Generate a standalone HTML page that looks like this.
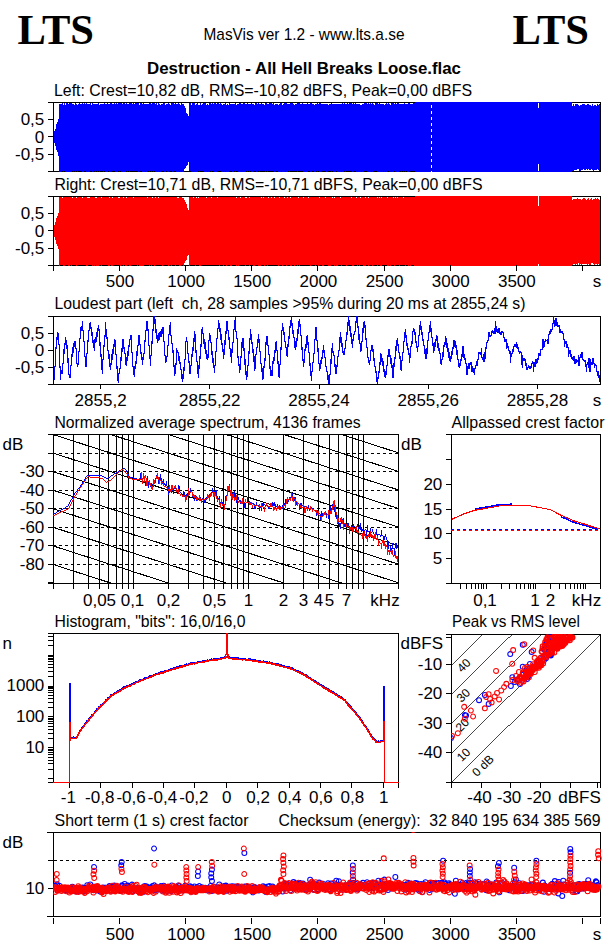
<!DOCTYPE html>
<html><head><meta charset="utf-8"><style>
html,body{margin:0;padding:0;background:#fff;width:606px;height:946px;overflow:hidden}
svg{display:block}
</style></head><body>
<svg width="606" height="946" viewBox="0 0 606 946" shape-rendering="crispEdges">
<text x="17.5" y="44" font-size="42" text-anchor="start" font-weight="bold" fill="#000" font-family='"Liberation Serif", serif' textLength="76.5" lengthAdjust="spacingAndGlyphs" >LTS</text>
<text x="512.5" y="44" font-size="42" text-anchor="start" font-weight="bold" fill="#000" font-family='"Liberation Serif", serif' textLength="76.5" lengthAdjust="spacingAndGlyphs" >LTS</text>
<text x="203.5" y="40" font-size="17" text-anchor="start" font-weight="normal" fill="#000" font-family='"Liberation Sans", sans-serif' textLength="201" lengthAdjust="spacingAndGlyphs" >MasVis ver 1.2 - www.lts.a.se</text>
<text x="147" y="74" font-size="17" text-anchor="start" font-weight="bold" fill="#000" font-family='"Liberation Sans", sans-serif' textLength="314" lengthAdjust="spacingAndGlyphs" >Destruction - All Hell Breaks Loose.flac</text>
<text x="54" y="96" font-size="17" text-anchor="start" font-weight="normal" fill="#000" font-family='"Liberation Sans", sans-serif' textLength="418" lengthAdjust="spacingAndGlyphs" >Left: Crest=10,82 dB, RMS=-10,82 dBFS, Peak=0,00 dBFS</text>
<text x="54.5" y="190" font-size="17" text-anchor="start" font-weight="normal" fill="#000" font-family='"Liberation Sans", sans-serif' textLength="428" lengthAdjust="spacingAndGlyphs" >Right: Crest=10,71 dB, RMS=-10,71 dBFS, Peak=0,00 dBFS</text>
<text x="54.5" y="309" font-size="17" text-anchor="start" font-weight="normal" fill="#000" font-family='"Liberation Sans", sans-serif' textLength="471" lengthAdjust="spacingAndGlyphs" xml:space="preserve">Loudest part (left  ch, 28 samples &gt;95% during 20 ms at 2855,24 s)</text>
<text x="54.5" y="428" font-size="17" text-anchor="start" font-weight="normal" fill="#000" font-family='"Liberation Sans", sans-serif' textLength="306" lengthAdjust="spacingAndGlyphs" >Normalized average spectrum, 4136 frames</text>
<text x="451.5" y="428" font-size="17" text-anchor="start" font-weight="normal" fill="#000" font-family='"Liberation Sans", sans-serif' textLength="153" lengthAdjust="spacingAndGlyphs" >Allpassed crest factor</text>
<text x="54.5" y="627" font-size="17" text-anchor="start" font-weight="normal" fill="#000" font-family='"Liberation Sans", sans-serif' textLength="191" lengthAdjust="spacingAndGlyphs" >Histogram, &quot;bits&quot;: 16,0/16,0</text>
<text x="452" y="627" font-size="17" text-anchor="start" font-weight="normal" fill="#000" font-family='"Liberation Sans", sans-serif' textLength="128" lengthAdjust="spacingAndGlyphs" >Peak vs RMS level</text>
<text x="54.5" y="826" font-size="17" text-anchor="start" font-weight="normal" fill="#000" font-family='"Liberation Sans", sans-serif' textLength="194" lengthAdjust="spacingAndGlyphs" >Short term (1 s) crest factor</text>
<text x="278.5" y="826" font-size="17" text-anchor="start" font-weight="normal" fill="#000" font-family='"Liberation Sans", sans-serif' textLength="322" lengthAdjust="spacingAndGlyphs" xml:space="preserve">Checksum (energy):  32 840 195 634 385 569</text>
<path d="M48 102.5H601" stroke="#000" />
<path d="M48 171.5H601" stroke="#000" />
<path d="M53.5 102V172" stroke="#000" />
<path d="M600.5 102V172" stroke="#000" />
<path d="M48 119.5H53" stroke="#000" />
<path d="M48 136.5H53" stroke="#000" />
<path d="M48 154.5H53" stroke="#000" />
<path d="M54.5 131V143M55.5 129V146M56.5 124V150M57.5 122V152M58.5 119V156M59.5 104V172M60.5 104V172M61.5 104V171M62.5 103V171M63.5 105V172M64.5 103V171M65.5 105V172M66.5 103V172M67.5 103V172M68.5 104V172M69.5 103V172M70.5 103V172M71.5 103V172M72.5 104V171M73.5 104V172M74.5 105V171M75.5 103V172M76.5 104V171M77.5 105V172M78.5 104V171M79.5 103V171M80.5 104V171M81.5 104V171M82.5 103V172M83.5 104V172M84.5 103V171M85.5 104V171M86.5 103V172M87.5 104V171M88.5 104V172M89.5 104V172M90.5 103V171M91.5 105V171M92.5 103V172M93.5 104V171M94.5 104V171M95.5 104V172M96.5 104V171M97.5 104V172M98.5 103V171M99.5 105V172M100.5 104V171M101.5 104V171M102.5 104V171M103.5 104V172M104.5 103V171M105.5 104V172M106.5 104V172M107.5 103V172M108.5 104V171M109.5 104V172M110.5 103V172M111.5 103V171M112.5 104V171M113.5 104V171M114.5 103V171M115.5 104V172M116.5 103V172M117.5 104V172M118.5 103V171M119.5 103V172M120.5 103V171M121.5 103V172M122.5 104V172M123.5 103V172M124.5 103V172M125.5 104V172M126.5 103V171M127.5 104V172M128.5 104V171M129.5 103V172M130.5 103V171M131.5 103V171M132.5 104V171M133.5 103V171M134.5 104V171M135.5 103V171M136.5 103V171M137.5 103V171M138.5 103V172M139.5 105V171M140.5 103V171M141.5 103V171M142.5 104V172M143.5 103V172M144.5 104V172M145.5 104V171M146.5 104V172M147.5 104V171M148.5 104V171M149.5 103V172M150.5 103V171M151.5 104V172M152.5 103V171M153.5 103V172M154.5 103V171M155.5 104V172M156.5 103V172M157.5 105V171M158.5 103V172M159.5 104V171M160.5 105V172M161.5 104V171M162.5 104V171M163.5 103V171M164.5 103V172M165.5 105V172M166.5 104V171M167.5 104V172M168.5 103V172M169.5 104V171M170.5 105V171M171.5 103V171M172.5 103V172M173.5 103V171M174.5 104V171M175.5 103V171M176.5 104V172M177.5 104V172M178.5 103V172M179.5 104V171M180.5 105V172M181.5 103V171M182.5 104V172M183.5 104V172M184.5 106V169M185.5 108V168M186.5 113V166M187.5 114V165M188.5 116V162M189.5 103V171M190.5 103V171M191.5 105V172M192.5 103V172M193.5 103V171M194.5 103V172M195.5 105V172M196.5 104V172M197.5 103V172M198.5 105V171M199.5 105V172M200.5 103V171M201.5 105V171M202.5 104V171M203.5 103V171M204.5 103V172M205.5 103V172M206.5 105V172M207.5 104V171M208.5 105V172M209.5 103V172M210.5 103V171M211.5 104V172M212.5 103V171M213.5 104V171M214.5 103V172M215.5 103V172M216.5 104V172M217.5 103V171M218.5 103V171M219.5 104V171M220.5 103V171M221.5 104V172M222.5 105V172M223.5 104V171M224.5 104V172M225.5 103V171M226.5 105V172M227.5 104V172M228.5 105V172M229.5 103V171M230.5 104V171M231.5 104V171M232.5 104V172M233.5 104V172M234.5 104V171M235.5 103V172M236.5 105V171M237.5 104V171M238.5 104V172M239.5 103V172M240.5 103V172M241.5 104V172M242.5 104V172M243.5 103V172M244.5 103V172M245.5 104V172M246.5 104V171M247.5 103V172M248.5 104V171M249.5 104V172M250.5 104V171M251.5 103V172M252.5 104V172M253.5 104V171M254.5 105V171M255.5 103V171M256.5 103V172M257.5 104V171M258.5 103V171M259.5 104V172M260.5 104V171M261.5 103V171M262.5 104V171M263.5 104V171M264.5 105V171M265.5 103V172M266.5 103V171M267.5 104V172M268.5 104V171M269.5 103V171M270.5 103V171M271.5 103V171M272.5 104V171M273.5 103V171M274.5 105V172M275.5 104V171M276.5 104V171M277.5 104V171M278.5 105V172M279.5 104V172M280.5 103V172M281.5 103V171M282.5 105V172M283.5 104V172M284.5 103V172M285.5 103V171M286.5 103V172M287.5 104V172M288.5 104V171M289.5 104V172M290.5 103V171M291.5 103V171M292.5 103V171M293.5 104V171M294.5 105V171M295.5 104V171M296.5 104V171M297.5 103V172M298.5 103V171M299.5 103V171M300.5 104V171M301.5 104V171M302.5 103V171M303.5 104V172M304.5 104V172M305.5 104V172M306.5 104V172M307.5 103V172M308.5 104V171M309.5 104V171M310.5 103V172M311.5 103V172M312.5 104V171M313.5 104V171M314.5 105V172M315.5 104V172M316.5 104V171M317.5 103V172M318.5 104V171M319.5 103V172M320.5 103V172M321.5 104V171M322.5 104V171M323.5 104V171M324.5 104V171M325.5 104V171M326.5 104V172M327.5 104V171M328.5 105V171M329.5 104V171M330.5 104V171M331.5 103V172M332.5 104V171M333.5 104V172M334.5 104V172M335.5 104V172M336.5 104V171M337.5 104V172M338.5 104V172M339.5 104V171M340.5 104V172M341.5 104V171M342.5 103V172M343.5 104V172M344.5 103V171M345.5 104V172M346.5 104V171M347.5 103V171M348.5 104V171M349.5 103V171M350.5 103V171M351.5 103V171M352.5 104V172M353.5 103V171M354.5 104V171M355.5 103V171M356.5 104V172M357.5 104V171M358.5 104V172M359.5 104V172M360.5 105V172M361.5 105V171M362.5 104V172M363.5 104V172M364.5 103V171M365.5 103V171M366.5 103V171M367.5 104V172M368.5 103V172M369.5 104V172M370.5 103V172M371.5 104V171M372.5 103V172M373.5 104V171M374.5 105V171M375.5 103V171M376.5 103V171M377.5 103V172M378.5 104V172M379.5 103V172M380.5 104V172M381.5 104V172M382.5 104V172M383.5 104V171M384.5 105V172M385.5 104V171M386.5 103V172M387.5 104V171M388.5 103V171M389.5 104V172M390.5 105V172M391.5 103V171M392.5 103V172M393.5 103V172M394.5 104V171M395.5 103V172M396.5 104V172M397.5 103V172M398.5 103V172M399.5 104V171M400.5 104V171M401.5 104V172M402.5 104V171M403.5 104V172M404.5 103V171M405.5 104V172M406.5 104V171M407.5 104V172M408.5 103V172M409.5 103V171M410.5 104V171M411.5 104V171M412.5 104V171M413.5 103V171M414.5 103V171M415.5 102V172M416.5 102V172M417.5 102V172M418.5 102V172M419.5 102V172M420.5 102V172M421.5 102V172M422.5 102V172M423.5 102V172M424.5 102V172M425.5 102V172M426.5 102V172M427.5 102V172M428.5 102V172M429.5 102V172M430.5 102V172M431.5 102V172M432.5 102V172M433.5 102V172M434.5 102V172M435.5 102V172M436.5 102V172M437.5 102V172M438.5 102V172M439.5 102V172M440.5 102V172M441.5 102V172M442.5 102V172M443.5 102V172M444.5 102V172M445.5 102V172M446.5 102V172M447.5 102V172M448.5 102V172M449.5 102V172M450.5 102V172M451.5 102V172M452.5 102V172M453.5 102V172M454.5 102V172M455.5 102V172M456.5 102V172M457.5 102V172M458.5 102V172M459.5 102V172M460.5 102V172M461.5 102V172M462.5 102V172M463.5 102V172M464.5 102V172M465.5 102V172M466.5 102V172M467.5 102V172M468.5 102V172M469.5 102V172M470.5 102V172M471.5 102V172M472.5 102V172M473.5 102V172M474.5 102V172M475.5 102V172M476.5 102V172M477.5 102V172M478.5 102V172M479.5 102V172M480.5 102V172M481.5 102V172M482.5 102V172M483.5 102V172M484.5 102V172M485.5 102V172M486.5 102V172M487.5 102V172M488.5 102V172M489.5 102V172M490.5 102V172M491.5 102V172M492.5 102V172M493.5 102V172M494.5 102V172M495.5 102V172M496.5 102V172M497.5 102V172M498.5 102V172M499.5 102V172M500.5 102V172M501.5 102V172M502.5 102V172M503.5 102V172M504.5 102V172M505.5 102V172M506.5 102V172M507.5 102V172M508.5 102V172M509.5 102V172M510.5 102V172M511.5 102V172M512.5 102V172M513.5 102V172M514.5 102V172M515.5 102V172M516.5 102V172M517.5 102V172M518.5 102V172M519.5 102V172M520.5 102V172M521.5 102V172M522.5 102V172M523.5 102V172M524.5 102V172M525.5 102V172M526.5 102V172M527.5 102V172M528.5 102V172M529.5 102V172M530.5 102V172M531.5 102V172M532.5 102V172M533.5 102V172M534.5 102V172M535.5 102V172M536.5 102V172M537.5 102V172M538.5 102V172M539.5 102V172M540.5 102V172M541.5 102V172M542.5 102V172M543.5 102V172M544.5 102V172M545.5 102V172M546.5 102V172M547.5 102V172M548.5 102V172M549.5 102V172M550.5 102V172M551.5 102V172M552.5 102V172M553.5 102V172M554.5 102V172M555.5 102V172M556.5 102V172M557.5 102V172M558.5 102V172M559.5 102V172M560.5 102V172M561.5 102V172M562.5 102V172M563.5 102V172M564.5 102V172M565.5 102V172M566.5 102V172M567.5 102V172M568.5 102V172M569.5 102V172M570.5 102V172M571.5 102V172M572.5 106V171M573.5 104V171M574.5 106V170M575.5 104V170M576.5 104V170M577.5 104V169M578.5 105V169M579.5 106V171M580.5 105V171M581.5 105V170M582.5 104V170M583.5 104V169M584.5 104V170M585.5 105V170M586.5 105V169M587.5 104V170M588.5 104V169M589.5 105V170M590.5 105V170M591.5 106V169M592.5 104V170M593.5 106V171M594.5 105V170M595.5 105V170M596.5 106V170M597.5 104V169M598.5 105V170M599.5 104V171" stroke="#0000ff"/>
<path d="M431.5 102V172" stroke="#000"/><path d="M431.5 105V172" stroke="#fff" stroke-dasharray="3 3"/>
<path d="M538.5 103V108M538.5 164V171" stroke="#fff"/>
<text transform="translate(44.3 125.25) scale(1.0 1)" font-size="17" text-anchor="end" font-family='"Liberation Sans", sans-serif'>0,5</text>
<text transform="translate(44.3 142.5) scale(1.0 1)" font-size="17" text-anchor="end" font-family='"Liberation Sans", sans-serif'>0</text>
<text transform="translate(44.3 159.75) scale(1.0 1)" font-size="17" text-anchor="end" font-family='"Liberation Sans", sans-serif'>-0,5</text>
<path d="M48 196.5H601" stroke="#000" />
<path d="M48 265.5H601" stroke="#000" />
<path d="M53.5 196V266" stroke="#000" />
<path d="M600.5 196V266" stroke="#000" />
<path d="M48 213.5H53" stroke="#000" />
<path d="M48 230.5H53" stroke="#000" />
<path d="M48 248.5H53" stroke="#000" />
<path d="M54.5 225V237M55.5 222V240M56.5 218V244M57.5 216V246M58.5 213V249M59.5 197V266M60.5 197V265M61.5 197V265M62.5 198V265M63.5 197V266M64.5 197V266M65.5 197V265M66.5 197V265M67.5 197V265M68.5 197V266M69.5 197V266M70.5 197V265M71.5 197V266M72.5 198V265M73.5 197V265M74.5 197V265M75.5 197V265M76.5 198V266M77.5 197V265M78.5 197V265M79.5 197V265M80.5 197V265M81.5 197V265M82.5 198V265M83.5 197V265M84.5 197V265M85.5 197V265M86.5 197V266M87.5 198V266M88.5 198V265M89.5 198V265M90.5 197V265M91.5 197V265M92.5 197V266M93.5 197V265M94.5 197V266M95.5 198V265M96.5 198V266M97.5 197V266M98.5 197V266M99.5 197V265M100.5 197V265M101.5 198V266M102.5 197V265M103.5 197V265M104.5 197V265M105.5 197V265M106.5 197V265M107.5 197V265M108.5 197V266M109.5 198V266M110.5 197V265M111.5 197V266M112.5 198V266M113.5 197V265M114.5 197V265M115.5 197V265M116.5 197V265M117.5 197V265M118.5 198V265M119.5 198V265M120.5 197V266M121.5 197V265M122.5 197V265M123.5 198V266M124.5 197V265M125.5 197V266M126.5 198V266M127.5 197V265M128.5 197V265M129.5 197V266M130.5 197V266M131.5 197V265M132.5 197V265M133.5 198V265M134.5 197V265M135.5 197V265M136.5 197V265M137.5 197V266M138.5 197V265M139.5 197V266M140.5 197V266M141.5 197V266M142.5 197V266M143.5 197V266M144.5 197V265M145.5 197V265M146.5 197V265M147.5 198V265M148.5 197V265M149.5 197V266M150.5 197V265M151.5 197V266M152.5 198V265M153.5 197V265M154.5 197V266M155.5 198V265M156.5 197V265M157.5 197V265M158.5 198V265M159.5 197V265M160.5 197V265M161.5 197V265M162.5 197V266M163.5 197V265M164.5 197V265M165.5 197V265M166.5 197V265M167.5 197V265M168.5 197V266M169.5 197V265M170.5 197V265M171.5 197V266M172.5 197V265M173.5 197V265M174.5 197V265M175.5 197V266M176.5 197V265M177.5 198V265M178.5 198V265M179.5 197V266M180.5 197V266M181.5 197V265M182.5 198V265M183.5 198V266M184.5 200V263M185.5 202V261M186.5 204V260M187.5 208V256M188.5 210V255M189.5 197V266M190.5 197V265M191.5 197V265M192.5 197V265M193.5 198V265M194.5 197V265M195.5 197V266M196.5 198V265M197.5 197V265M198.5 198V265M199.5 197V266M200.5 197V266M201.5 197V265M202.5 197V265M203.5 197V265M204.5 197V265M205.5 197V265M206.5 198V265M207.5 197V265M208.5 197V265M209.5 197V265M210.5 197V265M211.5 198V265M212.5 197V265M213.5 197V265M214.5 197V265M215.5 197V265M216.5 197V265M217.5 198V265M218.5 197V265M219.5 197V266M220.5 197V265M221.5 197V265M222.5 197V265M223.5 197V266M224.5 197V265M225.5 197V265M226.5 197V266M227.5 197V265M228.5 197V265M229.5 197V265M230.5 197V266M231.5 197V266M232.5 197V265M233.5 197V265M234.5 197V265M235.5 197V265M236.5 198V266M237.5 197V265M238.5 197V266M239.5 197V265M240.5 198V265M241.5 197V265M242.5 197V265M243.5 197V265M244.5 197V265M245.5 198V266M246.5 198V265M247.5 197V265M248.5 197V265M249.5 198V266M250.5 197V265M251.5 197V265M252.5 197V265M253.5 197V266M254.5 197V266M255.5 197V265M256.5 197V265M257.5 197V265M258.5 197V266M259.5 197V266M260.5 197V266M261.5 198V265M262.5 197V265M263.5 198V265M264.5 197V266M265.5 197V265M266.5 197V265M267.5 197V266M268.5 198V265M269.5 197V265M270.5 197V265M271.5 198V265M272.5 197V265M273.5 197V265M274.5 198V265M275.5 197V265M276.5 197V265M277.5 197V265M278.5 197V266M279.5 198V265M280.5 197V265M281.5 197V265M282.5 197V266M283.5 197V265M284.5 198V265M285.5 197V265M286.5 197V266M287.5 198V265M288.5 197V265M289.5 197V265M290.5 198V266M291.5 197V266M292.5 197V265M293.5 197V265M294.5 197V266M295.5 197V265M296.5 197V265M297.5 197V266M298.5 198V265M299.5 197V266M300.5 197V265M301.5 197V265M302.5 197V265M303.5 198V265M304.5 197V265M305.5 197V265M306.5 197V265M307.5 197V265M308.5 198V265M309.5 197V265M310.5 197V266M311.5 197V265M312.5 197V265M313.5 197V265M314.5 197V265M315.5 197V266M316.5 197V265M317.5 197V266M318.5 197V266M319.5 198V265M320.5 197V265M321.5 197V265M322.5 197V266M323.5 197V266M324.5 197V265M325.5 198V265M326.5 197V265M327.5 197V265M328.5 197V266M329.5 197V266M330.5 197V266M331.5 197V265M332.5 198V265M333.5 197V265M334.5 198V266M335.5 197V265M336.5 197V266M337.5 197V266M338.5 197V265M339.5 197V265M340.5 198V265M341.5 197V266M342.5 197V265M343.5 197V265M344.5 197V265M345.5 197V265M346.5 197V266M347.5 197V265M348.5 197V265M349.5 197V265M350.5 197V265M351.5 198V265M352.5 197V266M353.5 197V266M354.5 197V265M355.5 197V265M356.5 198V265M357.5 197V266M358.5 197V265M359.5 197V266M360.5 198V265M361.5 197V265M362.5 197V265M363.5 197V266M364.5 197V266M365.5 198V266M366.5 197V265M367.5 197V265M368.5 198V266M369.5 197V265M370.5 197V265M371.5 197V265M372.5 197V266M373.5 197V265M374.5 197V265M375.5 197V265M376.5 197V265M377.5 198V266M378.5 197V265M379.5 198V265M380.5 197V266M381.5 198V266M382.5 197V265M383.5 197V265M384.5 197V266M385.5 197V265M386.5 197V265M387.5 198V266M388.5 197V266M389.5 197V265M390.5 197V266M391.5 197V265M392.5 197V265M393.5 198V265M394.5 197V266M395.5 198V265M396.5 197V265M397.5 198V265M398.5 197V265M399.5 197V266M400.5 197V265M401.5 197V265M402.5 197V265M403.5 198V265M404.5 197V265M405.5 197V266M406.5 197V265M407.5 197V265M408.5 197V266M409.5 197V265M410.5 197V266M411.5 197V265M412.5 197V265M413.5 197V265M414.5 197V266M415.5 196V266M416.5 196V266M417.5 196V266M418.5 196V266M419.5 196V266M420.5 196V266M421.5 196V266M422.5 196V266M423.5 196V266M424.5 196V266M425.5 196V266M426.5 196V266M427.5 196V266M428.5 196V266M429.5 196V266M430.5 196V266M431.5 196V266M432.5 196V266M433.5 196V266M434.5 196V266M435.5 196V266M436.5 196V266M437.5 196V266M438.5 196V266M439.5 196V266M440.5 196V266M441.5 196V266M442.5 196V266M443.5 196V266M444.5 196V266M445.5 196V266M446.5 196V266M447.5 196V266M448.5 196V266M449.5 196V266M450.5 196V266M451.5 196V266M452.5 196V266M453.5 196V266M454.5 196V266M455.5 196V266M456.5 196V266M457.5 196V266M458.5 196V266M459.5 196V266M460.5 196V266M461.5 196V266M462.5 196V266M463.5 196V266M464.5 196V266M465.5 196V266M466.5 196V266M467.5 196V266M468.5 196V266M469.5 196V266M470.5 196V266M471.5 196V266M472.5 196V266M473.5 196V266M474.5 196V266M475.5 196V266M476.5 196V266M477.5 196V266M478.5 196V266M479.5 196V266M480.5 196V266M481.5 196V266M482.5 196V266M483.5 196V266M484.5 196V266M485.5 196V266M486.5 196V266M487.5 196V266M488.5 196V266M489.5 196V266M490.5 196V266M491.5 196V266M492.5 196V266M493.5 196V266M494.5 196V266M495.5 196V266M496.5 196V266M497.5 196V266M498.5 196V266M499.5 196V266M500.5 196V266M501.5 196V266M502.5 196V266M503.5 196V266M504.5 196V266M505.5 196V266M506.5 196V266M507.5 196V266M508.5 196V266M509.5 196V266M510.5 196V266M511.5 196V266M512.5 196V266M513.5 196V266M514.5 196V266M515.5 196V266M516.5 196V266M517.5 196V266M518.5 196V266M519.5 196V266M520.5 196V266M521.5 196V266M522.5 196V266M523.5 196V266M524.5 196V266M525.5 196V266M526.5 196V266M527.5 196V266M528.5 196V266M529.5 196V266M530.5 196V266M531.5 196V266M532.5 196V266M533.5 196V266M534.5 196V266M535.5 196V266M536.5 196V266M537.5 196V266M538.5 196V266M539.5 196V266M540.5 196V266M541.5 196V266M542.5 196V266M543.5 196V266M544.5 196V266M545.5 196V266M546.5 196V266M547.5 196V266M548.5 196V266M549.5 196V266M550.5 196V266M551.5 196V266M552.5 196V266M553.5 196V266M554.5 196V266M555.5 196V266M556.5 196V266M557.5 196V266M558.5 196V266M559.5 196V266M560.5 196V266M561.5 196V266M562.5 196V266M563.5 196V266M564.5 196V266M565.5 196V266M566.5 196V266M567.5 196V266M568.5 196V266M569.5 196V266M570.5 196V266M571.5 196V266M572.5 200V265M573.5 199V264M574.5 199V264M575.5 199V265M576.5 199V264M577.5 198V265M578.5 199V263M579.5 199V265M580.5 199V264M581.5 200V265M582.5 199V264M583.5 198V264M584.5 198V264M585.5 199V264M586.5 200V264M587.5 199V265M588.5 198V264M589.5 200V265M590.5 199V265M591.5 198V263M592.5 200V263M593.5 199V264M594.5 199V265M595.5 198V264M596.5 199V264M597.5 198V265M598.5 199V264M599.5 200V265" stroke="#ff0000"/>
<path d="M538.5 196V206M538.5 264V266" stroke="#fff"/>
<text transform="translate(44.3 219.25) scale(1.0 1)" font-size="17" text-anchor="end" font-family='"Liberation Sans", sans-serif'>0,5</text>
<text transform="translate(44.3 236.5) scale(1.0 1)" font-size="17" text-anchor="end" font-family='"Liberation Sans", sans-serif'>0</text>
<text transform="translate(44.3 253.75) scale(1.0 1)" font-size="17" text-anchor="end" font-family='"Liberation Sans", sans-serif'>-0,5</text>
<path d="M53.5 265V271" stroke="#000" />
<path d="M119.5 265V271" stroke="#000" />
<text transform="translate(119.95 287) scale(1.0 1)" font-size="17" text-anchor="middle" font-family='"Liberation Sans", sans-serif'>500</text>
<path d="M185.5 265V271" stroke="#000" />
<text transform="translate(186.10000000000002 287) scale(1.0 1)" font-size="17" text-anchor="middle" font-family='"Liberation Sans", sans-serif'>1000</text>
<path d="M251.5 265V271" stroke="#000" />
<text transform="translate(252.25 287) scale(1.0 1)" font-size="17" text-anchor="middle" font-family='"Liberation Sans", sans-serif'>1500</text>
<path d="M317.5 265V271" stroke="#000" />
<text transform="translate(318.40000000000003 287) scale(1.0 1)" font-size="17" text-anchor="middle" font-family='"Liberation Sans", sans-serif'>2000</text>
<path d="M384.5 265V271" stroke="#000" />
<text transform="translate(384.55 287) scale(1.0 1)" font-size="17" text-anchor="middle" font-family='"Liberation Sans", sans-serif'>2500</text>
<path d="M450.5 265V271" stroke="#000" />
<text transform="translate(450.70000000000005 287) scale(1.0 1)" font-size="17" text-anchor="middle" font-family='"Liberation Sans", sans-serif'>3000</text>
<path d="M516.5 265V271" stroke="#000" />
<text transform="translate(516.85 287) scale(1.0 1)" font-size="17" text-anchor="middle" font-family='"Liberation Sans", sans-serif'>3500</text>
<path d="M582.5 265V271" stroke="#000" />
<text transform="translate(597 287) scale(1.0 1)" font-size="17" text-anchor="middle" font-family='"Liberation Sans", sans-serif'>s</text>
<path d="M48 316.5H601" stroke="#000" />
<path d="M48 384.5H601" stroke="#000" />
<path d="M53.5 316V385" stroke="#000" />
<path d="M600.5 316V385" stroke="#000" />
<path d="M48 333.5H53" stroke="#000" />
<path d="M48 350.5H53" stroke="#000" />
<path d="M48 367.5H53" stroke="#000" />
<text transform="translate(44.3 339.0) scale(1.0 1)" font-size="17" text-anchor="end" font-family='"Liberation Sans", sans-serif'>0,5</text>
<text transform="translate(44.3 356.0) scale(1.0 1)" font-size="17" text-anchor="end" font-family='"Liberation Sans", sans-serif'>0</text>
<text transform="translate(44.3 373.0) scale(1.0 1)" font-size="17" text-anchor="end" font-family='"Liberation Sans", sans-serif'>-0,5</text>
<path d="M54.5 366V380M55.5 347V367M56.5 337V349M57.5 332V340M58.5 333V345M59.5 344V368M60.5 366V380M61.5 370V374M62.5 363V374M63.5 349V364M64.5 343V354M65.5 337V345M66.5 340V349M67.5 345V363M68.5 358V375M69.5 374V378M70.5 365V378M71.5 354V366M72.5 347V357M73.5 343V353M74.5 341V347M75.5 341V349M76.5 348V364M77.5 363V367M78.5 351V365M79.5 338V352M80.5 327V339M81.5 326V331M82.5 321V331M83.5 330V342M84.5 341V357M85.5 356V367M86.5 353V367M87.5 340V354M88.5 330V342M89.5 323V331M90.5 322V329M91.5 327V336M92.5 332V343M93.5 340V348M94.5 339V351M95.5 337V343M96.5 332V342M97.5 328V337M98.5 325V331M99.5 329V346M100.5 342V357M101.5 354V370M102.5 359V374M103.5 345V360M104.5 335V347M105.5 322V337M106.5 329V339M107.5 337V351M108.5 350V359M109.5 354V367M110.5 363V370M111.5 354V365M112.5 349V360M113.5 344V354M114.5 339V347M115.5 340V355M116.5 354V369M117.5 366V381M118.5 373V383M119.5 368V374M120.5 357V369M121.5 348V361M122.5 339V352M123.5 339V349M124.5 347V354M125.5 353V365M126.5 357V366M127.5 351V361M128.5 345V356M129.5 339V347M130.5 335V340M131.5 335V353M132.5 352V367M133.5 366V375M134.5 366V377M135.5 361V369M136.5 351V364M137.5 345V356M138.5 335V346M139.5 335V345M140.5 344V354M141.5 352V360M142.5 357V365M143.5 353V360M144.5 340V354M145.5 330V342M146.5 321V331M147.5 321V331M148.5 329V346M149.5 345V359M150.5 355V366M151.5 341V356M152.5 329V344M153.5 316V331M154.5 316V324M155.5 319V333M156.5 329V339M157.5 335V343M158.5 333V341M159.5 332V340M160.5 331V337M161.5 329V337M162.5 327V334M163.5 327V342M164.5 341V356M165.5 355V363M166.5 356V362M167.5 345V357M168.5 334V346M169.5 325V335M170.5 322V336M171.5 335V344M172.5 343V353M173.5 350V367M174.5 365V376M175.5 363V374M176.5 348V365M177.5 350V353M178.5 352V361M179.5 356V364M180.5 362V370M181.5 369V379M182.5 374V382M183.5 367V379M184.5 359V371M185.5 341V360M186.5 337V342M187.5 341V354M188.5 353V363M189.5 361V374M190.5 365V374M191.5 354V366M192.5 347V357M193.5 338V351M194.5 331V342M195.5 334V353M196.5 350V362M197.5 361V374M198.5 365V378M199.5 356V369M200.5 344V359M201.5 329V347M202.5 327V334M203.5 333V344M204.5 339V349M205.5 342V354M206.5 350V359M207.5 354V360M208.5 340V358M209.5 333V341M210.5 335V343M211.5 342V355M212.5 351V363M213.5 358V368M214.5 365V373M215.5 351V366M216.5 338V352M217.5 328V339M218.5 320V329M219.5 323V332M220.5 328V340M221.5 334V345M222.5 343V352M223.5 349V359M224.5 340V355M225.5 331V345M226.5 321V334M227.5 321V331M228.5 330V340M229.5 337V349M230.5 348V357M231.5 349V363M232.5 342V353M233.5 329V343M234.5 320V330M235.5 317V332M236.5 331V339M237.5 338V358M238.5 356V366M239.5 364V373M240.5 356V370M241.5 342V358M242.5 338V348M243.5 338V351M244.5 348V365M245.5 359V375M246.5 371V380M247.5 365V377M248.5 351V366M249.5 338V354M250.5 329V340M251.5 334V344M252.5 342V353M253.5 349V362M254.5 356V371M255.5 354V369M256.5 347V355M257.5 339V348M258.5 334V343M259.5 339V352M260.5 351V364M261.5 363V372M262.5 368V380M263.5 366V379M264.5 358V368M265.5 342V361M266.5 336V345M267.5 336V346M268.5 345V355M269.5 354V369M270.5 366V376M271.5 370V376M272.5 361V376M273.5 357V364M274.5 350V361M275.5 342V353M276.5 341V351M277.5 350V364M278.5 361V377M279.5 364V378M280.5 347V365M281.5 330V350M282.5 323V331M283.5 327V335M284.5 332V342M285.5 341V348M286.5 347V356M287.5 344V357M288.5 336V347M289.5 326V339M290.5 320V328M291.5 316V326M292.5 323V334M293.5 330V338M294.5 337V348M295.5 341V350M296.5 338V347M297.5 329V341M298.5 321V334M299.5 319V327M300.5 324V336M301.5 335V350M302.5 347V361M303.5 359V367M304.5 349V363M305.5 344V351M306.5 336V348M307.5 335V345M308.5 342V353M309.5 352V366M310.5 363V376M311.5 371V381M312.5 362V372M313.5 353V363M314.5 339V354M315.5 327V340M316.5 327V341M317.5 340V352M318.5 348V364M319.5 363V371M320.5 360V369M321.5 357V364M322.5 350V359M323.5 345V353M324.5 350V358M325.5 357V367M326.5 366V372M327.5 371V380M328.5 375V384M329.5 374V384M330.5 359V375M331.5 348V364M332.5 343V353M333.5 351V356M334.5 355V367M335.5 364V374M336.5 365V374M337.5 356V367M338.5 350V357M339.5 337V351M340.5 332V343M341.5 337V347M342.5 343V353M343.5 351V355M344.5 348V355M345.5 340V349M346.5 332V341M347.5 322V335M348.5 316V326M349.5 320V331M350.5 326V337M351.5 333V344M352.5 339V348M353.5 334V341M354.5 331V335M355.5 321V332M356.5 316V323M357.5 316V328M358.5 326V340M359.5 334V344M360.5 343V352M361.5 341V351M362.5 328V342M363.5 322V333M364.5 321V328M365.5 325V340M366.5 338V348M367.5 347V358M368.5 357V363M369.5 360V365M370.5 350V361M371.5 345V351M372.5 345V352M373.5 349V361M374.5 358V367M375.5 366V373M376.5 371V382M377.5 377V384M378.5 371V379M379.5 362V373M380.5 353V365M381.5 354V362M382.5 358V366M383.5 361V372M384.5 369V377M385.5 371V378M386.5 365V375M387.5 355V366M388.5 349V357M389.5 349V357M390.5 355V364M391.5 358V368M392.5 365V378M393.5 363V378M394.5 357V367M395.5 346V359M396.5 340V351M397.5 338V346M398.5 344V353M399.5 352V359M400.5 356V370M401.5 360V371M402.5 352V361M403.5 341V353M404.5 332V342M405.5 329V338M406.5 335V346M407.5 343V350M408.5 348V355M409.5 353V363M410.5 346V358M411.5 341V347M412.5 331V344M413.5 328V332M414.5 329V335M415.5 332V343M416.5 341V348M417.5 346V352M418.5 335V347M419.5 325V336M420.5 321V330M421.5 326V335M422.5 332V341M423.5 339V346M424.5 345V354M425.5 349V359M426.5 348V359M427.5 340V354M428.5 332V341M429.5 325V333M430.5 321V332M431.5 328V338M432.5 337V346M433.5 343V353M434.5 342V351M435.5 339V347M436.5 335V341M437.5 336V348M438.5 343V351M439.5 348V354M440.5 353V364M441.5 359V365M442.5 352V360M443.5 345V357M444.5 342V347M445.5 336V345M446.5 338V348M447.5 343V352M448.5 348V358M449.5 352V361M450.5 356V362M451.5 351V359M452.5 347V355M453.5 340V349M454.5 340V347M455.5 341V348M456.5 345V355M457.5 350V360M458.5 359V367M459.5 363V368M460.5 359V366M461.5 354V361M462.5 346V357M463.5 346V358M464.5 354V360M465.5 358V364M466.5 363V375M467.5 366V375M468.5 363V369M469.5 363V369M470.5 362V365M471.5 362V372M472.5 366V372M473.5 368V373M474.5 368V375M475.5 365V369M476.5 361V366M477.5 359V366M478.5 352V360M479.5 352V354M480.5 352V355M481.5 348V358M482.5 357V360M483.5 354V362M484.5 352V362M485.5 347V359M486.5 342V349M487.5 340V343M488.5 332V341M489.5 332V337M490.5 335V337M491.5 331V336M492.5 330V333M493.5 331V334M494.5 328V334M495.5 321V334M496.5 326V332M497.5 329V333M498.5 328V333M499.5 328V334M500.5 332V335M501.5 331V335M502.5 331V333M503.5 332V338M504.5 337V342M505.5 339V342M506.5 339V349M507.5 343V348M508.5 346V351M509.5 350V354M510.5 351V363M511.5 353V357M512.5 349V354M513.5 346V352M514.5 344V347M515.5 344V347M516.5 342V348M517.5 344V349M518.5 347V352M519.5 351V354M520.5 351V353M521.5 352V365M522.5 355V368M523.5 358V361M524.5 358V361M525.5 359V366M526.5 363V370M527.5 367V370M528.5 365V368M529.5 366V369M530.5 366V369M531.5 363V368M532.5 361V364M533.5 362V372M534.5 362V367M535.5 359V367M536.5 359V364M537.5 358V363M538.5 353V360M539.5 353V356M540.5 349V356M541.5 349V350M542.5 339V350M543.5 339V348M544.5 341V347M545.5 339V342M546.5 340V341M547.5 339V344M548.5 334V344M549.5 331V335M550.5 329V334M551.5 329V332M552.5 323V330M553.5 316V324M554.5 320V327M555.5 318V326M556.5 318V326M557.5 322V327M558.5 325V327M559.5 325V333M560.5 329V333M561.5 331V333M562.5 331V334M563.5 333V340M564.5 339V347M565.5 341V344M566.5 341V348M567.5 344V348M568.5 347V357M569.5 350V354M570.5 350V357M571.5 354V359M572.5 357V360M573.5 356V361M574.5 356V364M575.5 359V364M576.5 359V363M577.5 360V362M578.5 355V366M579.5 357V366M580.5 354V358M581.5 352V358M582.5 352V360M583.5 359V361M584.5 360V362M585.5 360V367M586.5 364V372M587.5 362V365M588.5 358V368M589.5 358V372M590.5 359V372M591.5 362V365M592.5 358V365M593.5 358V364M594.5 363V368M595.5 364V366M596.5 365V372M597.5 371V376M598.5 371V378M599.5 375V382" stroke="#0000ff"/>
<path d="M53.5 316V384" stroke="#000" />
<path d="M100.5 384V389" stroke="#000" />
<text transform="translate(100.6 406) scale(1.0 1)" font-size="17" text-anchor="middle" font-family='"Liberation Sans", sans-serif'>2855,2</text>
<path d="M209.5 384V389" stroke="#000" />
<text transform="translate(209.8 406) scale(1.0 1)" font-size="17" text-anchor="middle" font-family='"Liberation Sans", sans-serif'>2855,22</text>
<path d="M319.5 384V389" stroke="#000" />
<text transform="translate(319.0 406) scale(1.0 1)" font-size="17" text-anchor="middle" font-family='"Liberation Sans", sans-serif'>2855,24</text>
<path d="M428.5 384V389" stroke="#000" />
<text transform="translate(428.20000000000005 406) scale(1.0 1)" font-size="17" text-anchor="middle" font-family='"Liberation Sans", sans-serif'>2855,26</text>
<path d="M537.5 384V389" stroke="#000" />
<text transform="translate(537.4 406) scale(1.0 1)" font-size="17" text-anchor="middle" font-family='"Liberation Sans", sans-serif'>2855,28</text>
<text transform="translate(597 406) scale(1.0 1)" font-size="17" text-anchor="middle" font-family='"Liberation Sans", sans-serif'>s</text>
<path d="M48 434.5H53" stroke="#000" />
<path d="M48 453.5H53" stroke="#000" />
<path d="M53 453.5H398" stroke="#000" stroke-dasharray="3 3"/>
<path d="M48 471.5H53" stroke="#000" />
<path d="M53 471.5H398" stroke="#000" stroke-dasharray="3 3"/>
<path d="M48 490.5H53" stroke="#000" />
<path d="M53 490.5H398" stroke="#000" stroke-dasharray="3 3"/>
<path d="M48 508.5H53" stroke="#000" />
<path d="M53 508.5H398" stroke="#000" stroke-dasharray="3 3"/>
<path d="M48 527.5H53" stroke="#000" />
<path d="M53 527.5H398" stroke="#000" stroke-dasharray="3 3"/>
<path d="M48 545.5H53" stroke="#000" />
<path d="M53 545.5H398" stroke="#000" stroke-dasharray="3 3"/>
<path d="M48 564.5H53" stroke="#000" />
<path d="M53 564.5H398" stroke="#000" stroke-dasharray="3 3"/>
<path d="M48 582.5H53" stroke="#000" />
<text transform="translate(44.3 477) scale(1.0 1)" font-size="17" text-anchor="end" font-family='"Liberation Sans", sans-serif'>-30</text>
<text transform="translate(44.3 496) scale(1.0 1)" font-size="17" text-anchor="end" font-family='"Liberation Sans", sans-serif'>-40</text>
<text transform="translate(44.3 514) scale(1.0 1)" font-size="17" text-anchor="end" font-family='"Liberation Sans", sans-serif'>-50</text>
<text transform="translate(44.3 533) scale(1.0 1)" font-size="17" text-anchor="end" font-family='"Liberation Sans", sans-serif'>-60</text>
<text transform="translate(44.3 551) scale(1.0 1)" font-size="17" text-anchor="end" font-family='"Liberation Sans", sans-serif'>-70</text>
<text transform="translate(44.3 570) scale(1.0 1)" font-size="17" text-anchor="end" font-family='"Liberation Sans", sans-serif'>-80</text>
<text transform="translate(2.5 450) scale(1.0 1)" font-size="17" text-anchor="start" font-family='"Liberation Sans", sans-serif'>dB</text>
<text transform="translate(401 450) scale(1.0 1)" font-size="17" text-anchor="start" font-family='"Liberation Sans", sans-serif'>dB</text>
<clipPath id="spc"><rect x="53" y="434" width="346" height="150"/></clipPath>
<path d="M53 304.56L399 415.88M53 323.12L399 434.45M53 341.69L399 453.01M53 360.25L399 471.57M53 378.81L399 490.13M53 397.38L399 508.70M53 415.94L399 527.26M53 434.50L399 545.82M53 453.06L399 564.38M53 471.62L399 582.95M53 490.19L399 601.51M53 508.75L399 620.07M53 527.31L399 638.63M53 545.88L399 657.20M53 564.44L399 675.76" stroke="#000" stroke-width="1.05" fill="none" clip-path="url(#spc)"/>
<path d="M73.5 434V589" stroke="#000" />
<path d="M88.5 434V589" stroke="#000" />
<path d="M99.5 434V589" stroke="#000" />
<path d="M108.5 434V589" stroke="#000" />
<path d="M116.5 434V589" stroke="#000" />
<path d="M122.5 434V589" stroke="#000" />
<path d="M128.5 434V589" stroke="#000" />
<path d="M133.5 434V589" stroke="#000" />
<path d="M168.5 434V589" stroke="#000" />
<path d="M188.5 434V589" stroke="#000" />
<path d="M203.5 434V589" stroke="#000" />
<path d="M214.5 434V589" stroke="#000" />
<path d="M223.5 434V589" stroke="#000" />
<path d="M231.5 434V589" stroke="#000" />
<path d="M237.5 434V589" stroke="#000" />
<path d="M243.5 434V589" stroke="#000" />
<path d="M248.5 434V589" stroke="#000" />
<path d="M283.5 434V589" stroke="#000" />
<path d="M303.5 434V589" stroke="#000" />
<path d="M318.5 434V589" stroke="#000" />
<path d="M329.5 434V589" stroke="#000" />
<path d="M338.5 434V589" stroke="#000" />
<path d="M346.5 434V589" stroke="#000" />
<path d="M352.5 434V589" stroke="#000" />
<path d="M358.5 434V589" stroke="#000" />
<path d="M363.5 434V589" stroke="#000" />
<path d="M53.5 434V589" stroke="#000" />
<path d="M398.5 434V589" stroke="#000" />
<path d="M48 434.5H399" stroke="#000" />
<path d="M48 583.5H399" stroke="#000" />
<text transform="translate(99.5 606) scale(1.0 1)" font-size="17" text-anchor="middle" font-family='"Liberation Sans", sans-serif'>0,05</text>
<text transform="translate(132.5 606) scale(1.0 1)" font-size="17" text-anchor="middle" font-family='"Liberation Sans", sans-serif'>0,1</text>
<text transform="translate(168.5 606) scale(1.0 1)" font-size="17" text-anchor="middle" font-family='"Liberation Sans", sans-serif'>0,2</text>
<text transform="translate(214.5 606) scale(1.0 1)" font-size="17" text-anchor="middle" font-family='"Liberation Sans", sans-serif'>0,5</text>
<text transform="translate(248.5 606) scale(1.0 1)" font-size="17" text-anchor="middle" font-family='"Liberation Sans", sans-serif'>1</text>
<text transform="translate(283.5 606) scale(1.0 1)" font-size="17" text-anchor="middle" font-family='"Liberation Sans", sans-serif'>2</text>
<text transform="translate(303.5 606) scale(1.0 1)" font-size="17" text-anchor="middle" font-family='"Liberation Sans", sans-serif'>3</text>
<text transform="translate(318.5 606) scale(1.0 1)" font-size="17" text-anchor="middle" font-family='"Liberation Sans", sans-serif'>4</text>
<text transform="translate(329.5 606) scale(1.0 1)" font-size="17" text-anchor="middle" font-family='"Liberation Sans", sans-serif'>5</text>
<text transform="translate(346.5 606) scale(1.0 1)" font-size="17" text-anchor="middle" font-family='"Liberation Sans", sans-serif'>7</text>
<text transform="translate(385 606) scale(1.0 1)" font-size="17" text-anchor="middle" font-family='"Liberation Sans", sans-serif'>kHz</text>
<path d="M53.5 513V514M54.5 513V514M55.5 513V514M56.5 512V513M57.5 511V512M58.5 511V512M59.5 510V511M60.5 510V511M61.5 509V510M62.5 509V510M63.5 508V509M64.5 508V509M65.5 507V508M66.5 506V507M67.5 506V507M68.5 504V506M69.5 502V504M70.5 500V502M71.5 499V500M72.5 497V499M73.5 495V497M74.5 493V495M75.5 492V493M76.5 491V492M77.5 489V491M78.5 488V489M79.5 487V488M80.5 485V487M81.5 484V485M82.5 482V484M83.5 481V482M84.5 479V481M85.5 477V479M86.5 476V477M87.5 475V476M88.5 475V476M89.5 475V476M90.5 475V476M91.5 475V476M92.5 475V476M93.5 475V476M94.5 475V476M95.5 475V476M96.5 475V476M97.5 475V476M98.5 475V476M99.5 475V476M100.5 475V476M101.5 475V476M102.5 476V477M103.5 476V477M104.5 477V478M105.5 477V478M106.5 478V479M107.5 478V479M108.5 477V478M109.5 477V478M110.5 476V477M111.5 475V476M112.5 475V476M113.5 474V475M114.5 473V474M115.5 473V474M116.5 472V473M117.5 472V473M118.5 471V472M119.5 470V471M120.5 470V471M121.5 469V470M122.5 469V470M123.5 468V469M124.5 468V469M125.5 469V470M126.5 470V472M127.5 472V474M128.5 474V476M129.5 476V478M130.5 477V478M131.5 477V478M132.5 477V478M133.5 478V479M134.5 478V479M135.5 478V479M136.5 478V479M137.5 479V480M138.5 479V480M139.5 479V480M140.5 473V479M141.5 476V480M142.5 480V484M143.5 481V482M144.5 480V481M145.5 481V486M146.5 478V482M147.5 476V481M148.5 481V488M149.5 483V485M150.5 484V487M151.5 483V488M152.5 484V485M153.5 483V487M154.5 480V483M155.5 478V483M156.5 475V478M157.5 476V479M158.5 479V484M159.5 477V481M160.5 474V480M161.5 478V481M162.5 481V484M163.5 479V483M164.5 483V485M165.5 484V487M166.5 481V486M167.5 486V490M168.5 487V495M169.5 489V493M170.5 489V490M171.5 488V493M172.5 487V491M173.5 488V494M174.5 486V489M175.5 487V489M176.5 489V490M177.5 490V493M178.5 485V491M179.5 486V492M180.5 492V493M181.5 493V495M182.5 495V496M183.5 491V497M184.5 492V497M185.5 496V497M186.5 494V499M187.5 493V496M188.5 491V495M189.5 491V494M190.5 488V493M191.5 491V492M192.5 492V497M193.5 494V498M194.5 496V501M195.5 495V498M196.5 496V501M197.5 497V498M198.5 498V499M199.5 497V500M200.5 497V500M201.5 499V500M202.5 498V499M203.5 498V502M204.5 499V503M205.5 498V503M206.5 497V500M207.5 497V498M208.5 495V498M209.5 494V497M210.5 495V496M211.5 492V495M212.5 488V493M213.5 490V492M214.5 491V497M215.5 490V494M216.5 490V496M217.5 496V502M218.5 498V499M219.5 496V502M220.5 502V503M221.5 501V502M222.5 502V504M223.5 503V504M224.5 504V506M225.5 496V505M226.5 495V499M227.5 490V495M228.5 486V490M229.5 484V490M230.5 490V491M231.5 488V493M232.5 493V496M233.5 492V497M234.5 491V497M235.5 493V499M236.5 498V503M237.5 499V500M238.5 497V500M239.5 500V502M240.5 500V504M241.5 501V503M242.5 498V502M243.5 499V502M244.5 502V508M245.5 503V508M246.5 502V503M247.5 497V503M248.5 502V503M249.5 501V502M250.5 502V504M251.5 503V504M252.5 503V504M253.5 503V504M254.5 504V509M255.5 505V509M256.5 502V505M257.5 505V506M258.5 505V506M259.5 506V511M260.5 507V508M261.5 506V511M262.5 503V507M263.5 503V506M264.5 504V505M265.5 505V506M266.5 505V506M267.5 505V506M268.5 506V509M269.5 506V509M270.5 503V506M271.5 503V507M272.5 502V506M273.5 503V506M274.5 502V506M275.5 504V508M276.5 506V507M277.5 504V508M278.5 506V509M279.5 505V509M280.5 506V509M281.5 507V508M282.5 505V509M283.5 503V506M284.5 503V506M285.5 499V504M286.5 502V503M287.5 501V504M288.5 499V502M289.5 497V500M290.5 497V501M291.5 496V497M292.5 493V497M293.5 497V498M294.5 497V501M295.5 497V501M296.5 501V505M297.5 502V505M298.5 503V504M299.5 504V510M300.5 503V506M301.5 503V507M302.5 505V506M303.5 505V508M304.5 506V509M305.5 506V507M306.5 506V507M307.5 507V508M308.5 505V508M309.5 508V511M310.5 507V508M311.5 507V508M312.5 508V509M313.5 509V510M314.5 510V511M315.5 510V511M316.5 511V516M317.5 510V514M318.5 512V515M319.5 513V514M320.5 514V520M321.5 511V516M322.5 513V516M323.5 515V516M324.5 514V515M325.5 513V514M326.5 513V518M327.5 514V515M328.5 514V519M329.5 513V514M330.5 506V513M331.5 509V511M332.5 504V509M333.5 505V510M334.5 507V512M335.5 512V517M336.5 515V519M337.5 519V524M338.5 520V524M339.5 523V527M340.5 523V529M341.5 518V524M342.5 519V524M343.5 518V524M344.5 524V527M345.5 524V527M346.5 524V527M347.5 523V527M348.5 523V526M349.5 526V527M350.5 527V528M351.5 525V531M352.5 526V527M353.5 524V527M354.5 526V527M355.5 527V533M356.5 527V528M357.5 524V527M358.5 527V529M359.5 525V529M360.5 523V530M361.5 528V532M362.5 529V531M363.5 530V535M364.5 530V536M365.5 529V530M366.5 530V537M367.5 525V532M368.5 531V532M369.5 531V538M370.5 528V532M371.5 532V533M372.5 529V532M373.5 532V534M374.5 534V535M375.5 535V539M376.5 529V535M377.5 534V538M378.5 534V535M379.5 534V535M380.5 535V537M381.5 530V536M382.5 535V536M383.5 536V545M384.5 536V540M385.5 534V537M386.5 537V540M387.5 540V547M388.5 541V549M389.5 545V546M390.5 546V551M391.5 548V554M392.5 543V549M393.5 548V549M394.5 548V555M395.5 543V548M396.5 543V549M397.5 546V548" stroke="#0000ff" clip-path="url(#spc)"/>
<path d="M53.5 515V516M54.5 515V516M55.5 514V515M56.5 514V515M57.5 513V514M58.5 513V514M59.5 512V513M60.5 512V513M61.5 511V512M62.5 511V512M63.5 511V512M64.5 510V511M65.5 510V511M66.5 509V510M67.5 509V510M68.5 508V509M69.5 506V508M70.5 504V506M71.5 502V504M72.5 500V502M73.5 498V500M74.5 496V498M75.5 495V496M76.5 493V495M77.5 491V493M78.5 490V491M79.5 488V490M80.5 487V488M81.5 485V487M82.5 484V485M83.5 482V484M84.5 481V482M85.5 479V481M86.5 478V479M87.5 477V478M88.5 476V477M89.5 476V477M90.5 477V478M91.5 477V478M92.5 477V478M93.5 477V478M94.5 477V478M95.5 477V478M96.5 477V478M97.5 477V478M98.5 477V478M99.5 477V478M100.5 478V479M101.5 478V479M102.5 478V479M103.5 479V480M104.5 480V481M105.5 481V482M106.5 482V483M107.5 481V482M108.5 481V482M109.5 480V481M110.5 480V481M111.5 479V480M112.5 478V479M113.5 477V478M114.5 476V477M115.5 475V476M116.5 474V475M117.5 473V474M118.5 472V473M119.5 471V472M120.5 470V471M121.5 469V470M122.5 469V470M123.5 470V471M124.5 471V472M125.5 472V473M126.5 473V474M127.5 474V476M128.5 476V478M129.5 478V479M130.5 478V479M131.5 478V479M132.5 479V480M133.5 479V480M134.5 479V480M135.5 479V480M136.5 479V480M137.5 479V480M138.5 479V480M139.5 478V479M140.5 479V480M141.5 472V479M142.5 478V484M143.5 473V479M144.5 476V482M145.5 475V478M146.5 478V486M147.5 480V486M148.5 481V482M149.5 480V485M150.5 483V486M151.5 486V489M152.5 486V490M153.5 479V486M154.5 480V484M155.5 479V480M156.5 476V479M157.5 473V477M158.5 477V480M159.5 480V484M160.5 480V481M161.5 481V485M162.5 482V483M163.5 483V486M164.5 486V487M165.5 486V487M166.5 487V488M167.5 488V489M168.5 489V491M169.5 485V491M170.5 489V492M171.5 485V491M172.5 485V490M173.5 488V489M174.5 486V488M175.5 485V488M176.5 488V492M177.5 491V492M178.5 489V494M179.5 493V494M180.5 494V496M181.5 494V495M182.5 495V497M183.5 496V497M184.5 495V496M185.5 496V502M186.5 496V500M187.5 496V497M188.5 488V496M189.5 492V495M190.5 492V493M191.5 491V492M192.5 492V496M193.5 494V497M194.5 495V498M195.5 496V497M196.5 497V500M197.5 497V501M198.5 498V499M199.5 495V501M200.5 498V501M201.5 500V503M202.5 499V500M203.5 500V501M204.5 499V500M205.5 499V500M206.5 498V499M207.5 494V499M208.5 495V498M209.5 497V501M210.5 493V497M211.5 493V496M212.5 492V493M213.5 491V497M214.5 492V497M215.5 494V496M216.5 496V499M217.5 499V501M218.5 499V500M219.5 500V505M220.5 503V508M221.5 499V504M222.5 504V506M223.5 504V505M224.5 504V510M225.5 501V504M226.5 496V501M227.5 486V496M228.5 486V491M229.5 485V490M230.5 490V496M231.5 491V499M232.5 494V500M233.5 493V498M234.5 497V501M235.5 498V500M236.5 495V500M237.5 500V501M238.5 501V503M239.5 501V502M240.5 502V503M241.5 501V504M242.5 498V504M243.5 502V503M244.5 502V503M245.5 499V502M246.5 502V503M247.5 502V503M248.5 502V503M249.5 502V505M250.5 503V505M251.5 502V505M252.5 505V508M253.5 504V505M254.5 505V506M255.5 506V507M256.5 505V506M257.5 505V506M258.5 506V507M259.5 504V507M260.5 506V507M261.5 503V508M262.5 506V507M263.5 507V508M264.5 507V512M265.5 506V507M266.5 503V506M267.5 506V507M268.5 506V507M269.5 507V508M270.5 503V507M271.5 503V507M272.5 506V507M273.5 507V511M274.5 507V510M275.5 508V509M276.5 508V511M277.5 506V509M278.5 506V509M279.5 509V510M280.5 507V510M281.5 508V509M282.5 507V508M283.5 505V507M284.5 505V506M285.5 504V508M286.5 499V504M287.5 497V501M288.5 499V500M289.5 498V499M290.5 498V501M291.5 492V498M292.5 496V501M293.5 497V502M294.5 498V499M295.5 499V506M296.5 501V502M297.5 502V506M298.5 503V504M299.5 504V505M300.5 505V508M301.5 506V509M302.5 507V508M303.5 504V507M304.5 507V513M305.5 508V513M306.5 506V509M307.5 508V511M308.5 508V509M309.5 508V509M310.5 506V510M311.5 508V509M312.5 509V512M313.5 509V510M314.5 510V511M315.5 511V512M316.5 510V513M317.5 513V515M318.5 511V515M319.5 515V516M320.5 516V517M321.5 516V521M322.5 516V517M323.5 513V516M324.5 512V515M325.5 511V515M326.5 515V516M327.5 514V515M328.5 510V515M329.5 514V515M330.5 511V514M331.5 510V514M332.5 506V510M333.5 501V507M334.5 500V507M335.5 505V512M336.5 512V515M337.5 515V523M338.5 518V522M339.5 521V522M340.5 518V522M341.5 517V521M342.5 520V524M343.5 524V530M344.5 523V524M345.5 523V524M346.5 524V527M347.5 527V528M348.5 526V527M349.5 527V534M350.5 527V530M351.5 528V529M352.5 527V532M353.5 528V532M354.5 528V529M355.5 528V529M356.5 526V532M357.5 530V534M358.5 531V533M359.5 533V535M360.5 534V535M361.5 535V536M362.5 533V539M363.5 534V537M364.5 531V536M365.5 535V538M366.5 536V539M367.5 536V542M368.5 534V537M369.5 536V537M370.5 531V537M371.5 534V537M372.5 535V538M373.5 536V541M374.5 534V539M375.5 532V538M376.5 538V540M377.5 536V540M378.5 540V546M379.5 541V543M380.5 543V544M381.5 543V549M382.5 540V543M383.5 540V546M384.5 541V546M385.5 544V549M386.5 545V547M387.5 547V555M388.5 550V552M389.5 550V555M390.5 551V552M391.5 550V554M392.5 550V555M393.5 555V557M394.5 555V556M395.5 551V558M396.5 556V559M397.5 556V562" stroke="#ff0000" clip-path="url(#spc)"/>
<path d="M451.5 434V584" stroke="#000" />
<path d="M600.5 434V589" stroke="#000" />
<path d="M446 434.5H601" stroke="#000" />
<path d="M446 583.5H601" stroke="#000" />
<path d="M446 558.5H451" stroke="#000" />
<path d="M446 533.5H451" stroke="#000" />
<path d="M446 509.5H451" stroke="#000" />
<path d="M446 484.5H451" stroke="#000" />
<path d="M446 459.5H451" stroke="#000" />
<text transform="translate(442.3 564) scale(1.0 1)" font-size="17" text-anchor="end" font-family='"Liberation Sans", sans-serif'>5</text>
<text transform="translate(442.3 539) scale(1.0 1)" font-size="17" text-anchor="end" font-family='"Liberation Sans", sans-serif'>10</text>
<text transform="translate(442.3 515) scale(1.0 1)" font-size="17" text-anchor="end" font-family='"Liberation Sans", sans-serif'>15</text>
<text transform="translate(442.3 490) scale(1.0 1)" font-size="17" text-anchor="end" font-family='"Liberation Sans", sans-serif'>20</text>
<path d="M460.5 583V589" stroke="#000" />
<path d="M466.5 583V589" stroke="#000" />
<path d="M471.5 583V589" stroke="#000" />
<path d="M475.5 583V589" stroke="#000" />
<path d="M478.5 583V589" stroke="#000" />
<path d="M481.5 583V589" stroke="#000" />
<path d="M483.5 583V589" stroke="#000" />
<path d="M486.5 583V589" stroke="#000" />
<path d="M501.5 583V589" stroke="#000" />
<path d="M509.5 583V589" stroke="#000" />
<path d="M516.5 583V589" stroke="#000" />
<path d="M520.5 583V589" stroke="#000" />
<path d="M524.5 583V589" stroke="#000" />
<path d="M528.5 583V589" stroke="#000" />
<path d="M530.5 583V589" stroke="#000" />
<path d="M533.5 583V589" stroke="#000" />
<path d="M535.5 583V589" stroke="#000" />
<path d="M550.5 583V589" stroke="#000" />
<path d="M559.5 583V589" stroke="#000" />
<path d="M565.5 583V589" stroke="#000" />
<path d="M570.5 583V589" stroke="#000" />
<path d="M574.5 583V589" stroke="#000" />
<path d="M577.5 583V589" stroke="#000" />
<path d="M580.5 583V589" stroke="#000" />
<path d="M583.5 583V589" stroke="#000" />
<path d="M585.5 583V589" stroke="#000" />
<text transform="translate(485 606) scale(1.0 1)" font-size="17" text-anchor="middle" font-family='"Liberation Sans", sans-serif'>0,1</text>
<text transform="translate(535 606) scale(1.0 1)" font-size="17" text-anchor="middle" font-family='"Liberation Sans", sans-serif'>1</text>
<text transform="translate(550.5 606) scale(1.0 1)" font-size="17" text-anchor="middle" font-family='"Liberation Sans", sans-serif'>2</text>
<text transform="translate(586.5 606) scale(1.0 1)" font-size="17" text-anchor="middle" font-family='"Liberation Sans", sans-serif'>kHz</text>
<path d="M475.0 509.0 L476.0 508.8 L477.0 508.7 L478.0 508.5 L479.0 508.3 L480.0 508.1 L481.0 508.0 L482.0 507.8 L483.0 507.6 L484.0 507.4 L485.0 507.3 L486.0 507.1 L487.0 506.9 L488.0 506.7 L489.0 506.6 L490.0 506.4 L491.0 506.2 L492.0 506.0 L493.0 505.8 L494.0 505.6 L495.0 505.5 L496.0 505.3 L497.0 505.1 L498.0 504.9 L499.0 504.7 L500.0 504.5 L501.0 504.5 L502.0 504.4 L503.0 504.4 L504.0 504.4 L505.0 504.3 L506.0 504.3 L507.0 504.3 L508.0 504.2 L509.0 504.2 L510.0 504.2 L511.0 504.1 L512.0 504.1" fill="none" stroke="#0000ff" stroke-width="1.4" />
<path d="M561.0 516.6 L562.0 517.1 L563.0 517.5 L564.0 518.0 L565.0 518.4 L566.0 518.9 L567.0 519.3 L568.0 519.8 L569.0 520.2 L570.0 520.7 L571.0 521.1 L572.0 521.6 L573.0 522.0 L574.0 522.4 L575.0 522.7 L576.0 523.0 L577.0 523.3 L578.0 523.6 L579.0 523.9 L580.0 524.1 L581.0 524.4 L582.0 524.7 L583.0 525.0 L584.0 525.3 L585.0 525.6 L586.0 525.9 L587.0 526.2 L588.0 526.5 L589.0 526.8 L590.0 527.1 L591.0 527.4 L592.0 527.7 L593.0 528.0 L594.0 528.3 L595.0 528.6 L596.0 528.9 L597.0 529.2 L598.0 529.5" fill="none" stroke="#0000ff" stroke-width="1.4" />
<path d="M452.0 519.2 L453.0 518.7 L454.0 518.3 L455.0 517.8 L456.0 517.4 L457.0 516.9 L458.0 516.5 L459.0 516.0 L460.0 515.6 L461.0 515.2 L462.0 514.7 L463.0 514.3 L464.0 513.9 L465.0 513.6 L466.0 513.3 L467.0 512.9 L468.0 512.6 L469.0 512.2 L470.0 511.9 L471.0 511.6 L472.0 511.2 L473.0 510.9 L474.0 510.6 L475.0 510.3 L476.0 510.1 L477.0 510.0 L478.0 509.8 L479.0 509.6 L480.0 509.4 L481.0 509.3 L482.0 509.1 L483.0 508.9 L484.0 508.7 L485.0 508.6 L486.0 508.4 L487.0 508.2 L488.0 508.0 L489.0 507.9 L490.0 507.7 L491.0 507.5 L492.0 507.3 L493.0 507.1 L494.0 506.9 L495.0 506.8 L496.0 506.6 L497.0 506.4 L498.0 506.2 L499.0 506.0 L500.0 505.8 L501.0 505.8 L502.0 505.7 L503.0 505.7 L504.0 505.6 L505.0 505.6 L506.0 505.6 L507.0 505.5 L508.0 505.5 L509.0 505.4 L510.0 505.4 L511.0 505.3 L512.0 505.3 L513.0 505.3 L514.0 505.3 L515.0 505.3 L516.0 505.3 L517.0 505.3 L518.0 505.3 L519.0 505.3 L520.0 505.3 L521.0 505.3 L522.0 505.3 L523.0 505.3 L524.0 505.3 L525.0 505.3 L526.0 505.3 L527.0 505.3 L528.0 505.4 L529.0 505.6 L530.0 505.8 L531.0 506.0 L532.0 506.2 L533.0 506.4 L534.0 506.5 L535.0 506.7 L536.0 506.9 L537.0 507.1 L538.0 507.3 L539.0 507.4 L540.0 507.6 L541.0 507.8 L542.0 508.0 L543.0 508.2 L544.0 508.4 L545.0 508.6 L546.0 508.8 L547.0 509.0 L548.0 509.2 L549.0 509.4 L550.0 509.6 L551.0 510.0 L552.0 510.5 L553.0 511.1 L554.0 511.6 L555.0 512.1 L556.0 512.6 L557.0 513.2 L558.0 513.7 L559.0 514.2 L560.0 514.7 L561.0 515.2 L562.0 515.7 L563.0 516.1 L564.0 516.5 L565.0 517.0 L566.0 517.4 L567.0 517.8 L568.0 518.3 L569.0 518.7 L570.0 519.1 L571.0 519.6 L572.0 520.0 L573.0 520.4 L574.0 520.8 L575.0 521.1 L576.0 521.4 L577.0 521.7 L578.0 522.0 L579.0 522.3 L580.0 522.7 L581.0 523.0 L582.0 523.3 L583.0 523.6 L584.0 523.9 L585.0 524.2 L586.0 524.5 L587.0 524.8 L588.0 525.1 L589.0 525.4 L590.0 525.8 L591.0 526.1 L592.0 526.4 L593.0 526.7 L594.0 527.1 L595.0 527.4 L596.0 527.7 L597.0 528.0 L598.0 528.4 L599.0 528.7 L600.0 529.0" fill="none" stroke="#ff0000" stroke-width="1.1" />
<path d="M451 529.5H600" stroke="#0000ff" stroke-dasharray="3 3"/>
<path d="M451 530.5H600" stroke="#ff0000" stroke-dasharray="3 3"/>
<path d="M53.5 633V783" stroke="#000" />
<path d="M398.5 633V788" stroke="#000" />
<path d="M48 633.5H399" stroke="#000" />
<path d="M48 782.5H399" stroke="#000" />
<path d="M48 778.5H53" stroke="#000" />
<path d="M48 769.5H53" stroke="#000" />
<path d="M48 763.5H53" stroke="#000" />
<path d="M48 760.5H53" stroke="#000" />
<path d="M48 757.5H53" stroke="#000" />
<path d="M48 754.5H53" stroke="#000" />
<path d="M48 752.5H53" stroke="#000" />
<path d="M48 750.5H53" stroke="#000" />
<path d="M48 749.5H53" stroke="#000" />
<path d="M48 747.5H53" stroke="#000" />
<path d="M48 738.5H53" stroke="#000" />
<path d="M48 733.5H53" stroke="#000" />
<path d="M48 729.5H53" stroke="#000" />
<path d="M48 726.5H53" stroke="#000" />
<path d="M48 723.5H53" stroke="#000" />
<path d="M48 721.5H53" stroke="#000" />
<path d="M48 719.5H53" stroke="#000" />
<path d="M48 718.5H53" stroke="#000" />
<path d="M48 716.5H53" stroke="#000" />
<path d="M48 707.5H53" stroke="#000" />
<path d="M48 702.5H53" stroke="#000" />
<path d="M48 698.5H53" stroke="#000" />
<path d="M48 695.5H53" stroke="#000" />
<path d="M48 692.5H53" stroke="#000" />
<path d="M48 690.5H53" stroke="#000" />
<path d="M48 688.5H53" stroke="#000" />
<path d="M48 687.5H53" stroke="#000" />
<path d="M48 686.5H53" stroke="#000" />
<path d="M48 676.5H53" stroke="#000" />
<path d="M48 671.5H53" stroke="#000" />
<path d="M48 667.5H53" stroke="#000" />
<path d="M48 664.5H53" stroke="#000" />
<path d="M48 661.5H53" stroke="#000" />
<path d="M48 659.5H53" stroke="#000" />
<path d="M48 658.5H53" stroke="#000" />
<path d="M48 656.5H53" stroke="#000" />
<path d="M48 655.5H53" stroke="#000" />
<path d="M48 645.5H53" stroke="#000" />
<path d="M48 640.5H53" stroke="#000" />
<path d="M48 636.5H53" stroke="#000" />
<path d="M48 633.5H53" stroke="#000" />
<text transform="translate(44.3 691) scale(1.0 1)" font-size="17" text-anchor="end" font-family='"Liberation Sans", sans-serif'>1000</text>
<text transform="translate(44.3 722) scale(1.0 1)" font-size="17" text-anchor="end" font-family='"Liberation Sans", sans-serif'>100</text>
<text transform="translate(44.3 753) scale(1.0 1)" font-size="17" text-anchor="end" font-family='"Liberation Sans", sans-serif'>10</text>
<text transform="translate(2.5 649) scale(1.0 1)" font-size="17" text-anchor="start" font-family='"Liberation Sans", sans-serif'>n</text>
<path d="M69.5 782V788" stroke="#000" />
<text transform="translate(68.3 803) scale(1.0 1)" font-size="17" text-anchor="middle" font-family='"Liberation Sans", sans-serif'>-1</text>
<path d="M100.5 782V788" stroke="#000" />
<text transform="translate(99.68999999999998 803) scale(1.0 1)" font-size="17" text-anchor="middle" font-family='"Liberation Sans", sans-serif'>-0,8</text>
<path d="M132.5 782V788" stroke="#000" />
<text transform="translate(131.07999999999998 803) scale(1.0 1)" font-size="17" text-anchor="middle" font-family='"Liberation Sans", sans-serif'>-0,6</text>
<path d="M163.5 782V788" stroke="#000" />
<text transform="translate(162.47 803) scale(1.0 1)" font-size="17" text-anchor="middle" font-family='"Liberation Sans", sans-serif'>-0,4</text>
<path d="M194.5 782V788" stroke="#000" />
<text transform="translate(193.86 803) scale(1.0 1)" font-size="17" text-anchor="middle" font-family='"Liberation Sans", sans-serif'>-0,2</text>
<path d="M226.5 782V788" stroke="#000" />
<text transform="translate(226.75 803) scale(1.0 1)" font-size="17" text-anchor="middle" font-family='"Liberation Sans", sans-serif'>0</text>
<path d="M257.5 782V788" stroke="#000" />
<text transform="translate(258.14 803) scale(1.0 1)" font-size="17" text-anchor="middle" font-family='"Liberation Sans", sans-serif'>0,2</text>
<path d="M289.5 782V788" stroke="#000" />
<text transform="translate(289.53000000000003 803) scale(1.0 1)" font-size="17" text-anchor="middle" font-family='"Liberation Sans", sans-serif'>0,4</text>
<path d="M320.5 782V788" stroke="#000" />
<text transform="translate(320.92 803) scale(1.0 1)" font-size="17" text-anchor="middle" font-family='"Liberation Sans", sans-serif'>0,6</text>
<path d="M351.5 782V788" stroke="#000" />
<text transform="translate(352.31 803) scale(1.0 1)" font-size="17" text-anchor="middle" font-family='"Liberation Sans", sans-serif'>0,8</text>
<path d="M383.5 782V788" stroke="#000" />
<text transform="translate(383.7 803) scale(1.0 1)" font-size="17" text-anchor="middle" font-family='"Liberation Sans", sans-serif'>1</text>
<path d="M70.5 737V739M71.5 737V739M72.5 737V738M73.5 736V738M74.5 737V739M75.5 737V739M76.5 736V739M77.5 734V737M78.5 732V735M79.5 730V733M80.5 729V731M81.5 727V731M82.5 726V729M83.5 725V728M84.5 723V726M85.5 722V725M86.5 720V724M87.5 720V722M88.5 718V721M89.5 717V720M90.5 716V719M91.5 714V717M92.5 714V717M93.5 713V715M94.5 711V714M95.5 710V713M96.5 708V712M97.5 708V710M98.5 706V709M99.5 706V709M100.5 704V707M101.5 704V706M102.5 703V705M103.5 702V704M104.5 701V704M105.5 699V702M106.5 699V701M107.5 697V701M108.5 697V700M109.5 696V698M110.5 694V697M111.5 694V696M112.5 694V696M113.5 693V695M114.5 692V694M115.5 692V694M116.5 691V693M117.5 690V693M118.5 690V692M119.5 689V691M120.5 689V691M121.5 688V690M122.5 687V690M123.5 686V689M124.5 686V688M125.5 686V688M126.5 685V688M127.5 685V687M128.5 685V687M129.5 684V686M130.5 684V686M131.5 683V685M132.5 683V685M133.5 682V684M134.5 682V684M135.5 681V684M136.5 681V683M137.5 681V682M138.5 680V682M139.5 679V682M140.5 679V681M141.5 679V681M142.5 679V681M143.5 678V680M144.5 677V680M145.5 677V679M146.5 677V679M147.5 677V679M148.5 676V678M149.5 675V678M150.5 675V677M151.5 675V677M152.5 675V677M153.5 674V676M154.5 674V676M155.5 673V675M156.5 673V675M157.5 673V675M158.5 672V674M159.5 672V674M160.5 671V674M161.5 671V674M162.5 671V673M163.5 671V673M164.5 670V673M165.5 670V672M166.5 670V672M167.5 670V671M168.5 669V671M169.5 669V671M170.5 668V670M171.5 668V670M172.5 668V670M173.5 667V670M174.5 667V669M175.5 667V669M176.5 666V669M177.5 666V669M178.5 666V668M179.5 665V668M180.5 665V668M181.5 665V667M182.5 665V667M183.5 665V667M184.5 664V667M185.5 664V666M186.5 663V666M187.5 664V665M188.5 663V666M189.5 663V665M190.5 662V665M191.5 662V665M192.5 662V664M193.5 662V664M194.5 662V664M195.5 662V664M196.5 662V663M197.5 661V663M198.5 661V663M199.5 661V663M200.5 661V663M201.5 661V662M202.5 660V663M203.5 660V662M204.5 660V662M205.5 660V662M206.5 660V662M207.5 659V662M208.5 660V661M209.5 659V661M210.5 659V661M211.5 658V661M212.5 659V660M213.5 658V660M214.5 658V661M215.5 658V660M216.5 658V660M217.5 658V660M218.5 658V660M219.5 658V659M220.5 657V659M221.5 657V659M222.5 657V659M223.5 657V659M224.5 656V659M225.5 656V658M226.5 656V657M227.5 656V658M228.5 656V658M229.5 656V658M230.5 657V658M231.5 657V659M232.5 657V659M233.5 657V659M234.5 657V659M235.5 657V659M236.5 657V659M237.5 657V659M238.5 657V660M239.5 658V659M240.5 658V660M241.5 658V660M242.5 658V660M243.5 658V660M244.5 658V660M245.5 658V660M246.5 659V660M247.5 659V660M248.5 658V660M249.5 658V661M250.5 658V661M251.5 659V661M252.5 659V661M253.5 659V661M254.5 659V661M255.5 659V661M256.5 660V662M257.5 660V662M258.5 660V662M259.5 660V662M260.5 660V662M261.5 661V663M262.5 661V663M263.5 660V662M264.5 661V663M265.5 661V663M266.5 661V663M267.5 661V663M268.5 662V664M269.5 661V664M270.5 662V664M271.5 662V664M272.5 662V665M273.5 663V665M274.5 663V665M275.5 663V665M276.5 663V666M277.5 663V666M278.5 663V666M279.5 664V666M280.5 664V667M281.5 664V666M282.5 665V667M283.5 665V667M284.5 665V667M285.5 666V667M286.5 666V668M287.5 666V668M288.5 666V668M289.5 666V668M290.5 667V669M291.5 667V669M292.5 667V670M293.5 668V671M294.5 669V671M295.5 669V671M296.5 670V672M297.5 670V673M298.5 670V673M299.5 671V673M300.5 671V674M301.5 672V674M302.5 672V675M303.5 673V675M304.5 674V676M305.5 674V676M306.5 674V677M307.5 675V678M308.5 676V678M309.5 677V679M310.5 677V680M311.5 678V681M312.5 679V681M313.5 679V682M314.5 680V682M315.5 680V683M316.5 681V684M317.5 682V684M318.5 682V685M319.5 683V685M320.5 684V686M321.5 684V686M322.5 685V687M323.5 685V688M324.5 686V688M325.5 687V689M326.5 687V690M327.5 688V690M328.5 688V691M329.5 689V692M330.5 690V692M331.5 690V693M332.5 691V693M333.5 691V694M334.5 692V694M335.5 693V695M336.5 693V696M337.5 694V697M338.5 695V697M339.5 695V698M340.5 696V699M341.5 696V699M342.5 697V699M343.5 698V701M344.5 699V701M345.5 699V702M346.5 701V704M347.5 702V705M348.5 703V706M349.5 704V707M350.5 705V708M351.5 706V709M352.5 708V710M353.5 709V711M354.5 710V713M355.5 711V714M356.5 712V715M357.5 714V716M358.5 715V718M359.5 716V719M360.5 717V720M361.5 719V722M362.5 720V724M363.5 722V725M364.5 724V726M365.5 725V728M366.5 726V730M367.5 728V731M368.5 729V733M369.5 731V734M370.5 733V736M371.5 734V737M372.5 736V739M373.5 737V740M374.5 738V741M375.5 739V742M376.5 740V743M377.5 741V743M378.5 740V743M379.5 741V742M380.5 740V742M381.5 740V742M382.5 740V742M383.5 740V742" stroke="#0000ff"/>
<path d="M70.5 737V739M71.5 738V739M72.5 738V739M73.5 737V739M74.5 738V739M75.5 738V739M76.5 736V739M77.5 734V738M78.5 732V736M79.5 731V734M80.5 729V732M81.5 728V731M82.5 727V729M83.5 725V728M84.5 724V727M85.5 723V725M86.5 722V724M87.5 720V723M88.5 719V722M89.5 718V721M90.5 717V719M91.5 715V718M92.5 714V717M93.5 713V716M94.5 712V714M95.5 711V713M96.5 710V712M97.5 708V711M98.5 707V710M99.5 706V709M100.5 705V708M101.5 704V707M102.5 704V706M103.5 702V705M104.5 701V704M105.5 700V703M106.5 699V702M107.5 698V701M108.5 698V700M109.5 696V699M110.5 695V698M111.5 695V697M112.5 694V696M113.5 694V696M114.5 693V695M115.5 692V694M116.5 692V694M117.5 691V693M118.5 691V693M119.5 690V692M120.5 690V692M121.5 689V691M122.5 688V690M123.5 688V690M124.5 687V689M125.5 687V689M126.5 686V688M127.5 686V688M128.5 685V687M129.5 685V687M130.5 685V687M131.5 684V686M132.5 684V685M133.5 683V685M134.5 683V685M135.5 682V684M136.5 682V683M137.5 681V683M138.5 681V683M139.5 680V682M140.5 680V682M141.5 679V681M142.5 679V681M143.5 679V681M144.5 679V680M145.5 678V680M146.5 678V679M147.5 677V679M148.5 677V679M149.5 677V678M150.5 676V678M151.5 676V678M152.5 675V677M153.5 675V677M154.5 674V676M155.5 674V676M156.5 674V675M157.5 673V675M158.5 673V675M159.5 673V675M160.5 672V674M161.5 672V674M162.5 672V674M163.5 672V674M164.5 671V673M165.5 671V673M166.5 670V672M167.5 670V672M168.5 670V672M169.5 670V671M170.5 669V671M171.5 669V671M172.5 669V670M173.5 668V670M174.5 668V670M175.5 668V670M176.5 667V669M177.5 667V669M178.5 667V669M179.5 667V668M180.5 666V668M181.5 666V668M182.5 665V668M183.5 665V667M184.5 665V667M185.5 665V667M186.5 665V666M187.5 664V666M188.5 664V666M189.5 664V665M190.5 663V665M191.5 663V665M192.5 663V665M193.5 663V664M194.5 663V665M195.5 662V664M196.5 662V664M197.5 662V664M198.5 662V663M199.5 662V663M200.5 662V663M201.5 661V663M202.5 661V663M203.5 661V663M204.5 661V663M205.5 661V662M206.5 660V662M207.5 660V662M208.5 660V662M209.5 660V661M210.5 660V661M211.5 660V661M212.5 659V661M213.5 659V661M214.5 659V661M215.5 659V661M216.5 659V661M217.5 659V661M218.5 659V660M219.5 658V660M220.5 658V660M221.5 658V660M222.5 658V659M223.5 658V659M224.5 657V659M225.5 657V659M226.5 656V658M227.5 657V658M228.5 657V659M229.5 657V659M230.5 658V659M231.5 658V659M232.5 658V660M233.5 658V660M234.5 658V660M235.5 658V660M236.5 658V660M237.5 658V660M238.5 659V660M239.5 658V660M240.5 659V660M241.5 659V660M242.5 659V661M243.5 659V660M244.5 659V660M245.5 659V661M246.5 659V661M247.5 659V661M248.5 659V661M249.5 659V661M250.5 660V661M251.5 660V661M252.5 660V662M253.5 660V662M254.5 660V662M255.5 661V662M256.5 660V662M257.5 660V662M258.5 661V663M259.5 661V663M260.5 661V663M261.5 661V663M262.5 661V663M263.5 661V663M264.5 662V663M265.5 662V663M266.5 662V664M267.5 662V664M268.5 662V664M269.5 662V664M270.5 662V664M271.5 663V665M272.5 663V665M273.5 663V665M274.5 663V665M275.5 664V666M276.5 664V666M277.5 664V666M278.5 664V666M279.5 665V667M280.5 665V667M281.5 666V667M282.5 666V667M283.5 666V668M284.5 666V668M285.5 666V668M286.5 667V668M287.5 667V669M288.5 667V669M289.5 667V669M290.5 667V670M291.5 668V670M292.5 669V670M293.5 669V671M294.5 669V671M295.5 670V672M296.5 671V672M297.5 671V673M298.5 671V673M299.5 672V674M300.5 672V674M301.5 672V675M302.5 673V675M303.5 674V676M304.5 674V676M305.5 675V677M306.5 675V678M307.5 676V678M308.5 677V679M309.5 678V679M310.5 678V680M311.5 678V681M312.5 679V681M313.5 680V682M314.5 681V683M315.5 682V683M316.5 682V684M317.5 682V685M318.5 683V685M319.5 684V686M320.5 685V686M321.5 685V687M322.5 686V688M323.5 686V689M324.5 687V689M325.5 688V690M326.5 688V690M327.5 689V691M328.5 689V692M329.5 690V692M330.5 690V693M331.5 691V693M332.5 692V694M333.5 692V694M334.5 693V695M335.5 693V696M336.5 694V696M337.5 695V697M338.5 696V698M339.5 696V698M340.5 696V699M341.5 698V699M342.5 698V700M343.5 698V701M344.5 699V701M345.5 700V703M346.5 701V704M347.5 703V706M348.5 704V707M349.5 705V708M350.5 706V709M351.5 707V710M352.5 709V711M353.5 709V712M354.5 711V713M355.5 712V715M356.5 713V716M357.5 714V717M358.5 716V718M359.5 717V720M360.5 718V721M361.5 720V723M362.5 721V724M363.5 723V726M364.5 724V727M365.5 726V728M366.5 727V730M367.5 728V732M368.5 730V733M369.5 732V735M370.5 733V737M371.5 735V738M372.5 737V740M373.5 738V740M374.5 739V741M375.5 740V743M376.5 741V743M377.5 742V743M378.5 742V743M379.5 741V743M380.5 741V743M381.5 741V742M382.5 741V742M383.5 741V742" stroke="#ff0000"/>
<path d="M69.5 683V741M70.5 683V741M383.5 686V741M384.5 686V741" stroke="#0000ff"/>
<path d="M69.5 722V782.5M70.5 722V741M383.5 721V741M384.5 721V782.5M227.5 633V656M226.5 633V655M225.5 654V657M228.5 654V657" stroke="#ff0000"/>
<path d="M53 782.5H70M384 782.5H399" stroke="#ff0000"/>
<path d="M451.5 634V788" stroke="#000" />
<path d="M600.5 634V788" stroke="#000" />
<path d="M446 634.5H601" stroke="#000" />
<path d="M446 782.5H601" stroke="#000" />
<path d="M446 634.5H451" stroke="#000" />
<path d="M451.5 782V788" stroke="#000" />
<path d="M446 664.5H451" stroke="#000" />
<path d="M481.5 782V788" stroke="#000" />
<path d="M446 693.5H451" stroke="#000" />
<path d="M510.5 782V788" stroke="#000" />
<path d="M446 723.5H451" stroke="#000" />
<path d="M540.5 782V788" stroke="#000" />
<path d="M446 752.5H451" stroke="#000" />
<path d="M570.5 782V788" stroke="#000" />
<path d="M446 782.5H451" stroke="#000" />
<path d="M600.5 782V788" stroke="#000" />
<path d="M597.5 782V788" stroke="#000" />
<text transform="translate(442.3 669.6) scale(1.0 1)" font-size="17" text-anchor="end" font-family='"Liberation Sans", sans-serif'>-10</text>
<text transform="translate(442.3 699.2) scale(1.0 1)" font-size="17" text-anchor="end" font-family='"Liberation Sans", sans-serif'>-20</text>
<text transform="translate(442.3 728.8) scale(1.0 1)" font-size="17" text-anchor="end" font-family='"Liberation Sans", sans-serif'>-30</text>
<text transform="translate(442.3 758.4) scale(1.0 1)" font-size="17" text-anchor="end" font-family='"Liberation Sans", sans-serif'>-40</text>
<text transform="translate(400.5 649) scale(1.0 1)" font-size="17" text-anchor="start" font-family='"Liberation Sans", sans-serif'>dBFS</text>
<path d="M446 637.5H451" stroke="#000" />
<text transform="translate(479.5 803) scale(1.0 1)" font-size="17" text-anchor="middle" font-family='"Liberation Sans", sans-serif'>-40</text>
<text transform="translate(509 803) scale(1.0 1)" font-size="17" text-anchor="middle" font-family='"Liberation Sans", sans-serif'>-30</text>
<text transform="translate(539 803) scale(1.0 1)" font-size="17" text-anchor="middle" font-family='"Liberation Sans", sans-serif'>-20</text>
<text transform="translate(579.5 803) scale(1.0 1)" font-size="17" text-anchor="middle" font-family='"Liberation Sans", sans-serif'>dBFS</text>
<path d="M451.5 782.5L599.5 634.5M451.5 753.5L570.5 634.5M451.5 723.5L540.5 634.5M451.5 694.5L511.5 634.5M451.5 664.5L481.5 634.5" stroke="#000" stroke-width="0.72" fill="none"/>
<text x="464" y="669.5" font-size="12" text-anchor="middle" font-family='"Liberation Sans", sans-serif' transform="rotate(-45 464 665.5)">40</text>
<text x="463.5" y="699.5" font-size="12" text-anchor="middle" font-family='"Liberation Sans", sans-serif' transform="rotate(-45 463.5 695.5)">30</text>
<text x="462.5" y="729" font-size="12" text-anchor="middle" font-family='"Liberation Sans", sans-serif' transform="rotate(-45 462.5 725)">20</text>
<text x="463.7" y="758.8" font-size="12" text-anchor="middle" font-family='"Liberation Sans", sans-serif' transform="rotate(-45 463.7 754.8)">10</text>
<text x="483" y="769.8" font-size="12" text-anchor="middle" font-family='"Liberation Sans", sans-serif' transform="rotate(-45 483 765.8)">0 dB</text>
<clipPath id="pvr"><rect x="451" y="634" width="155" height="154"/></clipPath>
<g clip-path="url(#pvr)">
<path d="M507.8 654.1a2.45 2.45 0 1 0 4.9 0a2.45 2.45 0 1 0 -4.9 0M520.3 644.8a2.45 2.45 0 1 0 4.9 0a2.45 2.45 0 1 0 -4.9 0M529.2 651.9a2.45 2.45 0 1 0 4.9 0a2.45 2.45 0 1 0 -4.9 0M520.3 666.7a2.45 2.45 0 1 0 4.9 0a2.45 2.45 0 1 0 -4.9 0M509.9 677.1a2.45 2.45 0 1 0 4.9 0a2.45 2.45 0 1 0 -4.9 0M508.4 686.0a2.45 2.45 0 1 0 4.9 0a2.45 2.45 0 1 0 -4.9 0M476.6 700.2a2.45 2.45 0 1 0 4.9 0a2.45 2.45 0 1 0 -4.9 0M482.4 695.0a2.45 2.45 0 1 0 4.9 0a2.45 2.45 0 1 0 -4.9 0M486.2 703.9a2.45 2.45 0 1 0 4.9 0a2.45 2.45 0 1 0 -4.9 0M462.4 715.0a2.45 2.45 0 1 0 4.9 0a2.45 2.45 0 1 0 -4.9 0M448.6 738.0a2.45 2.45 0 1 0 4.9 0a2.45 2.45 0 1 0 -4.9 0M463.6 715.4a2.45 2.45 0 1 0 4.9 0a2.45 2.45 0 1 0 -4.9 0M512.5 682.0a2.45 2.45 0 1 0 4.9 0a2.45 2.45 0 1 0 -4.9 0M524.5 671.0a2.45 2.45 0 1 0 4.9 0a2.45 2.45 0 1 0 -4.9 0M517.5 684.0a2.45 2.45 0 1 0 4.9 0a2.45 2.45 0 1 0 -4.9 0M527.5 664.0a2.45 2.45 0 1 0 4.9 0a2.45 2.45 0 1 0 -4.9 0M542.5 650.0a2.45 2.45 0 1 0 4.9 0a2.45 2.45 0 1 0 -4.9 0M553.5 645.0a2.45 2.45 0 1 0 4.9 0a2.45 2.45 0 1 0 -4.9 0M551.9 648.3a2.45 2.45 0 1 0 4.9 0a2.45 2.45 0 1 0 -4.9 0M562.9 641.3a2.45 2.45 0 1 0 4.9 0a2.45 2.45 0 1 0 -4.9 0M563.3 639.7a2.45 2.45 0 1 0 4.9 0a2.45 2.45 0 1 0 -4.9 0M567.7 637.8a2.45 2.45 0 1 0 4.9 0a2.45 2.45 0 1 0 -4.9 0M556.7 637.3a2.45 2.45 0 1 0 4.9 0a2.45 2.45 0 1 0 -4.9 0M545.4 638.0a2.45 2.45 0 1 0 4.9 0a2.45 2.45 0 1 0 -4.9 0M552.1 643.7a2.45 2.45 0 1 0 4.9 0a2.45 2.45 0 1 0 -4.9 0M554.9 647.7a2.45 2.45 0 1 0 4.9 0a2.45 2.45 0 1 0 -4.9 0M553.2 647.7a2.45 2.45 0 1 0 4.9 0a2.45 2.45 0 1 0 -4.9 0M560.5 636.9a2.45 2.45 0 1 0 4.9 0a2.45 2.45 0 1 0 -4.9 0M550.8 645.9a2.45 2.45 0 1 0 4.9 0a2.45 2.45 0 1 0 -4.9 0M535.8 662.2a2.45 2.45 0 1 0 4.9 0a2.45 2.45 0 1 0 -4.9 0M547.5 655.0a2.45 2.45 0 1 0 4.9 0a2.45 2.45 0 1 0 -4.9 0M527.6 668.0a2.45 2.45 0 1 0 4.9 0a2.45 2.45 0 1 0 -4.9 0M539.8 657.7a2.45 2.45 0 1 0 4.9 0a2.45 2.45 0 1 0 -4.9 0M547.5 637.8a2.45 2.45 0 1 0 4.9 0a2.45 2.45 0 1 0 -4.9 0M548.6 650.7a2.45 2.45 0 1 0 4.9 0a2.45 2.45 0 1 0 -4.9 0M527.2 670.4a2.45 2.45 0 1 0 4.9 0a2.45 2.45 0 1 0 -4.9 0M520.9 673.8a2.45 2.45 0 1 0 4.9 0a2.45 2.45 0 1 0 -4.9 0M559.0 638.4a2.45 2.45 0 1 0 4.9 0a2.45 2.45 0 1 0 -4.9 0M550.4 647.1a2.45 2.45 0 1 0 4.9 0a2.45 2.45 0 1 0 -4.9 0M554.2 646.8a2.45 2.45 0 1 0 4.9 0a2.45 2.45 0 1 0 -4.9 0M548.2 636.7a2.45 2.45 0 1 0 4.9 0a2.45 2.45 0 1 0 -4.9 0M541.8 660.1a2.45 2.45 0 1 0 4.9 0a2.45 2.45 0 1 0 -4.9 0M520.3 674.8a2.45 2.45 0 1 0 4.9 0a2.45 2.45 0 1 0 -4.9 0M519.2 677.7a2.45 2.45 0 1 0 4.9 0a2.45 2.45 0 1 0 -4.9 0M560.2 643.0a2.45 2.45 0 1 0 4.9 0a2.45 2.45 0 1 0 -4.9 0M560.6 641.7a2.45 2.45 0 1 0 4.9 0a2.45 2.45 0 1 0 -4.9 0M544.4 641.9a2.45 2.45 0 1 0 4.9 0a2.45 2.45 0 1 0 -4.9 0M515.1 679.8a2.45 2.45 0 1 0 4.9 0a2.45 2.45 0 1 0 -4.9 0M525.6 676.7a2.45 2.45 0 1 0 4.9 0a2.45 2.45 0 1 0 -4.9 0M548.4 655.6a2.45 2.45 0 1 0 4.9 0a2.45 2.45 0 1 0 -4.9 0M536.9 661.6a2.45 2.45 0 1 0 4.9 0a2.45 2.45 0 1 0 -4.9 0M535.0 662.4a2.45 2.45 0 1 0 4.9 0a2.45 2.45 0 1 0 -4.9 0M524.8 671.6a2.45 2.45 0 1 0 4.9 0a2.45 2.45 0 1 0 -4.9 0M543.6 643.5a2.45 2.45 0 1 0 4.9 0a2.45 2.45 0 1 0 -4.9 0M549.2 653.4a2.45 2.45 0 1 0 4.9 0a2.45 2.45 0 1 0 -4.9 0M543.5 658.3a2.45 2.45 0 1 0 4.9 0a2.45 2.45 0 1 0 -4.9 0M549.6 641.4a2.45 2.45 0 1 0 4.9 0a2.45 2.45 0 1 0 -4.9 0M555.5 639.9a2.45 2.45 0 1 0 4.9 0a2.45 2.45 0 1 0 -4.9 0M522.4 678.4a2.45 2.45 0 1 0 4.9 0a2.45 2.45 0 1 0 -4.9 0M555.8 636.7a2.45 2.45 0 1 0 4.9 0a2.45 2.45 0 1 0 -4.9 0M524.6 679.0a2.45 2.45 0 1 0 4.9 0a2.45 2.45 0 1 0 -4.9 0M535.2 665.3a2.45 2.45 0 1 0 4.9 0a2.45 2.45 0 1 0 -4.9 0M541.5 649.2a2.45 2.45 0 1 0 4.9 0a2.45 2.45 0 1 0 -4.9 0M546.4 647.2a2.45 2.45 0 1 0 4.9 0a2.45 2.45 0 1 0 -4.9 0M523.6 672.0a2.45 2.45 0 1 0 4.9 0a2.45 2.45 0 1 0 -4.9 0M531.7 667.6a2.45 2.45 0 1 0 4.9 0a2.45 2.45 0 1 0 -4.9 0" fill="none" stroke="#0000ff" stroke-width="1.05" shape-rendering="auto"/>
<path d="M510.7 650.1a2.45 2.45 0 1 0 4.9 0a2.45 2.45 0 1 0 -4.9 0M521.8 644.2a2.45 2.45 0 1 0 4.9 0a2.45 2.45 0 1 0 -4.9 0M509.7 663.8a2.45 2.45 0 1 0 4.9 0a2.45 2.45 0 1 0 -4.9 0M493.6 670.9a2.45 2.45 0 1 0 4.9 0a2.45 2.45 0 1 0 -4.9 0M530.8 650.4a2.45 2.45 0 1 0 4.9 0a2.45 2.45 0 1 0 -4.9 0M532.2 657.8a2.45 2.45 0 1 0 4.9 0a2.45 2.45 0 1 0 -4.9 0M524.8 666.7a2.45 2.45 0 1 0 4.9 0a2.45 2.45 0 1 0 -4.9 0M520.3 672.7a2.45 2.45 0 1 0 4.9 0a2.45 2.45 0 1 0 -4.9 0M517.3 677.1a2.45 2.45 0 1 0 4.9 0a2.45 2.45 0 1 0 -4.9 0M509.9 680.1a2.45 2.45 0 1 0 4.9 0a2.45 2.45 0 1 0 -4.9 0M503.9 683.8a2.45 2.45 0 1 0 4.9 0a2.45 2.45 0 1 0 -4.9 0M498.8 690.5a2.45 2.45 0 1 0 4.9 0a2.45 2.45 0 1 0 -4.9 0M492.2 696.4a2.45 2.45 0 1 0 4.9 0a2.45 2.45 0 1 0 -4.9 0M486.2 694.2a2.45 2.45 0 1 0 4.9 0a2.45 2.45 0 1 0 -4.9 0M489.2 702.4a2.45 2.45 0 1 0 4.9 0a2.45 2.45 0 1 0 -4.9 0M482.4 708.3a2.45 2.45 0 1 0 4.9 0a2.45 2.45 0 1 0 -4.9 0M496.6 699.4a2.45 2.45 0 1 0 4.9 0a2.45 2.45 0 1 0 -4.9 0M461.7 706.8a2.45 2.45 0 1 0 4.9 0a2.45 2.45 0 1 0 -4.9 0M468.4 710.5a2.45 2.45 0 1 0 4.9 0a2.45 2.45 0 1 0 -4.9 0M470.6 716.5a2.45 2.45 0 1 0 4.9 0a2.45 2.45 0 1 0 -4.9 0M462.4 718.7a2.45 2.45 0 1 0 4.9 0a2.45 2.45 0 1 0 -4.9 0M455.4 733.2a2.45 2.45 0 1 0 4.9 0a2.45 2.45 0 1 0 -4.9 0M449.6 736.0a2.45 2.45 0 1 0 4.9 0a2.45 2.45 0 1 0 -4.9 0M483.6 697.0a2.45 2.45 0 1 0 4.9 0a2.45 2.45 0 1 0 -4.9 0M487.6 699.0a2.45 2.45 0 1 0 4.9 0a2.45 2.45 0 1 0 -4.9 0M494.6 693.0a2.45 2.45 0 1 0 4.9 0a2.45 2.45 0 1 0 -4.9 0M501.6 687.0a2.45 2.45 0 1 0 4.9 0a2.45 2.45 0 1 0 -4.9 0M513.5 676.0a2.45 2.45 0 1 0 4.9 0a2.45 2.45 0 1 0 -4.9 0M516.5 672.0a2.45 2.45 0 1 0 4.9 0a2.45 2.45 0 1 0 -4.9 0M522.5 668.0a2.45 2.45 0 1 0 4.9 0a2.45 2.45 0 1 0 -4.9 0M551.2 637.6a2.45 2.45 0 1 0 4.9 0a2.45 2.45 0 1 0 -4.9 0M561.0 641.0a2.45 2.45 0 1 0 4.9 0a2.45 2.45 0 1 0 -4.9 0M554.3 645.5a2.45 2.45 0 1 0 4.9 0a2.45 2.45 0 1 0 -4.9 0M568.0 638.3a2.45 2.45 0 1 0 4.9 0a2.45 2.45 0 1 0 -4.9 0M562.8 642.4a2.45 2.45 0 1 0 4.9 0a2.45 2.45 0 1 0 -4.9 0M562.5 638.3a2.45 2.45 0 1 0 4.9 0a2.45 2.45 0 1 0 -4.9 0M563.0 642.8a2.45 2.45 0 1 0 4.9 0a2.45 2.45 0 1 0 -4.9 0M545.0 637.3a2.45 2.45 0 1 0 4.9 0a2.45 2.45 0 1 0 -4.9 0M558.1 642.0a2.45 2.45 0 1 0 4.9 0a2.45 2.45 0 1 0 -4.9 0M549.1 638.3a2.45 2.45 0 1 0 4.9 0a2.45 2.45 0 1 0 -4.9 0M550.4 647.9a2.45 2.45 0 1 0 4.9 0a2.45 2.45 0 1 0 -4.9 0M553.5 644.8a2.45 2.45 0 1 0 4.9 0a2.45 2.45 0 1 0 -4.9 0M558.4 640.2a2.45 2.45 0 1 0 4.9 0a2.45 2.45 0 1 0 -4.9 0M544.8 639.9a2.45 2.45 0 1 0 4.9 0a2.45 2.45 0 1 0 -4.9 0M567.3 636.6a2.45 2.45 0 1 0 4.9 0a2.45 2.45 0 1 0 -4.9 0M553.9 648.2a2.45 2.45 0 1 0 4.9 0a2.45 2.45 0 1 0 -4.9 0M550.6 641.9a2.45 2.45 0 1 0 4.9 0a2.45 2.45 0 1 0 -4.9 0M554.0 642.7a2.45 2.45 0 1 0 4.9 0a2.45 2.45 0 1 0 -4.9 0M564.3 637.8a2.45 2.45 0 1 0 4.9 0a2.45 2.45 0 1 0 -4.9 0M555.7 647.2a2.45 2.45 0 1 0 4.9 0a2.45 2.45 0 1 0 -4.9 0M565.0 639.0a2.45 2.45 0 1 0 4.9 0a2.45 2.45 0 1 0 -4.9 0M550.9 645.6a2.45 2.45 0 1 0 4.9 0a2.45 2.45 0 1 0 -4.9 0M557.8 641.2a2.45 2.45 0 1 0 4.9 0a2.45 2.45 0 1 0 -4.9 0M558.1 646.5a2.45 2.45 0 1 0 4.9 0a2.45 2.45 0 1 0 -4.9 0M550.9 645.4a2.45 2.45 0 1 0 4.9 0a2.45 2.45 0 1 0 -4.9 0M559.9 645.9a2.45 2.45 0 1 0 4.9 0a2.45 2.45 0 1 0 -4.9 0M557.7 638.9a2.45 2.45 0 1 0 4.9 0a2.45 2.45 0 1 0 -4.9 0M551.8 648.1a2.45 2.45 0 1 0 4.9 0a2.45 2.45 0 1 0 -4.9 0M544.8 638.5a2.45 2.45 0 1 0 4.9 0a2.45 2.45 0 1 0 -4.9 0M561.6 644.3a2.45 2.45 0 1 0 4.9 0a2.45 2.45 0 1 0 -4.9 0M556.3 642.6a2.45 2.45 0 1 0 4.9 0a2.45 2.45 0 1 0 -4.9 0M556.6 646.1a2.45 2.45 0 1 0 4.9 0a2.45 2.45 0 1 0 -4.9 0M549.4 638.7a2.45 2.45 0 1 0 4.9 0a2.45 2.45 0 1 0 -4.9 0M547.7 643.7a2.45 2.45 0 1 0 4.9 0a2.45 2.45 0 1 0 -4.9 0M540.1 661.7a2.45 2.45 0 1 0 4.9 0a2.45 2.45 0 1 0 -4.9 0M514.5 680.7a2.45 2.45 0 1 0 4.9 0a2.45 2.45 0 1 0 -4.9 0M563.3 639.0a2.45 2.45 0 1 0 4.9 0a2.45 2.45 0 1 0 -4.9 0M537.9 665.3a2.45 2.45 0 1 0 4.9 0a2.45 2.45 0 1 0 -4.9 0M546.7 649.2a2.45 2.45 0 1 0 4.9 0a2.45 2.45 0 1 0 -4.9 0M558.5 642.1a2.45 2.45 0 1 0 4.9 0a2.45 2.45 0 1 0 -4.9 0M530.9 668.0a2.45 2.45 0 1 0 4.9 0a2.45 2.45 0 1 0 -4.9 0M532.3 672.1a2.45 2.45 0 1 0 4.9 0a2.45 2.45 0 1 0 -4.9 0M548.7 637.8a2.45 2.45 0 1 0 4.9 0a2.45 2.45 0 1 0 -4.9 0M533.8 668.1a2.45 2.45 0 1 0 4.9 0a2.45 2.45 0 1 0 -4.9 0M555.0 648.7a2.45 2.45 0 1 0 4.9 0a2.45 2.45 0 1 0 -4.9 0M540.0 648.5a2.45 2.45 0 1 0 4.9 0a2.45 2.45 0 1 0 -4.9 0M551.6 639.2a2.45 2.45 0 1 0 4.9 0a2.45 2.45 0 1 0 -4.9 0M525.4 669.2a2.45 2.45 0 1 0 4.9 0a2.45 2.45 0 1 0 -4.9 0M531.7 667.5a2.45 2.45 0 1 0 4.9 0a2.45 2.45 0 1 0 -4.9 0M563.2 639.6a2.45 2.45 0 1 0 4.9 0a2.45 2.45 0 1 0 -4.9 0M523.5 673.3a2.45 2.45 0 1 0 4.9 0a2.45 2.45 0 1 0 -4.9 0M540.7 663.6a2.45 2.45 0 1 0 4.9 0a2.45 2.45 0 1 0 -4.9 0M542.3 654.8a2.45 2.45 0 1 0 4.9 0a2.45 2.45 0 1 0 -4.9 0M548.2 652.9a2.45 2.45 0 1 0 4.9 0a2.45 2.45 0 1 0 -4.9 0M546.5 654.4a2.45 2.45 0 1 0 4.9 0a2.45 2.45 0 1 0 -4.9 0M523.7 673.4a2.45 2.45 0 1 0 4.9 0a2.45 2.45 0 1 0 -4.9 0M551.8 645.2a2.45 2.45 0 1 0 4.9 0a2.45 2.45 0 1 0 -4.9 0M530.6 664.1a2.45 2.45 0 1 0 4.9 0a2.45 2.45 0 1 0 -4.9 0M541.4 656.6a2.45 2.45 0 1 0 4.9 0a2.45 2.45 0 1 0 -4.9 0M519.3 677.2a2.45 2.45 0 1 0 4.9 0a2.45 2.45 0 1 0 -4.9 0M530.1 667.4a2.45 2.45 0 1 0 4.9 0a2.45 2.45 0 1 0 -4.9 0M522.0 678.5a2.45 2.45 0 1 0 4.9 0a2.45 2.45 0 1 0 -4.9 0M561.1 635.7a2.45 2.45 0 1 0 4.9 0a2.45 2.45 0 1 0 -4.9 0M549.9 652.4a2.45 2.45 0 1 0 4.9 0a2.45 2.45 0 1 0 -4.9 0M530.1 669.6a2.45 2.45 0 1 0 4.9 0a2.45 2.45 0 1 0 -4.9 0M516.7 680.6a2.45 2.45 0 1 0 4.9 0a2.45 2.45 0 1 0 -4.9 0M543.8 649.7a2.45 2.45 0 1 0 4.9 0a2.45 2.45 0 1 0 -4.9 0M540.2 646.3a2.45 2.45 0 1 0 4.9 0a2.45 2.45 0 1 0 -4.9 0M542.4 646.0a2.45 2.45 0 1 0 4.9 0a2.45 2.45 0 1 0 -4.9 0M535.9 666.5a2.45 2.45 0 1 0 4.9 0a2.45 2.45 0 1 0 -4.9 0M542.6 656.0a2.45 2.45 0 1 0 4.9 0a2.45 2.45 0 1 0 -4.9 0M554.1 647.2a2.45 2.45 0 1 0 4.9 0a2.45 2.45 0 1 0 -4.9 0M536.5 667.7a2.45 2.45 0 1 0 4.9 0a2.45 2.45 0 1 0 -4.9 0M553.0 636.8a2.45 2.45 0 1 0 4.9 0a2.45 2.45 0 1 0 -4.9 0M559.0 645.4a2.45 2.45 0 1 0 4.9 0a2.45 2.45 0 1 0 -4.9 0M558.4 639.0a2.45 2.45 0 1 0 4.9 0a2.45 2.45 0 1 0 -4.9 0M523.3 677.4a2.45 2.45 0 1 0 4.9 0a2.45 2.45 0 1 0 -4.9 0M524.0 672.1a2.45 2.45 0 1 0 4.9 0a2.45 2.45 0 1 0 -4.9 0M562.8 637.2a2.45 2.45 0 1 0 4.9 0a2.45 2.45 0 1 0 -4.9 0M554.1 636.1a2.45 2.45 0 1 0 4.9 0a2.45 2.45 0 1 0 -4.9 0M535.4 662.8a2.45 2.45 0 1 0 4.9 0a2.45 2.45 0 1 0 -4.9 0M528.4 672.6a2.45 2.45 0 1 0 4.9 0a2.45 2.45 0 1 0 -4.9 0M549.0 650.6a2.45 2.45 0 1 0 4.9 0a2.45 2.45 0 1 0 -4.9 0M526.5 677.2a2.45 2.45 0 1 0 4.9 0a2.45 2.45 0 1 0 -4.9 0M537.9 658.2a2.45 2.45 0 1 0 4.9 0a2.45 2.45 0 1 0 -4.9 0M556.7 646.7a2.45 2.45 0 1 0 4.9 0a2.45 2.45 0 1 0 -4.9 0M538.4 657.4a2.45 2.45 0 1 0 4.9 0a2.45 2.45 0 1 0 -4.9 0M540.3 659.5a2.45 2.45 0 1 0 4.9 0a2.45 2.45 0 1 0 -4.9 0M530.2 668.9a2.45 2.45 0 1 0 4.9 0a2.45 2.45 0 1 0 -4.9 0M528.3 673.9a2.45 2.45 0 1 0 4.9 0a2.45 2.45 0 1 0 -4.9 0M545.1 650.5a2.45 2.45 0 1 0 4.9 0a2.45 2.45 0 1 0 -4.9 0M547.1 642.4a2.45 2.45 0 1 0 4.9 0a2.45 2.45 0 1 0 -4.9 0M519.5 678.0a2.45 2.45 0 1 0 4.9 0a2.45 2.45 0 1 0 -4.9 0M523.9 671.4a2.45 2.45 0 1 0 4.9 0a2.45 2.45 0 1 0 -4.9 0M516.5 678.1a2.45 2.45 0 1 0 4.9 0a2.45 2.45 0 1 0 -4.9 0M560.0 635.8a2.45 2.45 0 1 0 4.9 0a2.45 2.45 0 1 0 -4.9 0M534.0 662.9a2.45 2.45 0 1 0 4.9 0a2.45 2.45 0 1 0 -4.9 0M542.7 641.9a2.45 2.45 0 1 0 4.9 0a2.45 2.45 0 1 0 -4.9 0M535.5 660.3a2.45 2.45 0 1 0 4.9 0a2.45 2.45 0 1 0 -4.9 0M523.9 676.8a2.45 2.45 0 1 0 4.9 0a2.45 2.45 0 1 0 -4.9 0M548.7 653.1a2.45 2.45 0 1 0 4.9 0a2.45 2.45 0 1 0 -4.9 0M527.4 673.3a2.45 2.45 0 1 0 4.9 0a2.45 2.45 0 1 0 -4.9 0M557.8 636.4a2.45 2.45 0 1 0 4.9 0a2.45 2.45 0 1 0 -4.9 0M551.9 636.4a2.45 2.45 0 1 0 4.9 0a2.45 2.45 0 1 0 -4.9 0M543.9 639.6a2.45 2.45 0 1 0 4.9 0a2.45 2.45 0 1 0 -4.9 0M521.8 677.4a2.45 2.45 0 1 0 4.9 0a2.45 2.45 0 1 0 -4.9 0M550.9 645.4a2.45 2.45 0 1 0 4.9 0a2.45 2.45 0 1 0 -4.9 0M525.8 671.1a2.45 2.45 0 1 0 4.9 0a2.45 2.45 0 1 0 -4.9 0M550.3 645.9a2.45 2.45 0 1 0 4.9 0a2.45 2.45 0 1 0 -4.9 0M543.9 657.1a2.45 2.45 0 1 0 4.9 0a2.45 2.45 0 1 0 -4.9 0M534.4 661.8a2.45 2.45 0 1 0 4.9 0a2.45 2.45 0 1 0 -4.9 0M525.3 669.0a2.45 2.45 0 1 0 4.9 0a2.45 2.45 0 1 0 -4.9 0M551.9 652.5a2.45 2.45 0 1 0 4.9 0a2.45 2.45 0 1 0 -4.9 0M556.4 643.4a2.45 2.45 0 1 0 4.9 0a2.45 2.45 0 1 0 -4.9 0M526.4 673.2a2.45 2.45 0 1 0 4.9 0a2.45 2.45 0 1 0 -4.9 0M539.8 651.4a2.45 2.45 0 1 0 4.9 0a2.45 2.45 0 1 0 -4.9 0M543.4 655.7a2.45 2.45 0 1 0 4.9 0a2.45 2.45 0 1 0 -4.9 0M530.6 670.1a2.45 2.45 0 1 0 4.9 0a2.45 2.45 0 1 0 -4.9 0M559.0 638.3a2.45 2.45 0 1 0 4.9 0a2.45 2.45 0 1 0 -4.9 0M545.2 641.2a2.45 2.45 0 1 0 4.9 0a2.45 2.45 0 1 0 -4.9 0M534.8 666.6a2.45 2.45 0 1 0 4.9 0a2.45 2.45 0 1 0 -4.9 0M550.5 643.9a2.45 2.45 0 1 0 4.9 0a2.45 2.45 0 1 0 -4.9 0M546.4 644.4a2.45 2.45 0 1 0 4.9 0a2.45 2.45 0 1 0 -4.9 0M535.8 664.9a2.45 2.45 0 1 0 4.9 0a2.45 2.45 0 1 0 -4.9 0M562.3 641.0a2.45 2.45 0 1 0 4.9 0a2.45 2.45 0 1 0 -4.9 0M539.0 665.2a2.45 2.45 0 1 0 4.9 0a2.45 2.45 0 1 0 -4.9 0M537.7 662.2a2.45 2.45 0 1 0 4.9 0a2.45 2.45 0 1 0 -4.9 0M519.7 680.9a2.45 2.45 0 1 0 4.9 0a2.45 2.45 0 1 0 -4.9 0M536.5 664.3a2.45 2.45 0 1 0 4.9 0a2.45 2.45 0 1 0 -4.9 0M527.7 670.3a2.45 2.45 0 1 0 4.9 0a2.45 2.45 0 1 0 -4.9 0M552.6 636.1a2.45 2.45 0 1 0 4.9 0a2.45 2.45 0 1 0 -4.9 0M548.3 644.5a2.45 2.45 0 1 0 4.9 0a2.45 2.45 0 1 0 -4.9 0M554.5 638.7a2.45 2.45 0 1 0 4.9 0a2.45 2.45 0 1 0 -4.9 0M528.6 672.5a2.45 2.45 0 1 0 4.9 0a2.45 2.45 0 1 0 -4.9 0M559.3 644.2a2.45 2.45 0 1 0 4.9 0a2.45 2.45 0 1 0 -4.9 0M557.8 644.5a2.45 2.45 0 1 0 4.9 0a2.45 2.45 0 1 0 -4.9 0M546.6 643.7a2.45 2.45 0 1 0 4.9 0a2.45 2.45 0 1 0 -4.9 0M560.3 638.6a2.45 2.45 0 1 0 4.9 0a2.45 2.45 0 1 0 -4.9 0M560.7 639.1a2.45 2.45 0 1 0 4.9 0a2.45 2.45 0 1 0 -4.9 0M525.7 673.5a2.45 2.45 0 1 0 4.9 0a2.45 2.45 0 1 0 -4.9 0M561.3 635.8a2.45 2.45 0 1 0 4.9 0a2.45 2.45 0 1 0 -4.9 0M527.5 671.1a2.45 2.45 0 1 0 4.9 0a2.45 2.45 0 1 0 -4.9 0M525.8 671.3a2.45 2.45 0 1 0 4.9 0a2.45 2.45 0 1 0 -4.9 0M555.3 642.0a2.45 2.45 0 1 0 4.9 0a2.45 2.45 0 1 0 -4.9 0M560.3 637.4a2.45 2.45 0 1 0 4.9 0a2.45 2.45 0 1 0 -4.9 0M556.5 641.3a2.45 2.45 0 1 0 4.9 0a2.45 2.45 0 1 0 -4.9 0M534.4 665.6a2.45 2.45 0 1 0 4.9 0a2.45 2.45 0 1 0 -4.9 0M539.1 651.6a2.45 2.45 0 1 0 4.9 0a2.45 2.45 0 1 0 -4.9 0M531.1 667.0a2.45 2.45 0 1 0 4.9 0a2.45 2.45 0 1 0 -4.9 0M540.1 660.4a2.45 2.45 0 1 0 4.9 0a2.45 2.45 0 1 0 -4.9 0M543.2 657.3a2.45 2.45 0 1 0 4.9 0a2.45 2.45 0 1 0 -4.9 0M542.6 643.0a2.45 2.45 0 1 0 4.9 0a2.45 2.45 0 1 0 -4.9 0M560.3 643.6a2.45 2.45 0 1 0 4.9 0a2.45 2.45 0 1 0 -4.9 0M524.9 676.1a2.45 2.45 0 1 0 4.9 0a2.45 2.45 0 1 0 -4.9 0M546.8 644.9a2.45 2.45 0 1 0 4.9 0a2.45 2.45 0 1 0 -4.9 0M529.8 669.3a2.45 2.45 0 1 0 4.9 0a2.45 2.45 0 1 0 -4.9 0M532.5 667.1a2.45 2.45 0 1 0 4.9 0a2.45 2.45 0 1 0 -4.9 0M518.6 677.2a2.45 2.45 0 1 0 4.9 0a2.45 2.45 0 1 0 -4.9 0M530.2 666.4a2.45 2.45 0 1 0 4.9 0a2.45 2.45 0 1 0 -4.9 0M514.5 681.0a2.45 2.45 0 1 0 4.9 0a2.45 2.45 0 1 0 -4.9 0M518.4 682.7a2.45 2.45 0 1 0 4.9 0a2.45 2.45 0 1 0 -4.9 0M521.1 681.6a2.45 2.45 0 1 0 4.9 0a2.45 2.45 0 1 0 -4.9 0M537.9 663.8a2.45 2.45 0 1 0 4.9 0a2.45 2.45 0 1 0 -4.9 0M526.0 672.3a2.45 2.45 0 1 0 4.9 0a2.45 2.45 0 1 0 -4.9 0M520.8 673.7a2.45 2.45 0 1 0 4.9 0a2.45 2.45 0 1 0 -4.9 0M534.9 665.2a2.45 2.45 0 1 0 4.9 0a2.45 2.45 0 1 0 -4.9 0M554.3 647.9a2.45 2.45 0 1 0 4.9 0a2.45 2.45 0 1 0 -4.9 0M567.5 640.3a2.45 2.45 0 1 0 4.9 0a2.45 2.45 0 1 0 -4.9 0M565.1 640.5a2.45 2.45 0 1 0 4.9 0a2.45 2.45 0 1 0 -4.9 0M570.1 637.6a2.45 2.45 0 1 0 4.9 0a2.45 2.45 0 1 0 -4.9 0M569.2 638.1a2.45 2.45 0 1 0 4.9 0a2.45 2.45 0 1 0 -4.9 0M567.7 638.7a2.45 2.45 0 1 0 4.9 0a2.45 2.45 0 1 0 -4.9 0M565.4 639.0a2.45 2.45 0 1 0 4.9 0a2.45 2.45 0 1 0 -4.9 0M566.8 639.1a2.45 2.45 0 1 0 4.9 0a2.45 2.45 0 1 0 -4.9 0M569.6 637.7a2.45 2.45 0 1 0 4.9 0a2.45 2.45 0 1 0 -4.9 0M565.0 639.4a2.45 2.45 0 1 0 4.9 0a2.45 2.45 0 1 0 -4.9 0M565.7 637.2a2.45 2.45 0 1 0 4.9 0a2.45 2.45 0 1 0 -4.9 0M564.9 639.8a2.45 2.45 0 1 0 4.9 0a2.45 2.45 0 1 0 -4.9 0M564.8 639.6a2.45 2.45 0 1 0 4.9 0a2.45 2.45 0 1 0 -4.9 0M570.0 637.2a2.45 2.45 0 1 0 4.9 0a2.45 2.45 0 1 0 -4.9 0M563.8 639.4a2.45 2.45 0 1 0 4.9 0a2.45 2.45 0 1 0 -4.9 0M565.3 639.4a2.45 2.45 0 1 0 4.9 0a2.45 2.45 0 1 0 -4.9 0" fill="none" stroke="#ff0000" stroke-width="1.05" shape-rendering="auto"/>
</g>
<path d="M53.5 832V917" stroke="#000" />
<path d="M600.5 832V917" stroke="#000" />
<path d="M47 832.5H601" stroke="#000" />
<path d="M47 916.5H601" stroke="#000" />
<path d="M48 860.5H53" stroke="#000" />
<path d="M48 888.5H53" stroke="#000" />
<path d="M54 860.5H600" stroke="#000" stroke-dasharray="3 3"/>
<text transform="translate(2.5 848) scale(1.0 1)" font-size="17" text-anchor="start" font-family='"Liberation Sans", sans-serif'>dB</text>
<text transform="translate(44.3 894) scale(1.0 1)" font-size="17" text-anchor="end" font-family='"Liberation Sans", sans-serif'>10</text>
<path d="M53.5 918V924" stroke="#000" />
<path d="M119.5 918V924" stroke="#000" />
<text transform="translate(119.95 940) scale(1.0 1)" font-size="17" text-anchor="middle" font-family='"Liberation Sans", sans-serif'>500</text>
<path d="M185.5 918V924" stroke="#000" />
<text transform="translate(186.10000000000002 940) scale(1.0 1)" font-size="17" text-anchor="middle" font-family='"Liberation Sans", sans-serif'>1000</text>
<path d="M251.5 918V924" stroke="#000" />
<text transform="translate(252.25 940) scale(1.0 1)" font-size="17" text-anchor="middle" font-family='"Liberation Sans", sans-serif'>1500</text>
<path d="M317.5 918V924" stroke="#000" />
<text transform="translate(318.40000000000003 940) scale(1.0 1)" font-size="17" text-anchor="middle" font-family='"Liberation Sans", sans-serif'>2000</text>
<path d="M384.5 918V924" stroke="#000" />
<text transform="translate(384.55 940) scale(1.0 1)" font-size="17" text-anchor="middle" font-family='"Liberation Sans", sans-serif'>2500</text>
<path d="M450.5 918V924" stroke="#000" />
<text transform="translate(450.70000000000005 940) scale(1.0 1)" font-size="17" text-anchor="middle" font-family='"Liberation Sans", sans-serif'>3000</text>
<path d="M516.5 918V924" stroke="#000" />
<text transform="translate(516.85 940) scale(1.0 1)" font-size="17" text-anchor="middle" font-family='"Liberation Sans", sans-serif'>3500</text>
<path d="M582.5 918V924" stroke="#000" />
<path d="M600.5 918V924" stroke="#000" />
<text transform="translate(597 940) scale(1.0 1)" font-size="17" text-anchor="middle" font-family='"Liberation Sans", sans-serif'>s</text>
<clipPath id="stc"><rect x="53" y="832" width="553" height="85"/></clipPath>
<g clip-path="url(#stc)">
<path d="M52.6 886.1a2.45 2.45 0 1 0 4.9 0a2.45 2.45 0 1 0 -4.9 0M53.2 885.8a2.45 2.45 0 1 0 4.9 0a2.45 2.45 0 1 0 -4.9 0M54.6 884.2a2.45 2.45 0 1 0 4.9 0a2.45 2.45 0 1 0 -4.9 0M55.1 890.3a2.45 2.45 0 1 0 4.9 0a2.45 2.45 0 1 0 -4.9 0M57.0 885.7a2.45 2.45 0 1 0 4.9 0a2.45 2.45 0 1 0 -4.9 0M57.3 888.1a2.45 2.45 0 1 0 4.9 0a2.45 2.45 0 1 0 -4.9 0M58.3 888.3a2.45 2.45 0 1 0 4.9 0a2.45 2.45 0 1 0 -4.9 0M59.2 889.0a2.45 2.45 0 1 0 4.9 0a2.45 2.45 0 1 0 -4.9 0M60.2 888.8a2.45 2.45 0 1 0 4.9 0a2.45 2.45 0 1 0 -4.9 0M61.2 889.5a2.45 2.45 0 1 0 4.9 0a2.45 2.45 0 1 0 -4.9 0M62.6 888.6a2.45 2.45 0 1 0 4.9 0a2.45 2.45 0 1 0 -4.9 0M63.2 890.5a2.45 2.45 0 1 0 4.9 0a2.45 2.45 0 1 0 -4.9 0M64.4 890.4a2.45 2.45 0 1 0 4.9 0a2.45 2.45 0 1 0 -4.9 0M65.1 888.0a2.45 2.45 0 1 0 4.9 0a2.45 2.45 0 1 0 -4.9 0M66.6 888.1a2.45 2.45 0 1 0 4.9 0a2.45 2.45 0 1 0 -4.9 0M67.9 888.5a2.45 2.45 0 1 0 4.9 0a2.45 2.45 0 1 0 -4.9 0M68.7 887.7a2.45 2.45 0 1 0 4.9 0a2.45 2.45 0 1 0 -4.9 0M69.9 886.6a2.45 2.45 0 1 0 4.9 0a2.45 2.45 0 1 0 -4.9 0M70.6 889.8a2.45 2.45 0 1 0 4.9 0a2.45 2.45 0 1 0 -4.9 0M71.6 889.1a2.45 2.45 0 1 0 4.9 0a2.45 2.45 0 1 0 -4.9 0M72.1 891.1a2.45 2.45 0 1 0 4.9 0a2.45 2.45 0 1 0 -4.9 0M74.0 888.1a2.45 2.45 0 1 0 4.9 0a2.45 2.45 0 1 0 -4.9 0M74.1 891.4a2.45 2.45 0 1 0 4.9 0a2.45 2.45 0 1 0 -4.9 0M75.8 889.4a2.45 2.45 0 1 0 4.9 0a2.45 2.45 0 1 0 -4.9 0M76.9 888.5a2.45 2.45 0 1 0 4.9 0a2.45 2.45 0 1 0 -4.9 0M77.4 889.1a2.45 2.45 0 1 0 4.9 0a2.45 2.45 0 1 0 -4.9 0M78.1 888.6a2.45 2.45 0 1 0 4.9 0a2.45 2.45 0 1 0 -4.9 0M79.6 890.7a2.45 2.45 0 1 0 4.9 0a2.45 2.45 0 1 0 -4.9 0M80.1 887.4a2.45 2.45 0 1 0 4.9 0a2.45 2.45 0 1 0 -4.9 0M81.5 888.1a2.45 2.45 0 1 0 4.9 0a2.45 2.45 0 1 0 -4.9 0M82.1 891.0a2.45 2.45 0 1 0 4.9 0a2.45 2.45 0 1 0 -4.9 0M84.0 887.8a2.45 2.45 0 1 0 4.9 0a2.45 2.45 0 1 0 -4.9 0M84.8 885.1a2.45 2.45 0 1 0 4.9 0a2.45 2.45 0 1 0 -4.9 0M85.2 889.5a2.45 2.45 0 1 0 4.9 0a2.45 2.45 0 1 0 -4.9 0M86.3 887.8a2.45 2.45 0 1 0 4.9 0a2.45 2.45 0 1 0 -4.9 0M87.9 884.5a2.45 2.45 0 1 0 4.9 0a2.45 2.45 0 1 0 -4.9 0M88.2 888.4a2.45 2.45 0 1 0 4.9 0a2.45 2.45 0 1 0 -4.9 0M89.5 888.5a2.45 2.45 0 1 0 4.9 0a2.45 2.45 0 1 0 -4.9 0M91.0 890.3a2.45 2.45 0 1 0 4.9 0a2.45 2.45 0 1 0 -4.9 0M91.6 888.1a2.45 2.45 0 1 0 4.9 0a2.45 2.45 0 1 0 -4.9 0M92.5 886.7a2.45 2.45 0 1 0 4.9 0a2.45 2.45 0 1 0 -4.9 0M94.0 890.3a2.45 2.45 0 1 0 4.9 0a2.45 2.45 0 1 0 -4.9 0M94.4 890.2a2.45 2.45 0 1 0 4.9 0a2.45 2.45 0 1 0 -4.9 0M95.9 890.2a2.45 2.45 0 1 0 4.9 0a2.45 2.45 0 1 0 -4.9 0M96.4 888.6a2.45 2.45 0 1 0 4.9 0a2.45 2.45 0 1 0 -4.9 0M97.7 891.6a2.45 2.45 0 1 0 4.9 0a2.45 2.45 0 1 0 -4.9 0M98.4 888.1a2.45 2.45 0 1 0 4.9 0a2.45 2.45 0 1 0 -4.9 0M99.1 888.9a2.45 2.45 0 1 0 4.9 0a2.45 2.45 0 1 0 -4.9 0M100.6 887.4a2.45 2.45 0 1 0 4.9 0a2.45 2.45 0 1 0 -4.9 0M101.8 888.5a2.45 2.45 0 1 0 4.9 0a2.45 2.45 0 1 0 -4.9 0M102.5 887.7a2.45 2.45 0 1 0 4.9 0a2.45 2.45 0 1 0 -4.9 0M103.9 889.1a2.45 2.45 0 1 0 4.9 0a2.45 2.45 0 1 0 -4.9 0M104.6 887.4a2.45 2.45 0 1 0 4.9 0a2.45 2.45 0 1 0 -4.9 0M105.9 887.5a2.45 2.45 0 1 0 4.9 0a2.45 2.45 0 1 0 -4.9 0M106.7 888.0a2.45 2.45 0 1 0 4.9 0a2.45 2.45 0 1 0 -4.9 0M107.1 886.0a2.45 2.45 0 1 0 4.9 0a2.45 2.45 0 1 0 -4.9 0M109.0 887.1a2.45 2.45 0 1 0 4.9 0a2.45 2.45 0 1 0 -4.9 0M109.1 890.7a2.45 2.45 0 1 0 4.9 0a2.45 2.45 0 1 0 -4.9 0M110.6 886.2a2.45 2.45 0 1 0 4.9 0a2.45 2.45 0 1 0 -4.9 0M112.0 885.4a2.45 2.45 0 1 0 4.9 0a2.45 2.45 0 1 0 -4.9 0M112.9 886.1a2.45 2.45 0 1 0 4.9 0a2.45 2.45 0 1 0 -4.9 0M113.5 886.8a2.45 2.45 0 1 0 4.9 0a2.45 2.45 0 1 0 -4.9 0M114.3 888.5a2.45 2.45 0 1 0 4.9 0a2.45 2.45 0 1 0 -4.9 0M115.9 889.8a2.45 2.45 0 1 0 4.9 0a2.45 2.45 0 1 0 -4.9 0M116.6 888.4a2.45 2.45 0 1 0 4.9 0a2.45 2.45 0 1 0 -4.9 0M117.1 889.8a2.45 2.45 0 1 0 4.9 0a2.45 2.45 0 1 0 -4.9 0M118.3 890.9a2.45 2.45 0 1 0 4.9 0a2.45 2.45 0 1 0 -4.9 0M119.6 885.1a2.45 2.45 0 1 0 4.9 0a2.45 2.45 0 1 0 -4.9 0M120.3 885.8a2.45 2.45 0 1 0 4.9 0a2.45 2.45 0 1 0 -4.9 0M121.1 889.2a2.45 2.45 0 1 0 4.9 0a2.45 2.45 0 1 0 -4.9 0M122.2 884.0a2.45 2.45 0 1 0 4.9 0a2.45 2.45 0 1 0 -4.9 0M123.1 886.2a2.45 2.45 0 1 0 4.9 0a2.45 2.45 0 1 0 -4.9 0M125.0 886.3a2.45 2.45 0 1 0 4.9 0a2.45 2.45 0 1 0 -4.9 0M125.4 885.6a2.45 2.45 0 1 0 4.9 0a2.45 2.45 0 1 0 -4.9 0M126.4 888.6a2.45 2.45 0 1 0 4.9 0a2.45 2.45 0 1 0 -4.9 0M128.0 889.4a2.45 2.45 0 1 0 4.9 0a2.45 2.45 0 1 0 -4.9 0M128.2 886.9a2.45 2.45 0 1 0 4.9 0a2.45 2.45 0 1 0 -4.9 0M129.6 884.6a2.45 2.45 0 1 0 4.9 0a2.45 2.45 0 1 0 -4.9 0M130.7 891.4a2.45 2.45 0 1 0 4.9 0a2.45 2.45 0 1 0 -4.9 0M131.9 890.1a2.45 2.45 0 1 0 4.9 0a2.45 2.45 0 1 0 -4.9 0M132.9 888.7a2.45 2.45 0 1 0 4.9 0a2.45 2.45 0 1 0 -4.9 0M134.0 888.9a2.45 2.45 0 1 0 4.9 0a2.45 2.45 0 1 0 -4.9 0M134.9 888.0a2.45 2.45 0 1 0 4.9 0a2.45 2.45 0 1 0 -4.9 0M135.2 890.7a2.45 2.45 0 1 0 4.9 0a2.45 2.45 0 1 0 -4.9 0M136.8 892.0a2.45 2.45 0 1 0 4.9 0a2.45 2.45 0 1 0 -4.9 0M137.6 888.9a2.45 2.45 0 1 0 4.9 0a2.45 2.45 0 1 0 -4.9 0M138.8 889.0a2.45 2.45 0 1 0 4.9 0a2.45 2.45 0 1 0 -4.9 0M139.1 888.0a2.45 2.45 0 1 0 4.9 0a2.45 2.45 0 1 0 -4.9 0M140.9 891.8a2.45 2.45 0 1 0 4.9 0a2.45 2.45 0 1 0 -4.9 0M141.8 886.3a2.45 2.45 0 1 0 4.9 0a2.45 2.45 0 1 0 -4.9 0M142.5 886.1a2.45 2.45 0 1 0 4.9 0a2.45 2.45 0 1 0 -4.9 0M144.0 887.0a2.45 2.45 0 1 0 4.9 0a2.45 2.45 0 1 0 -4.9 0M144.6 886.6a2.45 2.45 0 1 0 4.9 0a2.45 2.45 0 1 0 -4.9 0M145.1 888.5a2.45 2.45 0 1 0 4.9 0a2.45 2.45 0 1 0 -4.9 0M147.0 888.0a2.45 2.45 0 1 0 4.9 0a2.45 2.45 0 1 0 -4.9 0M147.1 888.0a2.45 2.45 0 1 0 4.9 0a2.45 2.45 0 1 0 -4.9 0M148.4 887.3a2.45 2.45 0 1 0 4.9 0a2.45 2.45 0 1 0 -4.9 0M149.9 886.0a2.45 2.45 0 1 0 4.9 0a2.45 2.45 0 1 0 -4.9 0M150.8 888.0a2.45 2.45 0 1 0 4.9 0a2.45 2.45 0 1 0 -4.9 0M151.8 885.3a2.45 2.45 0 1 0 4.9 0a2.45 2.45 0 1 0 -4.9 0M152.8 890.1a2.45 2.45 0 1 0 4.9 0a2.45 2.45 0 1 0 -4.9 0M153.7 886.5a2.45 2.45 0 1 0 4.9 0a2.45 2.45 0 1 0 -4.9 0M154.6 889.2a2.45 2.45 0 1 0 4.9 0a2.45 2.45 0 1 0 -4.9 0M155.5 889.6a2.45 2.45 0 1 0 4.9 0a2.45 2.45 0 1 0 -4.9 0M156.5 889.5a2.45 2.45 0 1 0 4.9 0a2.45 2.45 0 1 0 -4.9 0M158.0 887.8a2.45 2.45 0 1 0 4.9 0a2.45 2.45 0 1 0 -4.9 0M158.4 886.1a2.45 2.45 0 1 0 4.9 0a2.45 2.45 0 1 0 -4.9 0M159.6 890.6a2.45 2.45 0 1 0 4.9 0a2.45 2.45 0 1 0 -4.9 0M160.9 889.7a2.45 2.45 0 1 0 4.9 0a2.45 2.45 0 1 0 -4.9 0M161.2 885.7a2.45 2.45 0 1 0 4.9 0a2.45 2.45 0 1 0 -4.9 0M162.3 888.1a2.45 2.45 0 1 0 4.9 0a2.45 2.45 0 1 0 -4.9 0M163.3 889.3a2.45 2.45 0 1 0 4.9 0a2.45 2.45 0 1 0 -4.9 0M164.7 890.8a2.45 2.45 0 1 0 4.9 0a2.45 2.45 0 1 0 -4.9 0M165.7 888.2a2.45 2.45 0 1 0 4.9 0a2.45 2.45 0 1 0 -4.9 0M167.0 888.9a2.45 2.45 0 1 0 4.9 0a2.45 2.45 0 1 0 -4.9 0M167.2 888.7a2.45 2.45 0 1 0 4.9 0a2.45 2.45 0 1 0 -4.9 0M168.8 890.9a2.45 2.45 0 1 0 4.9 0a2.45 2.45 0 1 0 -4.9 0M169.4 885.5a2.45 2.45 0 1 0 4.9 0a2.45 2.45 0 1 0 -4.9 0M170.4 889.3a2.45 2.45 0 1 0 4.9 0a2.45 2.45 0 1 0 -4.9 0M171.9 888.7a2.45 2.45 0 1 0 4.9 0a2.45 2.45 0 1 0 -4.9 0M172.6 887.4a2.45 2.45 0 1 0 4.9 0a2.45 2.45 0 1 0 -4.9 0M173.9 887.8a2.45 2.45 0 1 0 4.9 0a2.45 2.45 0 1 0 -4.9 0M174.3 887.5a2.45 2.45 0 1 0 4.9 0a2.45 2.45 0 1 0 -4.9 0M175.8 885.6a2.45 2.45 0 1 0 4.9 0a2.45 2.45 0 1 0 -4.9 0M176.7 886.2a2.45 2.45 0 1 0 4.9 0a2.45 2.45 0 1 0 -4.9 0M177.7 889.5a2.45 2.45 0 1 0 4.9 0a2.45 2.45 0 1 0 -4.9 0M178.5 887.9a2.45 2.45 0 1 0 4.9 0a2.45 2.45 0 1 0 -4.9 0M179.7 888.4a2.45 2.45 0 1 0 4.9 0a2.45 2.45 0 1 0 -4.9 0M180.3 890.6a2.45 2.45 0 1 0 4.9 0a2.45 2.45 0 1 0 -4.9 0M181.7 889.9a2.45 2.45 0 1 0 4.9 0a2.45 2.45 0 1 0 -4.9 0M182.7 885.6a2.45 2.45 0 1 0 4.9 0a2.45 2.45 0 1 0 -4.9 0M183.9 890.1a2.45 2.45 0 1 0 4.9 0a2.45 2.45 0 1 0 -4.9 0M184.9 889.0a2.45 2.45 0 1 0 4.9 0a2.45 2.45 0 1 0 -4.9 0M185.1 888.7a2.45 2.45 0 1 0 4.9 0a2.45 2.45 0 1 0 -4.9 0M186.6 887.5a2.45 2.45 0 1 0 4.9 0a2.45 2.45 0 1 0 -4.9 0M187.6 886.2a2.45 2.45 0 1 0 4.9 0a2.45 2.45 0 1 0 -4.9 0M188.2 887.8a2.45 2.45 0 1 0 4.9 0a2.45 2.45 0 1 0 -4.9 0M189.1 886.9a2.45 2.45 0 1 0 4.9 0a2.45 2.45 0 1 0 -4.9 0M190.3 891.4a2.45 2.45 0 1 0 4.9 0a2.45 2.45 0 1 0 -4.9 0M191.9 886.5a2.45 2.45 0 1 0 4.9 0a2.45 2.45 0 1 0 -4.9 0M192.6 889.0a2.45 2.45 0 1 0 4.9 0a2.45 2.45 0 1 0 -4.9 0M193.7 888.4a2.45 2.45 0 1 0 4.9 0a2.45 2.45 0 1 0 -4.9 0M194.6 887.1a2.45 2.45 0 1 0 4.9 0a2.45 2.45 0 1 0 -4.9 0M195.1 890.0a2.45 2.45 0 1 0 4.9 0a2.45 2.45 0 1 0 -4.9 0M196.8 886.0a2.45 2.45 0 1 0 4.9 0a2.45 2.45 0 1 0 -4.9 0M197.8 889.4a2.45 2.45 0 1 0 4.9 0a2.45 2.45 0 1 0 -4.9 0M198.8 887.8a2.45 2.45 0 1 0 4.9 0a2.45 2.45 0 1 0 -4.9 0M199.4 887.2a2.45 2.45 0 1 0 4.9 0a2.45 2.45 0 1 0 -4.9 0M200.2 889.7a2.45 2.45 0 1 0 4.9 0a2.45 2.45 0 1 0 -4.9 0M201.4 889.9a2.45 2.45 0 1 0 4.9 0a2.45 2.45 0 1 0 -4.9 0M202.7 887.8a2.45 2.45 0 1 0 4.9 0a2.45 2.45 0 1 0 -4.9 0M203.7 890.3a2.45 2.45 0 1 0 4.9 0a2.45 2.45 0 1 0 -4.9 0M204.2 888.7a2.45 2.45 0 1 0 4.9 0a2.45 2.45 0 1 0 -4.9 0M205.3 888.2a2.45 2.45 0 1 0 4.9 0a2.45 2.45 0 1 0 -4.9 0M206.9 888.5a2.45 2.45 0 1 0 4.9 0a2.45 2.45 0 1 0 -4.9 0M207.7 890.8a2.45 2.45 0 1 0 4.9 0a2.45 2.45 0 1 0 -4.9 0M208.2 885.9a2.45 2.45 0 1 0 4.9 0a2.45 2.45 0 1 0 -4.9 0M209.3 890.9a2.45 2.45 0 1 0 4.9 0a2.45 2.45 0 1 0 -4.9 0M210.7 889.5a2.45 2.45 0 1 0 4.9 0a2.45 2.45 0 1 0 -4.9 0M212.0 887.2a2.45 2.45 0 1 0 4.9 0a2.45 2.45 0 1 0 -4.9 0M212.9 889.7a2.45 2.45 0 1 0 4.9 0a2.45 2.45 0 1 0 -4.9 0M213.6 889.8a2.45 2.45 0 1 0 4.9 0a2.45 2.45 0 1 0 -4.9 0M214.7 887.3a2.45 2.45 0 1 0 4.9 0a2.45 2.45 0 1 0 -4.9 0M215.5 888.1a2.45 2.45 0 1 0 4.9 0a2.45 2.45 0 1 0 -4.9 0M216.8 884.4a2.45 2.45 0 1 0 4.9 0a2.45 2.45 0 1 0 -4.9 0M217.1 888.4a2.45 2.45 0 1 0 4.9 0a2.45 2.45 0 1 0 -4.9 0M218.4 887.8a2.45 2.45 0 1 0 4.9 0a2.45 2.45 0 1 0 -4.9 0M220.0 887.7a2.45 2.45 0 1 0 4.9 0a2.45 2.45 0 1 0 -4.9 0M221.0 887.4a2.45 2.45 0 1 0 4.9 0a2.45 2.45 0 1 0 -4.9 0M221.5 886.0a2.45 2.45 0 1 0 4.9 0a2.45 2.45 0 1 0 -4.9 0M222.8 886.3a2.45 2.45 0 1 0 4.9 0a2.45 2.45 0 1 0 -4.9 0M223.3 885.6a2.45 2.45 0 1 0 4.9 0a2.45 2.45 0 1 0 -4.9 0M224.3 890.7a2.45 2.45 0 1 0 4.9 0a2.45 2.45 0 1 0 -4.9 0M225.7 889.6a2.45 2.45 0 1 0 4.9 0a2.45 2.45 0 1 0 -4.9 0M227.0 886.7a2.45 2.45 0 1 0 4.9 0a2.45 2.45 0 1 0 -4.9 0M228.0 889.5a2.45 2.45 0 1 0 4.9 0a2.45 2.45 0 1 0 -4.9 0M228.5 886.5a2.45 2.45 0 1 0 4.9 0a2.45 2.45 0 1 0 -4.9 0M229.4 888.3a2.45 2.45 0 1 0 4.9 0a2.45 2.45 0 1 0 -4.9 0M230.1 886.3a2.45 2.45 0 1 0 4.9 0a2.45 2.45 0 1 0 -4.9 0M231.5 889.3a2.45 2.45 0 1 0 4.9 0a2.45 2.45 0 1 0 -4.9 0M232.6 886.6a2.45 2.45 0 1 0 4.9 0a2.45 2.45 0 1 0 -4.9 0M233.5 888.2a2.45 2.45 0 1 0 4.9 0a2.45 2.45 0 1 0 -4.9 0M234.6 888.9a2.45 2.45 0 1 0 4.9 0a2.45 2.45 0 1 0 -4.9 0M235.8 887.1a2.45 2.45 0 1 0 4.9 0a2.45 2.45 0 1 0 -4.9 0M236.5 887.0a2.45 2.45 0 1 0 4.9 0a2.45 2.45 0 1 0 -4.9 0M237.7 887.1a2.45 2.45 0 1 0 4.9 0a2.45 2.45 0 1 0 -4.9 0M238.5 888.2a2.45 2.45 0 1 0 4.9 0a2.45 2.45 0 1 0 -4.9 0M239.5 888.1a2.45 2.45 0 1 0 4.9 0a2.45 2.45 0 1 0 -4.9 0M240.6 889.6a2.45 2.45 0 1 0 4.9 0a2.45 2.45 0 1 0 -4.9 0M241.3 890.1a2.45 2.45 0 1 0 4.9 0a2.45 2.45 0 1 0 -4.9 0M242.1 886.4a2.45 2.45 0 1 0 4.9 0a2.45 2.45 0 1 0 -4.9 0M243.2 888.6a2.45 2.45 0 1 0 4.9 0a2.45 2.45 0 1 0 -4.9 0M244.2 886.4a2.45 2.45 0 1 0 4.9 0a2.45 2.45 0 1 0 -4.9 0M245.5 889.4a2.45 2.45 0 1 0 4.9 0a2.45 2.45 0 1 0 -4.9 0M246.9 886.8a2.45 2.45 0 1 0 4.9 0a2.45 2.45 0 1 0 -4.9 0M248.0 889.3a2.45 2.45 0 1 0 4.9 0a2.45 2.45 0 1 0 -4.9 0M248.6 887.4a2.45 2.45 0 1 0 4.9 0a2.45 2.45 0 1 0 -4.9 0M250.0 889.6a2.45 2.45 0 1 0 4.9 0a2.45 2.45 0 1 0 -4.9 0M250.4 892.3a2.45 2.45 0 1 0 4.9 0a2.45 2.45 0 1 0 -4.9 0M251.8 888.3a2.45 2.45 0 1 0 4.9 0a2.45 2.45 0 1 0 -4.9 0M252.1 887.1a2.45 2.45 0 1 0 4.9 0a2.45 2.45 0 1 0 -4.9 0M254.0 888.1a2.45 2.45 0 1 0 4.9 0a2.45 2.45 0 1 0 -4.9 0M254.3 889.9a2.45 2.45 0 1 0 4.9 0a2.45 2.45 0 1 0 -4.9 0M255.1 889.5a2.45 2.45 0 1 0 4.9 0a2.45 2.45 0 1 0 -4.9 0M256.4 890.5a2.45 2.45 0 1 0 4.9 0a2.45 2.45 0 1 0 -4.9 0M257.1 889.4a2.45 2.45 0 1 0 4.9 0a2.45 2.45 0 1 0 -4.9 0M259.0 888.6a2.45 2.45 0 1 0 4.9 0a2.45 2.45 0 1 0 -4.9 0M259.9 888.5a2.45 2.45 0 1 0 4.9 0a2.45 2.45 0 1 0 -4.9 0M260.7 886.2a2.45 2.45 0 1 0 4.9 0a2.45 2.45 0 1 0 -4.9 0M261.9 887.9a2.45 2.45 0 1 0 4.9 0a2.45 2.45 0 1 0 -4.9 0M262.1 887.2a2.45 2.45 0 1 0 4.9 0a2.45 2.45 0 1 0 -4.9 0M263.2 892.0a2.45 2.45 0 1 0 4.9 0a2.45 2.45 0 1 0 -4.9 0M264.7 888.5a2.45 2.45 0 1 0 4.9 0a2.45 2.45 0 1 0 -4.9 0M265.3 886.5a2.45 2.45 0 1 0 4.9 0a2.45 2.45 0 1 0 -4.9 0M266.9 886.0a2.45 2.45 0 1 0 4.9 0a2.45 2.45 0 1 0 -4.9 0M268.0 889.4a2.45 2.45 0 1 0 4.9 0a2.45 2.45 0 1 0 -4.9 0M268.9 888.8a2.45 2.45 0 1 0 4.9 0a2.45 2.45 0 1 0 -4.9 0M269.4 887.5a2.45 2.45 0 1 0 4.9 0a2.45 2.45 0 1 0 -4.9 0M270.1 886.4a2.45 2.45 0 1 0 4.9 0a2.45 2.45 0 1 0 -4.9 0M271.9 889.5a2.45 2.45 0 1 0 4.9 0a2.45 2.45 0 1 0 -4.9 0M272.8 889.7a2.45 2.45 0 1 0 4.9 0a2.45 2.45 0 1 0 -4.9 0M273.7 888.6a2.45 2.45 0 1 0 4.9 0a2.45 2.45 0 1 0 -4.9 0M275.0 889.2a2.45 2.45 0 1 0 4.9 0a2.45 2.45 0 1 0 -4.9 0M275.1 889.0a2.45 2.45 0 1 0 4.9 0a2.45 2.45 0 1 0 -4.9 0M276.3 887.9a2.45 2.45 0 1 0 4.9 0a2.45 2.45 0 1 0 -4.9 0M277.3 885.6a2.45 2.45 0 1 0 4.9 0a2.45 2.45 0 1 0 -4.9 0M278.7 885.3a2.45 2.45 0 1 0 4.9 0a2.45 2.45 0 1 0 -4.9 0M279.2 887.4a2.45 2.45 0 1 0 4.9 0a2.45 2.45 0 1 0 -4.9 0M280.2 891.5a2.45 2.45 0 1 0 4.9 0a2.45 2.45 0 1 0 -4.9 0M281.6 888.6a2.45 2.45 0 1 0 4.9 0a2.45 2.45 0 1 0 -4.9 0M282.7 887.9a2.45 2.45 0 1 0 4.9 0a2.45 2.45 0 1 0 -4.9 0M283.6 883.7a2.45 2.45 0 1 0 4.9 0a2.45 2.45 0 1 0 -4.9 0M284.3 884.7a2.45 2.45 0 1 0 4.9 0a2.45 2.45 0 1 0 -4.9 0M285.4 884.1a2.45 2.45 0 1 0 4.9 0a2.45 2.45 0 1 0 -4.9 0M286.7 888.1a2.45 2.45 0 1 0 4.9 0a2.45 2.45 0 1 0 -4.9 0M287.9 890.4a2.45 2.45 0 1 0 4.9 0a2.45 2.45 0 1 0 -4.9 0M288.2 885.3a2.45 2.45 0 1 0 4.9 0a2.45 2.45 0 1 0 -4.9 0M289.3 887.5a2.45 2.45 0 1 0 4.9 0a2.45 2.45 0 1 0 -4.9 0M290.8 888.3a2.45 2.45 0 1 0 4.9 0a2.45 2.45 0 1 0 -4.9 0M291.1 882.1a2.45 2.45 0 1 0 4.9 0a2.45 2.45 0 1 0 -4.9 0M292.1 883.8a2.45 2.45 0 1 0 4.9 0a2.45 2.45 0 1 0 -4.9 0M294.0 888.1a2.45 2.45 0 1 0 4.9 0a2.45 2.45 0 1 0 -4.9 0M294.6 883.6a2.45 2.45 0 1 0 4.9 0a2.45 2.45 0 1 0 -4.9 0M295.1 885.7a2.45 2.45 0 1 0 4.9 0a2.45 2.45 0 1 0 -4.9 0M296.9 886.0a2.45 2.45 0 1 0 4.9 0a2.45 2.45 0 1 0 -4.9 0M297.7 883.0a2.45 2.45 0 1 0 4.9 0a2.45 2.45 0 1 0 -4.9 0M298.4 883.4a2.45 2.45 0 1 0 4.9 0a2.45 2.45 0 1 0 -4.9 0M299.4 885.2a2.45 2.45 0 1 0 4.9 0a2.45 2.45 0 1 0 -4.9 0M300.5 883.6a2.45 2.45 0 1 0 4.9 0a2.45 2.45 0 1 0 -4.9 0M301.9 885.2a2.45 2.45 0 1 0 4.9 0a2.45 2.45 0 1 0 -4.9 0M302.5 889.3a2.45 2.45 0 1 0 4.9 0a2.45 2.45 0 1 0 -4.9 0M304.0 886.5a2.45 2.45 0 1 0 4.9 0a2.45 2.45 0 1 0 -4.9 0M304.8 887.2a2.45 2.45 0 1 0 4.9 0a2.45 2.45 0 1 0 -4.9 0M305.7 885.1a2.45 2.45 0 1 0 4.9 0a2.45 2.45 0 1 0 -4.9 0M306.2 888.2a2.45 2.45 0 1 0 4.9 0a2.45 2.45 0 1 0 -4.9 0M307.7 879.7a2.45 2.45 0 1 0 4.9 0a2.45 2.45 0 1 0 -4.9 0M308.3 886.7a2.45 2.45 0 1 0 4.9 0a2.45 2.45 0 1 0 -4.9 0M309.3 885.5a2.45 2.45 0 1 0 4.9 0a2.45 2.45 0 1 0 -4.9 0M311.0 883.4a2.45 2.45 0 1 0 4.9 0a2.45 2.45 0 1 0 -4.9 0M311.7 890.0a2.45 2.45 0 1 0 4.9 0a2.45 2.45 0 1 0 -4.9 0M312.2 889.6a2.45 2.45 0 1 0 4.9 0a2.45 2.45 0 1 0 -4.9 0M313.9 884.5a2.45 2.45 0 1 0 4.9 0a2.45 2.45 0 1 0 -4.9 0M314.3 885.6a2.45 2.45 0 1 0 4.9 0a2.45 2.45 0 1 0 -4.9 0M315.3 889.0a2.45 2.45 0 1 0 4.9 0a2.45 2.45 0 1 0 -4.9 0M316.7 882.6a2.45 2.45 0 1 0 4.9 0a2.45 2.45 0 1 0 -4.9 0M317.3 885.5a2.45 2.45 0 1 0 4.9 0a2.45 2.45 0 1 0 -4.9 0M318.3 885.2a2.45 2.45 0 1 0 4.9 0a2.45 2.45 0 1 0 -4.9 0M319.2 885.1a2.45 2.45 0 1 0 4.9 0a2.45 2.45 0 1 0 -4.9 0M320.6 883.8a2.45 2.45 0 1 0 4.9 0a2.45 2.45 0 1 0 -4.9 0M321.7 887.2a2.45 2.45 0 1 0 4.9 0a2.45 2.45 0 1 0 -4.9 0M322.1 888.5a2.45 2.45 0 1 0 4.9 0a2.45 2.45 0 1 0 -4.9 0M323.1 886.8a2.45 2.45 0 1 0 4.9 0a2.45 2.45 0 1 0 -4.9 0M324.8 885.4a2.45 2.45 0 1 0 4.9 0a2.45 2.45 0 1 0 -4.9 0M325.6 883.2a2.45 2.45 0 1 0 4.9 0a2.45 2.45 0 1 0 -4.9 0M326.6 885.2a2.45 2.45 0 1 0 4.9 0a2.45 2.45 0 1 0 -4.9 0M327.4 889.1a2.45 2.45 0 1 0 4.9 0a2.45 2.45 0 1 0 -4.9 0M328.5 883.4a2.45 2.45 0 1 0 4.9 0a2.45 2.45 0 1 0 -4.9 0M329.9 886.9a2.45 2.45 0 1 0 4.9 0a2.45 2.45 0 1 0 -4.9 0M330.7 885.6a2.45 2.45 0 1 0 4.9 0a2.45 2.45 0 1 0 -4.9 0M332.0 888.2a2.45 2.45 0 1 0 4.9 0a2.45 2.45 0 1 0 -4.9 0M332.1 886.7a2.45 2.45 0 1 0 4.9 0a2.45 2.45 0 1 0 -4.9 0M333.8 880.7a2.45 2.45 0 1 0 4.9 0a2.45 2.45 0 1 0 -4.9 0M334.3 887.5a2.45 2.45 0 1 0 4.9 0a2.45 2.45 0 1 0 -4.9 0M335.8 884.4a2.45 2.45 0 1 0 4.9 0a2.45 2.45 0 1 0 -4.9 0M336.4 881.2a2.45 2.45 0 1 0 4.9 0a2.45 2.45 0 1 0 -4.9 0M337.7 886.1a2.45 2.45 0 1 0 4.9 0a2.45 2.45 0 1 0 -4.9 0M338.8 886.8a2.45 2.45 0 1 0 4.9 0a2.45 2.45 0 1 0 -4.9 0M339.4 886.8a2.45 2.45 0 1 0 4.9 0a2.45 2.45 0 1 0 -4.9 0M340.4 889.7a2.45 2.45 0 1 0 4.9 0a2.45 2.45 0 1 0 -4.9 0M341.9 887.2a2.45 2.45 0 1 0 4.9 0a2.45 2.45 0 1 0 -4.9 0M342.9 885.3a2.45 2.45 0 1 0 4.9 0a2.45 2.45 0 1 0 -4.9 0M343.9 885.7a2.45 2.45 0 1 0 4.9 0a2.45 2.45 0 1 0 -4.9 0M344.8 885.6a2.45 2.45 0 1 0 4.9 0a2.45 2.45 0 1 0 -4.9 0M345.1 887.5a2.45 2.45 0 1 0 4.9 0a2.45 2.45 0 1 0 -4.9 0M346.5 884.3a2.45 2.45 0 1 0 4.9 0a2.45 2.45 0 1 0 -4.9 0M347.4 885.2a2.45 2.45 0 1 0 4.9 0a2.45 2.45 0 1 0 -4.9 0M348.3 884.0a2.45 2.45 0 1 0 4.9 0a2.45 2.45 0 1 0 -4.9 0M349.9 886.2a2.45 2.45 0 1 0 4.9 0a2.45 2.45 0 1 0 -4.9 0M350.5 882.7a2.45 2.45 0 1 0 4.9 0a2.45 2.45 0 1 0 -4.9 0M351.7 885.3a2.45 2.45 0 1 0 4.9 0a2.45 2.45 0 1 0 -4.9 0M352.1 888.7a2.45 2.45 0 1 0 4.9 0a2.45 2.45 0 1 0 -4.9 0M353.6 884.0a2.45 2.45 0 1 0 4.9 0a2.45 2.45 0 1 0 -4.9 0M354.4 885.9a2.45 2.45 0 1 0 4.9 0a2.45 2.45 0 1 0 -4.9 0M355.4 889.4a2.45 2.45 0 1 0 4.9 0a2.45 2.45 0 1 0 -4.9 0M356.9 886.4a2.45 2.45 0 1 0 4.9 0a2.45 2.45 0 1 0 -4.9 0M358.0 884.3a2.45 2.45 0 1 0 4.9 0a2.45 2.45 0 1 0 -4.9 0M358.6 885.6a2.45 2.45 0 1 0 4.9 0a2.45 2.45 0 1 0 -4.9 0M359.3 887.9a2.45 2.45 0 1 0 4.9 0a2.45 2.45 0 1 0 -4.9 0M360.5 882.8a2.45 2.45 0 1 0 4.9 0a2.45 2.45 0 1 0 -4.9 0M361.1 888.3a2.45 2.45 0 1 0 4.9 0a2.45 2.45 0 1 0 -4.9 0M362.4 884.7a2.45 2.45 0 1 0 4.9 0a2.45 2.45 0 1 0 -4.9 0M363.7 886.8a2.45 2.45 0 1 0 4.9 0a2.45 2.45 0 1 0 -4.9 0M364.6 882.3a2.45 2.45 0 1 0 4.9 0a2.45 2.45 0 1 0 -4.9 0M365.7 885.6a2.45 2.45 0 1 0 4.9 0a2.45 2.45 0 1 0 -4.9 0M366.5 885.7a2.45 2.45 0 1 0 4.9 0a2.45 2.45 0 1 0 -4.9 0M367.6 886.8a2.45 2.45 0 1 0 4.9 0a2.45 2.45 0 1 0 -4.9 0M368.4 888.3a2.45 2.45 0 1 0 4.9 0a2.45 2.45 0 1 0 -4.9 0M369.4 885.2a2.45 2.45 0 1 0 4.9 0a2.45 2.45 0 1 0 -4.9 0M370.4 883.0a2.45 2.45 0 1 0 4.9 0a2.45 2.45 0 1 0 -4.9 0M371.3 888.0a2.45 2.45 0 1 0 4.9 0a2.45 2.45 0 1 0 -4.9 0M372.9 882.9a2.45 2.45 0 1 0 4.9 0a2.45 2.45 0 1 0 -4.9 0M373.6 886.3a2.45 2.45 0 1 0 4.9 0a2.45 2.45 0 1 0 -4.9 0M374.2 886.3a2.45 2.45 0 1 0 4.9 0a2.45 2.45 0 1 0 -4.9 0M375.9 880.7a2.45 2.45 0 1 0 4.9 0a2.45 2.45 0 1 0 -4.9 0M376.6 885.9a2.45 2.45 0 1 0 4.9 0a2.45 2.45 0 1 0 -4.9 0M378.0 889.8a2.45 2.45 0 1 0 4.9 0a2.45 2.45 0 1 0 -4.9 0M378.9 888.7a2.45 2.45 0 1 0 4.9 0a2.45 2.45 0 1 0 -4.9 0M379.2 884.5a2.45 2.45 0 1 0 4.9 0a2.45 2.45 0 1 0 -4.9 0M380.2 885.4a2.45 2.45 0 1 0 4.9 0a2.45 2.45 0 1 0 -4.9 0M381.9 879.6a2.45 2.45 0 1 0 4.9 0a2.45 2.45 0 1 0 -4.9 0M382.1 885.8a2.45 2.45 0 1 0 4.9 0a2.45 2.45 0 1 0 -4.9 0M383.7 884.3a2.45 2.45 0 1 0 4.9 0a2.45 2.45 0 1 0 -4.9 0M384.5 888.0a2.45 2.45 0 1 0 4.9 0a2.45 2.45 0 1 0 -4.9 0M385.6 890.1a2.45 2.45 0 1 0 4.9 0a2.45 2.45 0 1 0 -4.9 0M387.0 887.1a2.45 2.45 0 1 0 4.9 0a2.45 2.45 0 1 0 -4.9 0M388.0 887.7a2.45 2.45 0 1 0 4.9 0a2.45 2.45 0 1 0 -4.9 0M388.7 884.1a2.45 2.45 0 1 0 4.9 0a2.45 2.45 0 1 0 -4.9 0M389.7 886.0a2.45 2.45 0 1 0 4.9 0a2.45 2.45 0 1 0 -4.9 0M391.0 888.2a2.45 2.45 0 1 0 4.9 0a2.45 2.45 0 1 0 -4.9 0M391.7 886.9a2.45 2.45 0 1 0 4.9 0a2.45 2.45 0 1 0 -4.9 0M392.1 887.1a2.45 2.45 0 1 0 4.9 0a2.45 2.45 0 1 0 -4.9 0M393.9 886.8a2.45 2.45 0 1 0 4.9 0a2.45 2.45 0 1 0 -4.9 0M394.9 885.7a2.45 2.45 0 1 0 4.9 0a2.45 2.45 0 1 0 -4.9 0M395.5 884.6a2.45 2.45 0 1 0 4.9 0a2.45 2.45 0 1 0 -4.9 0M396.7 886.6a2.45 2.45 0 1 0 4.9 0a2.45 2.45 0 1 0 -4.9 0M397.3 885.9a2.45 2.45 0 1 0 4.9 0a2.45 2.45 0 1 0 -4.9 0M398.9 886.7a2.45 2.45 0 1 0 4.9 0a2.45 2.45 0 1 0 -4.9 0M399.7 885.7a2.45 2.45 0 1 0 4.9 0a2.45 2.45 0 1 0 -4.9 0M400.3 884.8a2.45 2.45 0 1 0 4.9 0a2.45 2.45 0 1 0 -4.9 0M401.1 886.4a2.45 2.45 0 1 0 4.9 0a2.45 2.45 0 1 0 -4.9 0M403.0 889.8a2.45 2.45 0 1 0 4.9 0a2.45 2.45 0 1 0 -4.9 0M403.8 884.8a2.45 2.45 0 1 0 4.9 0a2.45 2.45 0 1 0 -4.9 0M404.1 888.2a2.45 2.45 0 1 0 4.9 0a2.45 2.45 0 1 0 -4.9 0M405.5 882.8a2.45 2.45 0 1 0 4.9 0a2.45 2.45 0 1 0 -4.9 0M406.9 885.6a2.45 2.45 0 1 0 4.9 0a2.45 2.45 0 1 0 -4.9 0M407.7 883.4a2.45 2.45 0 1 0 4.9 0a2.45 2.45 0 1 0 -4.9 0M408.4 887.2a2.45 2.45 0 1 0 4.9 0a2.45 2.45 0 1 0 -4.9 0M409.6 886.8a2.45 2.45 0 1 0 4.9 0a2.45 2.45 0 1 0 -4.9 0M410.7 886.0a2.45 2.45 0 1 0 4.9 0a2.45 2.45 0 1 0 -4.9 0M411.2 887.2a2.45 2.45 0 1 0 4.9 0a2.45 2.45 0 1 0 -4.9 0M413.0 882.9a2.45 2.45 0 1 0 4.9 0a2.45 2.45 0 1 0 -4.9 0M413.8 886.0a2.45 2.45 0 1 0 4.9 0a2.45 2.45 0 1 0 -4.9 0M414.8 883.6a2.45 2.45 0 1 0 4.9 0a2.45 2.45 0 1 0 -4.9 0M415.8 889.1a2.45 2.45 0 1 0 4.9 0a2.45 2.45 0 1 0 -4.9 0M416.3 890.5a2.45 2.45 0 1 0 4.9 0a2.45 2.45 0 1 0 -4.9 0M417.6 887.3a2.45 2.45 0 1 0 4.9 0a2.45 2.45 0 1 0 -4.9 0M418.6 883.9a2.45 2.45 0 1 0 4.9 0a2.45 2.45 0 1 0 -4.9 0M419.9 892.0a2.45 2.45 0 1 0 4.9 0a2.45 2.45 0 1 0 -4.9 0M421.0 884.0a2.45 2.45 0 1 0 4.9 0a2.45 2.45 0 1 0 -4.9 0M421.4 887.4a2.45 2.45 0 1 0 4.9 0a2.45 2.45 0 1 0 -4.9 0M423.0 882.2a2.45 2.45 0 1 0 4.9 0a2.45 2.45 0 1 0 -4.9 0M423.5 888.6a2.45 2.45 0 1 0 4.9 0a2.45 2.45 0 1 0 -4.9 0M424.8 885.6a2.45 2.45 0 1 0 4.9 0a2.45 2.45 0 1 0 -4.9 0M425.9 886.5a2.45 2.45 0 1 0 4.9 0a2.45 2.45 0 1 0 -4.9 0M426.3 884.7a2.45 2.45 0 1 0 4.9 0a2.45 2.45 0 1 0 -4.9 0M427.1 890.0a2.45 2.45 0 1 0 4.9 0a2.45 2.45 0 1 0 -4.9 0M428.2 883.1a2.45 2.45 0 1 0 4.9 0a2.45 2.45 0 1 0 -4.9 0M429.4 889.0a2.45 2.45 0 1 0 4.9 0a2.45 2.45 0 1 0 -4.9 0M430.1 883.2a2.45 2.45 0 1 0 4.9 0a2.45 2.45 0 1 0 -4.9 0M431.4 883.1a2.45 2.45 0 1 0 4.9 0a2.45 2.45 0 1 0 -4.9 0M432.1 884.5a2.45 2.45 0 1 0 4.9 0a2.45 2.45 0 1 0 -4.9 0M433.7 885.8a2.45 2.45 0 1 0 4.9 0a2.45 2.45 0 1 0 -4.9 0M434.7 883.8a2.45 2.45 0 1 0 4.9 0a2.45 2.45 0 1 0 -4.9 0M435.5 884.0a2.45 2.45 0 1 0 4.9 0a2.45 2.45 0 1 0 -4.9 0M436.2 882.9a2.45 2.45 0 1 0 4.9 0a2.45 2.45 0 1 0 -4.9 0M437.9 888.3a2.45 2.45 0 1 0 4.9 0a2.45 2.45 0 1 0 -4.9 0M438.9 883.1a2.45 2.45 0 1 0 4.9 0a2.45 2.45 0 1 0 -4.9 0M439.1 882.8a2.45 2.45 0 1 0 4.9 0a2.45 2.45 0 1 0 -4.9 0M440.3 885.5a2.45 2.45 0 1 0 4.9 0a2.45 2.45 0 1 0 -4.9 0M441.9 882.3a2.45 2.45 0 1 0 4.9 0a2.45 2.45 0 1 0 -4.9 0M442.8 883.9a2.45 2.45 0 1 0 4.9 0a2.45 2.45 0 1 0 -4.9 0M443.6 885.6a2.45 2.45 0 1 0 4.9 0a2.45 2.45 0 1 0 -4.9 0M444.1 885.9a2.45 2.45 0 1 0 4.9 0a2.45 2.45 0 1 0 -4.9 0M445.2 886.2a2.45 2.45 0 1 0 4.9 0a2.45 2.45 0 1 0 -4.9 0M446.5 883.3a2.45 2.45 0 1 0 4.9 0a2.45 2.45 0 1 0 -4.9 0M447.2 884.4a2.45 2.45 0 1 0 4.9 0a2.45 2.45 0 1 0 -4.9 0M448.8 884.8a2.45 2.45 0 1 0 4.9 0a2.45 2.45 0 1 0 -4.9 0M449.2 888.4a2.45 2.45 0 1 0 4.9 0a2.45 2.45 0 1 0 -4.9 0M450.9 887.5a2.45 2.45 0 1 0 4.9 0a2.45 2.45 0 1 0 -4.9 0M451.9 885.8a2.45 2.45 0 1 0 4.9 0a2.45 2.45 0 1 0 -4.9 0M452.4 893.7a2.45 2.45 0 1 0 4.9 0a2.45 2.45 0 1 0 -4.9 0M453.4 880.7a2.45 2.45 0 1 0 4.9 0a2.45 2.45 0 1 0 -4.9 0M454.5 884.4a2.45 2.45 0 1 0 4.9 0a2.45 2.45 0 1 0 -4.9 0M456.0 885.1a2.45 2.45 0 1 0 4.9 0a2.45 2.45 0 1 0 -4.9 0M456.5 889.3a2.45 2.45 0 1 0 4.9 0a2.45 2.45 0 1 0 -4.9 0M457.7 884.4a2.45 2.45 0 1 0 4.9 0a2.45 2.45 0 1 0 -4.9 0M458.8 886.1a2.45 2.45 0 1 0 4.9 0a2.45 2.45 0 1 0 -4.9 0M459.9 882.9a2.45 2.45 0 1 0 4.9 0a2.45 2.45 0 1 0 -4.9 0M460.9 888.2a2.45 2.45 0 1 0 4.9 0a2.45 2.45 0 1 0 -4.9 0M461.4 884.8a2.45 2.45 0 1 0 4.9 0a2.45 2.45 0 1 0 -4.9 0M462.1 887.1a2.45 2.45 0 1 0 4.9 0a2.45 2.45 0 1 0 -4.9 0M463.6 885.2a2.45 2.45 0 1 0 4.9 0a2.45 2.45 0 1 0 -4.9 0M464.3 882.7a2.45 2.45 0 1 0 4.9 0a2.45 2.45 0 1 0 -4.9 0M465.7 883.6a2.45 2.45 0 1 0 4.9 0a2.45 2.45 0 1 0 -4.9 0M467.0 885.2a2.45 2.45 0 1 0 4.9 0a2.45 2.45 0 1 0 -4.9 0M467.4 882.6a2.45 2.45 0 1 0 4.9 0a2.45 2.45 0 1 0 -4.9 0M468.1 889.2a2.45 2.45 0 1 0 4.9 0a2.45 2.45 0 1 0 -4.9 0M469.4 886.1a2.45 2.45 0 1 0 4.9 0a2.45 2.45 0 1 0 -4.9 0M470.5 885.4a2.45 2.45 0 1 0 4.9 0a2.45 2.45 0 1 0 -4.9 0M471.9 886.6a2.45 2.45 0 1 0 4.9 0a2.45 2.45 0 1 0 -4.9 0M472.5 882.2a2.45 2.45 0 1 0 4.9 0a2.45 2.45 0 1 0 -4.9 0M473.6 886.3a2.45 2.45 0 1 0 4.9 0a2.45 2.45 0 1 0 -4.9 0M474.3 883.3a2.45 2.45 0 1 0 4.9 0a2.45 2.45 0 1 0 -4.9 0M475.6 886.8a2.45 2.45 0 1 0 4.9 0a2.45 2.45 0 1 0 -4.9 0M476.5 886.4a2.45 2.45 0 1 0 4.9 0a2.45 2.45 0 1 0 -4.9 0M477.5 884.1a2.45 2.45 0 1 0 4.9 0a2.45 2.45 0 1 0 -4.9 0M478.1 887.6a2.45 2.45 0 1 0 4.9 0a2.45 2.45 0 1 0 -4.9 0M479.5 887.3a2.45 2.45 0 1 0 4.9 0a2.45 2.45 0 1 0 -4.9 0M480.8 884.0a2.45 2.45 0 1 0 4.9 0a2.45 2.45 0 1 0 -4.9 0M481.2 888.4a2.45 2.45 0 1 0 4.9 0a2.45 2.45 0 1 0 -4.9 0M482.3 888.8a2.45 2.45 0 1 0 4.9 0a2.45 2.45 0 1 0 -4.9 0M483.9 890.2a2.45 2.45 0 1 0 4.9 0a2.45 2.45 0 1 0 -4.9 0M484.1 881.5a2.45 2.45 0 1 0 4.9 0a2.45 2.45 0 1 0 -4.9 0M485.2 888.0a2.45 2.45 0 1 0 4.9 0a2.45 2.45 0 1 0 -4.9 0M486.4 884.1a2.45 2.45 0 1 0 4.9 0a2.45 2.45 0 1 0 -4.9 0M487.7 888.0a2.45 2.45 0 1 0 4.9 0a2.45 2.45 0 1 0 -4.9 0M488.4 884.5a2.45 2.45 0 1 0 4.9 0a2.45 2.45 0 1 0 -4.9 0M489.4 884.4a2.45 2.45 0 1 0 4.9 0a2.45 2.45 0 1 0 -4.9 0M490.3 885.3a2.45 2.45 0 1 0 4.9 0a2.45 2.45 0 1 0 -4.9 0M491.4 884.9a2.45 2.45 0 1 0 4.9 0a2.45 2.45 0 1 0 -4.9 0M492.4 885.7a2.45 2.45 0 1 0 4.9 0a2.45 2.45 0 1 0 -4.9 0M493.9 882.5a2.45 2.45 0 1 0 4.9 0a2.45 2.45 0 1 0 -4.9 0M494.5 887.4a2.45 2.45 0 1 0 4.9 0a2.45 2.45 0 1 0 -4.9 0M495.2 888.4a2.45 2.45 0 1 0 4.9 0a2.45 2.45 0 1 0 -4.9 0M497.0 892.3a2.45 2.45 0 1 0 4.9 0a2.45 2.45 0 1 0 -4.9 0M497.5 887.8a2.45 2.45 0 1 0 4.9 0a2.45 2.45 0 1 0 -4.9 0M498.4 887.9a2.45 2.45 0 1 0 4.9 0a2.45 2.45 0 1 0 -4.9 0M499.4 882.6a2.45 2.45 0 1 0 4.9 0a2.45 2.45 0 1 0 -4.9 0M500.7 883.5a2.45 2.45 0 1 0 4.9 0a2.45 2.45 0 1 0 -4.9 0M501.4 887.6a2.45 2.45 0 1 0 4.9 0a2.45 2.45 0 1 0 -4.9 0M502.1 887.6a2.45 2.45 0 1 0 4.9 0a2.45 2.45 0 1 0 -4.9 0M504.0 886.3a2.45 2.45 0 1 0 4.9 0a2.45 2.45 0 1 0 -4.9 0M504.5 887.6a2.45 2.45 0 1 0 4.9 0a2.45 2.45 0 1 0 -4.9 0M505.1 886.2a2.45 2.45 0 1 0 4.9 0a2.45 2.45 0 1 0 -4.9 0M506.6 890.2a2.45 2.45 0 1 0 4.9 0a2.45 2.45 0 1 0 -4.9 0M507.8 886.4a2.45 2.45 0 1 0 4.9 0a2.45 2.45 0 1 0 -4.9 0M509.0 887.8a2.45 2.45 0 1 0 4.9 0a2.45 2.45 0 1 0 -4.9 0M509.9 887.8a2.45 2.45 0 1 0 4.9 0a2.45 2.45 0 1 0 -4.9 0M510.7 885.7a2.45 2.45 0 1 0 4.9 0a2.45 2.45 0 1 0 -4.9 0M511.1 885.6a2.45 2.45 0 1 0 4.9 0a2.45 2.45 0 1 0 -4.9 0M512.3 882.3a2.45 2.45 0 1 0 4.9 0a2.45 2.45 0 1 0 -4.9 0M513.4 879.5a2.45 2.45 0 1 0 4.9 0a2.45 2.45 0 1 0 -4.9 0M514.7 889.3a2.45 2.45 0 1 0 4.9 0a2.45 2.45 0 1 0 -4.9 0M515.5 886.3a2.45 2.45 0 1 0 4.9 0a2.45 2.45 0 1 0 -4.9 0M516.8 883.2a2.45 2.45 0 1 0 4.9 0a2.45 2.45 0 1 0 -4.9 0M517.8 887.0a2.45 2.45 0 1 0 4.9 0a2.45 2.45 0 1 0 -4.9 0M518.8 891.0a2.45 2.45 0 1 0 4.9 0a2.45 2.45 0 1 0 -4.9 0M519.5 888.6a2.45 2.45 0 1 0 4.9 0a2.45 2.45 0 1 0 -4.9 0M520.4 891.0a2.45 2.45 0 1 0 4.9 0a2.45 2.45 0 1 0 -4.9 0M521.9 887.5a2.45 2.45 0 1 0 4.9 0a2.45 2.45 0 1 0 -4.9 0M522.5 886.3a2.45 2.45 0 1 0 4.9 0a2.45 2.45 0 1 0 -4.9 0M523.1 884.8a2.45 2.45 0 1 0 4.9 0a2.45 2.45 0 1 0 -4.9 0M524.6 886.6a2.45 2.45 0 1 0 4.9 0a2.45 2.45 0 1 0 -4.9 0M525.7 888.0a2.45 2.45 0 1 0 4.9 0a2.45 2.45 0 1 0 -4.9 0M526.5 885.1a2.45 2.45 0 1 0 4.9 0a2.45 2.45 0 1 0 -4.9 0M527.5 885.1a2.45 2.45 0 1 0 4.9 0a2.45 2.45 0 1 0 -4.9 0M528.1 886.7a2.45 2.45 0 1 0 4.9 0a2.45 2.45 0 1 0 -4.9 0M529.7 884.7a2.45 2.45 0 1 0 4.9 0a2.45 2.45 0 1 0 -4.9 0M530.6 888.0a2.45 2.45 0 1 0 4.9 0a2.45 2.45 0 1 0 -4.9 0M532.0 886.0a2.45 2.45 0 1 0 4.9 0a2.45 2.45 0 1 0 -4.9 0M533.0 887.3a2.45 2.45 0 1 0 4.9 0a2.45 2.45 0 1 0 -4.9 0M533.4 887.8a2.45 2.45 0 1 0 4.9 0a2.45 2.45 0 1 0 -4.9 0M534.8 886.0a2.45 2.45 0 1 0 4.9 0a2.45 2.45 0 1 0 -4.9 0M535.9 885.2a2.45 2.45 0 1 0 4.9 0a2.45 2.45 0 1 0 -4.9 0M536.4 889.2a2.45 2.45 0 1 0 4.9 0a2.45 2.45 0 1 0 -4.9 0M537.9 888.6a2.45 2.45 0 1 0 4.9 0a2.45 2.45 0 1 0 -4.9 0M538.1 886.6a2.45 2.45 0 1 0 4.9 0a2.45 2.45 0 1 0 -4.9 0M539.6 885.9a2.45 2.45 0 1 0 4.9 0a2.45 2.45 0 1 0 -4.9 0M540.4 882.6a2.45 2.45 0 1 0 4.9 0a2.45 2.45 0 1 0 -4.9 0M541.6 891.7a2.45 2.45 0 1 0 4.9 0a2.45 2.45 0 1 0 -4.9 0M542.1 885.4a2.45 2.45 0 1 0 4.9 0a2.45 2.45 0 1 0 -4.9 0M543.4 888.3a2.45 2.45 0 1 0 4.9 0a2.45 2.45 0 1 0 -4.9 0M545.0 889.0a2.45 2.45 0 1 0 4.9 0a2.45 2.45 0 1 0 -4.9 0M546.0 888.1a2.45 2.45 0 1 0 4.9 0a2.45 2.45 0 1 0 -4.9 0M546.4 888.5a2.45 2.45 0 1 0 4.9 0a2.45 2.45 0 1 0 -4.9 0M547.3 887.3a2.45 2.45 0 1 0 4.9 0a2.45 2.45 0 1 0 -4.9 0M548.3 889.3a2.45 2.45 0 1 0 4.9 0a2.45 2.45 0 1 0 -4.9 0M549.9 883.6a2.45 2.45 0 1 0 4.9 0a2.45 2.45 0 1 0 -4.9 0M550.4 887.8a2.45 2.45 0 1 0 4.9 0a2.45 2.45 0 1 0 -4.9 0M552.0 887.3a2.45 2.45 0 1 0 4.9 0a2.45 2.45 0 1 0 -4.9 0M552.4 881.1a2.45 2.45 0 1 0 4.9 0a2.45 2.45 0 1 0 -4.9 0M553.5 888.7a2.45 2.45 0 1 0 4.9 0a2.45 2.45 0 1 0 -4.9 0M554.2 887.0a2.45 2.45 0 1 0 4.9 0a2.45 2.45 0 1 0 -4.9 0M555.9 893.4a2.45 2.45 0 1 0 4.9 0a2.45 2.45 0 1 0 -4.9 0M556.3 881.9a2.45 2.45 0 1 0 4.9 0a2.45 2.45 0 1 0 -4.9 0M557.5 884.4a2.45 2.45 0 1 0 4.9 0a2.45 2.45 0 1 0 -4.9 0M558.8 886.0a2.45 2.45 0 1 0 4.9 0a2.45 2.45 0 1 0 -4.9 0M559.8 896.0a2.45 2.45 0 1 0 4.9 0a2.45 2.45 0 1 0 -4.9 0M560.8 880.6a2.45 2.45 0 1 0 4.9 0a2.45 2.45 0 1 0 -4.9 0M561.1 884.4a2.45 2.45 0 1 0 4.9 0a2.45 2.45 0 1 0 -4.9 0M562.5 887.6a2.45 2.45 0 1 0 4.9 0a2.45 2.45 0 1 0 -4.9 0M564.0 887.5a2.45 2.45 0 1 0 4.9 0a2.45 2.45 0 1 0 -4.9 0M564.7 886.8a2.45 2.45 0 1 0 4.9 0a2.45 2.45 0 1 0 -4.9 0M565.8 887.9a2.45 2.45 0 1 0 4.9 0a2.45 2.45 0 1 0 -4.9 0M566.3 886.7a2.45 2.45 0 1 0 4.9 0a2.45 2.45 0 1 0 -4.9 0M567.7 885.4a2.45 2.45 0 1 0 4.9 0a2.45 2.45 0 1 0 -4.9 0M568.2 887.5a2.45 2.45 0 1 0 4.9 0a2.45 2.45 0 1 0 -4.9 0M569.9 890.5a2.45 2.45 0 1 0 4.9 0a2.45 2.45 0 1 0 -4.9 0M570.9 887.8a2.45 2.45 0 1 0 4.9 0a2.45 2.45 0 1 0 -4.9 0M571.8 888.6a2.45 2.45 0 1 0 4.9 0a2.45 2.45 0 1 0 -4.9 0M572.3 885.2a2.45 2.45 0 1 0 4.9 0a2.45 2.45 0 1 0 -4.9 0M573.8 891.0a2.45 2.45 0 1 0 4.9 0a2.45 2.45 0 1 0 -4.9 0M575.0 891.2a2.45 2.45 0 1 0 4.9 0a2.45 2.45 0 1 0 -4.9 0M575.7 885.6a2.45 2.45 0 1 0 4.9 0a2.45 2.45 0 1 0 -4.9 0M576.7 884.1a2.45 2.45 0 1 0 4.9 0a2.45 2.45 0 1 0 -4.9 0M577.8 887.6a2.45 2.45 0 1 0 4.9 0a2.45 2.45 0 1 0 -4.9 0M578.2 888.8a2.45 2.45 0 1 0 4.9 0a2.45 2.45 0 1 0 -4.9 0M579.9 888.6a2.45 2.45 0 1 0 4.9 0a2.45 2.45 0 1 0 -4.9 0M580.6 885.1a2.45 2.45 0 1 0 4.9 0a2.45 2.45 0 1 0 -4.9 0M581.8 885.5a2.45 2.45 0 1 0 4.9 0a2.45 2.45 0 1 0 -4.9 0M582.5 883.9a2.45 2.45 0 1 0 4.9 0a2.45 2.45 0 1 0 -4.9 0M583.7 883.6a2.45 2.45 0 1 0 4.9 0a2.45 2.45 0 1 0 -4.9 0M584.3 888.1a2.45 2.45 0 1 0 4.9 0a2.45 2.45 0 1 0 -4.9 0M585.8 880.1a2.45 2.45 0 1 0 4.9 0a2.45 2.45 0 1 0 -4.9 0M587.0 884.9a2.45 2.45 0 1 0 4.9 0a2.45 2.45 0 1 0 -4.9 0M588.0 885.6a2.45 2.45 0 1 0 4.9 0a2.45 2.45 0 1 0 -4.9 0M588.6 885.5a2.45 2.45 0 1 0 4.9 0a2.45 2.45 0 1 0 -4.9 0M589.9 886.0a2.45 2.45 0 1 0 4.9 0a2.45 2.45 0 1 0 -4.9 0M590.4 884.7a2.45 2.45 0 1 0 4.9 0a2.45 2.45 0 1 0 -4.9 0M591.8 889.4a2.45 2.45 0 1 0 4.9 0a2.45 2.45 0 1 0 -4.9 0M592.6 888.2a2.45 2.45 0 1 0 4.9 0a2.45 2.45 0 1 0 -4.9 0M593.5 881.3a2.45 2.45 0 1 0 4.9 0a2.45 2.45 0 1 0 -4.9 0M594.2 882.3a2.45 2.45 0 1 0 4.9 0a2.45 2.45 0 1 0 -4.9 0M595.2 884.9a2.45 2.45 0 1 0 4.9 0a2.45 2.45 0 1 0 -4.9 0M91.6 867.0a2.45 2.45 0 1 0 4.9 0a2.45 2.45 0 1 0 -4.9 0M119.3 862.0a2.45 2.45 0 1 0 4.9 0a2.45 2.45 0 1 0 -4.9 0M118.8 865.3a2.45 2.45 0 1 0 4.9 0a2.45 2.45 0 1 0 -4.9 0M151.6 848.5a2.45 2.45 0 1 0 4.9 0a2.45 2.45 0 1 0 -4.9 0M195.6 871.5a2.45 2.45 0 1 0 4.9 0a2.45 2.45 0 1 0 -4.9 0M195.4 876.0a2.45 2.45 0 1 0 4.9 0a2.45 2.45 0 1 0 -4.9 0M209.5 869.6a2.45 2.45 0 1 0 4.9 0a2.45 2.45 0 1 0 -4.9 0M208.8 873.4a2.45 2.45 0 1 0 4.9 0a2.45 2.45 0 1 0 -4.9 0M208.8 877.2a2.45 2.45 0 1 0 4.9 0a2.45 2.45 0 1 0 -4.9 0M209.5 881.0a2.45 2.45 0 1 0 4.9 0a2.45 2.45 0 1 0 -4.9 0M241.9 853.0a2.45 2.45 0 1 0 4.9 0a2.45 2.45 0 1 0 -4.9 0M350.4 865.4a2.45 2.45 0 1 0 4.9 0a2.45 2.45 0 1 0 -4.9 0M350.3 872.5a2.45 2.45 0 1 0 4.9 0a2.45 2.45 0 1 0 -4.9 0M350.6 879.6a2.45 2.45 0 1 0 4.9 0a2.45 2.45 0 1 0 -4.9 0M392.9 877.0a2.45 2.45 0 1 0 4.9 0a2.45 2.45 0 1 0 -4.9 0M440.7 860.7a2.45 2.45 0 1 0 4.9 0a2.45 2.45 0 1 0 -4.9 0M467.6 869.0a2.45 2.45 0 1 0 4.9 0a2.45 2.45 0 1 0 -4.9 0M467.4 872.5a2.45 2.45 0 1 0 4.9 0a2.45 2.45 0 1 0 -4.9 0M467.4 876.0a2.45 2.45 0 1 0 4.9 0a2.45 2.45 0 1 0 -4.9 0M496.4 863.0a2.45 2.45 0 1 0 4.9 0a2.45 2.45 0 1 0 -4.9 0M495.5 866.3a2.45 2.45 0 1 0 4.9 0a2.45 2.45 0 1 0 -4.9 0M511.7 867.7a2.45 2.45 0 1 0 4.9 0a2.45 2.45 0 1 0 -4.9 0M533.9 860.7a2.45 2.45 0 1 0 4.9 0a2.45 2.45 0 1 0 -4.9 0M567.8 848.9a2.45 2.45 0 1 0 4.9 0a2.45 2.45 0 1 0 -4.9 0M568.1 852.3a2.45 2.45 0 1 0 4.9 0a2.45 2.45 0 1 0 -4.9 0M567.6 872.8a2.45 2.45 0 1 0 4.9 0a2.45 2.45 0 1 0 -4.9 0" fill="none" stroke="#0000ff" stroke-width="1.05" shape-rendering="auto"/>
<path d="M52.3 887.0a2.45 2.45 0 1 0 4.9 0a2.45 2.45 0 1 0 -4.9 0M52.7 891.9a2.45 2.45 0 1 0 4.9 0a2.45 2.45 0 1 0 -4.9 0M53.7 887.8a2.45 2.45 0 1 0 4.9 0a2.45 2.45 0 1 0 -4.9 0M54.0 887.9a2.45 2.45 0 1 0 4.9 0a2.45 2.45 0 1 0 -4.9 0M54.7 890.5a2.45 2.45 0 1 0 4.9 0a2.45 2.45 0 1 0 -4.9 0M54.4 888.5a2.45 2.45 0 1 0 4.9 0a2.45 2.45 0 1 0 -4.9 0M55.7 889.1a2.45 2.45 0 1 0 4.9 0a2.45 2.45 0 1 0 -4.9 0M55.9 887.5a2.45 2.45 0 1 0 4.9 0a2.45 2.45 0 1 0 -4.9 0M56.2 888.4a2.45 2.45 0 1 0 4.9 0a2.45 2.45 0 1 0 -4.9 0M56.1 890.5a2.45 2.45 0 1 0 4.9 0a2.45 2.45 0 1 0 -4.9 0M57.9 889.2a2.45 2.45 0 1 0 4.9 0a2.45 2.45 0 1 0 -4.9 0M57.4 888.4a2.45 2.45 0 1 0 4.9 0a2.45 2.45 0 1 0 -4.9 0M58.6 889.4a2.45 2.45 0 1 0 4.9 0a2.45 2.45 0 1 0 -4.9 0M58.4 888.4a2.45 2.45 0 1 0 4.9 0a2.45 2.45 0 1 0 -4.9 0M59.1 891.1a2.45 2.45 0 1 0 4.9 0a2.45 2.45 0 1 0 -4.9 0M59.6 887.3a2.45 2.45 0 1 0 4.9 0a2.45 2.45 0 1 0 -4.9 0M60.4 889.9a2.45 2.45 0 1 0 4.9 0a2.45 2.45 0 1 0 -4.9 0M60.1 889.0a2.45 2.45 0 1 0 4.9 0a2.45 2.45 0 1 0 -4.9 0M61.7 887.5a2.45 2.45 0 1 0 4.9 0a2.45 2.45 0 1 0 -4.9 0M61.4 889.7a2.45 2.45 0 1 0 4.9 0a2.45 2.45 0 1 0 -4.9 0M62.1 887.9a2.45 2.45 0 1 0 4.9 0a2.45 2.45 0 1 0 -4.9 0M62.5 887.2a2.45 2.45 0 1 0 4.9 0a2.45 2.45 0 1 0 -4.9 0M63.9 891.2a2.45 2.45 0 1 0 4.9 0a2.45 2.45 0 1 0 -4.9 0M63.5 889.4a2.45 2.45 0 1 0 4.9 0a2.45 2.45 0 1 0 -4.9 0M64.2 887.6a2.45 2.45 0 1 0 4.9 0a2.45 2.45 0 1 0 -4.9 0M64.5 888.9a2.45 2.45 0 1 0 4.9 0a2.45 2.45 0 1 0 -4.9 0M65.7 889.0a2.45 2.45 0 1 0 4.9 0a2.45 2.45 0 1 0 -4.9 0M65.5 887.4a2.45 2.45 0 1 0 4.9 0a2.45 2.45 0 1 0 -4.9 0M67.0 892.5a2.45 2.45 0 1 0 4.9 0a2.45 2.45 0 1 0 -4.9 0M66.5 890.8a2.45 2.45 0 1 0 4.9 0a2.45 2.45 0 1 0 -4.9 0M67.4 890.0a2.45 2.45 0 1 0 4.9 0a2.45 2.45 0 1 0 -4.9 0M67.8 889.8a2.45 2.45 0 1 0 4.9 0a2.45 2.45 0 1 0 -4.9 0M68.8 891.4a2.45 2.45 0 1 0 4.9 0a2.45 2.45 0 1 0 -4.9 0M69.0 890.0a2.45 2.45 0 1 0 4.9 0a2.45 2.45 0 1 0 -4.9 0M70.0 891.0a2.45 2.45 0 1 0 4.9 0a2.45 2.45 0 1 0 -4.9 0M69.6 887.2a2.45 2.45 0 1 0 4.9 0a2.45 2.45 0 1 0 -4.9 0M70.8 887.4a2.45 2.45 0 1 0 4.9 0a2.45 2.45 0 1 0 -4.9 0M70.3 890.3a2.45 2.45 0 1 0 4.9 0a2.45 2.45 0 1 0 -4.9 0M71.6 889.5a2.45 2.45 0 1 0 4.9 0a2.45 2.45 0 1 0 -4.9 0M72.0 890.2a2.45 2.45 0 1 0 4.9 0a2.45 2.45 0 1 0 -4.9 0M72.6 888.0a2.45 2.45 0 1 0 4.9 0a2.45 2.45 0 1 0 -4.9 0M73.0 889.1a2.45 2.45 0 1 0 4.9 0a2.45 2.45 0 1 0 -4.9 0M73.5 891.7a2.45 2.45 0 1 0 4.9 0a2.45 2.45 0 1 0 -4.9 0M73.2 887.7a2.45 2.45 0 1 0 4.9 0a2.45 2.45 0 1 0 -4.9 0M74.8 889.6a2.45 2.45 0 1 0 4.9 0a2.45 2.45 0 1 0 -4.9 0M74.3 890.4a2.45 2.45 0 1 0 4.9 0a2.45 2.45 0 1 0 -4.9 0M75.8 892.0a2.45 2.45 0 1 0 4.9 0a2.45 2.45 0 1 0 -4.9 0M75.8 886.1a2.45 2.45 0 1 0 4.9 0a2.45 2.45 0 1 0 -4.9 0M76.9 889.2a2.45 2.45 0 1 0 4.9 0a2.45 2.45 0 1 0 -4.9 0M76.7 888.8a2.45 2.45 0 1 0 4.9 0a2.45 2.45 0 1 0 -4.9 0M77.4 887.5a2.45 2.45 0 1 0 4.9 0a2.45 2.45 0 1 0 -4.9 0M77.3 889.2a2.45 2.45 0 1 0 4.9 0a2.45 2.45 0 1 0 -4.9 0M78.2 890.0a2.45 2.45 0 1 0 4.9 0a2.45 2.45 0 1 0 -4.9 0M78.5 891.2a2.45 2.45 0 1 0 4.9 0a2.45 2.45 0 1 0 -4.9 0M79.5 888.4a2.45 2.45 0 1 0 4.9 0a2.45 2.45 0 1 0 -4.9 0M79.1 888.3a2.45 2.45 0 1 0 4.9 0a2.45 2.45 0 1 0 -4.9 0M80.3 890.5a2.45 2.45 0 1 0 4.9 0a2.45 2.45 0 1 0 -4.9 0M80.4 889.3a2.45 2.45 0 1 0 4.9 0a2.45 2.45 0 1 0 -4.9 0M81.4 888.7a2.45 2.45 0 1 0 4.9 0a2.45 2.45 0 1 0 -4.9 0M81.3 891.7a2.45 2.45 0 1 0 4.9 0a2.45 2.45 0 1 0 -4.9 0M82.4 892.9a2.45 2.45 0 1 0 4.9 0a2.45 2.45 0 1 0 -4.9 0M82.2 891.5a2.45 2.45 0 1 0 4.9 0a2.45 2.45 0 1 0 -4.9 0M83.4 889.4a2.45 2.45 0 1 0 4.9 0a2.45 2.45 0 1 0 -4.9 0M83.3 888.8a2.45 2.45 0 1 0 4.9 0a2.45 2.45 0 1 0 -4.9 0M84.4 888.9a2.45 2.45 0 1 0 4.9 0a2.45 2.45 0 1 0 -4.9 0M84.9 891.2a2.45 2.45 0 1 0 4.9 0a2.45 2.45 0 1 0 -4.9 0M85.2 890.5a2.45 2.45 0 1 0 4.9 0a2.45 2.45 0 1 0 -4.9 0M85.9 888.1a2.45 2.45 0 1 0 4.9 0a2.45 2.45 0 1 0 -4.9 0M86.7 885.7a2.45 2.45 0 1 0 4.9 0a2.45 2.45 0 1 0 -4.9 0M86.3 887.3a2.45 2.45 0 1 0 4.9 0a2.45 2.45 0 1 0 -4.9 0M87.5 888.6a2.45 2.45 0 1 0 4.9 0a2.45 2.45 0 1 0 -4.9 0M87.8 889.6a2.45 2.45 0 1 0 4.9 0a2.45 2.45 0 1 0 -4.9 0M88.2 889.6a2.45 2.45 0 1 0 4.9 0a2.45 2.45 0 1 0 -4.9 0M88.4 888.2a2.45 2.45 0 1 0 4.9 0a2.45 2.45 0 1 0 -4.9 0M89.8 889.9a2.45 2.45 0 1 0 4.9 0a2.45 2.45 0 1 0 -4.9 0M89.6 889.7a2.45 2.45 0 1 0 4.9 0a2.45 2.45 0 1 0 -4.9 0M90.1 888.2a2.45 2.45 0 1 0 4.9 0a2.45 2.45 0 1 0 -4.9 0M90.9 892.6a2.45 2.45 0 1 0 4.9 0a2.45 2.45 0 1 0 -4.9 0M91.4 886.8a2.45 2.45 0 1 0 4.9 0a2.45 2.45 0 1 0 -4.9 0M92.0 887.7a2.45 2.45 0 1 0 4.9 0a2.45 2.45 0 1 0 -4.9 0M92.6 889.1a2.45 2.45 0 1 0 4.9 0a2.45 2.45 0 1 0 -4.9 0M92.6 888.8a2.45 2.45 0 1 0 4.9 0a2.45 2.45 0 1 0 -4.9 0M93.3 889.2a2.45 2.45 0 1 0 4.9 0a2.45 2.45 0 1 0 -4.9 0M93.9 890.6a2.45 2.45 0 1 0 4.9 0a2.45 2.45 0 1 0 -4.9 0M94.9 885.9a2.45 2.45 0 1 0 4.9 0a2.45 2.45 0 1 0 -4.9 0M94.9 889.8a2.45 2.45 0 1 0 4.9 0a2.45 2.45 0 1 0 -4.9 0M95.3 886.6a2.45 2.45 0 1 0 4.9 0a2.45 2.45 0 1 0 -4.9 0M96.0 887.3a2.45 2.45 0 1 0 4.9 0a2.45 2.45 0 1 0 -4.9 0M96.4 889.5a2.45 2.45 0 1 0 4.9 0a2.45 2.45 0 1 0 -4.9 0M96.6 888.6a2.45 2.45 0 1 0 4.9 0a2.45 2.45 0 1 0 -4.9 0M97.7 889.9a2.45 2.45 0 1 0 4.9 0a2.45 2.45 0 1 0 -4.9 0M97.7 887.9a2.45 2.45 0 1 0 4.9 0a2.45 2.45 0 1 0 -4.9 0M98.8 890.0a2.45 2.45 0 1 0 4.9 0a2.45 2.45 0 1 0 -4.9 0M99.0 891.7a2.45 2.45 0 1 0 4.9 0a2.45 2.45 0 1 0 -4.9 0M99.5 887.8a2.45 2.45 0 1 0 4.9 0a2.45 2.45 0 1 0 -4.9 0M99.5 892.4a2.45 2.45 0 1 0 4.9 0a2.45 2.45 0 1 0 -4.9 0M100.3 890.2a2.45 2.45 0 1 0 4.9 0a2.45 2.45 0 1 0 -4.9 0M100.1 891.2a2.45 2.45 0 1 0 4.9 0a2.45 2.45 0 1 0 -4.9 0M101.7 888.9a2.45 2.45 0 1 0 4.9 0a2.45 2.45 0 1 0 -4.9 0M101.1 894.0a2.45 2.45 0 1 0 4.9 0a2.45 2.45 0 1 0 -4.9 0M103.0 890.1a2.45 2.45 0 1 0 4.9 0a2.45 2.45 0 1 0 -4.9 0M102.8 889.9a2.45 2.45 0 1 0 4.9 0a2.45 2.45 0 1 0 -4.9 0M103.4 888.8a2.45 2.45 0 1 0 4.9 0a2.45 2.45 0 1 0 -4.9 0M103.4 890.5a2.45 2.45 0 1 0 4.9 0a2.45 2.45 0 1 0 -4.9 0M104.1 891.2a2.45 2.45 0 1 0 4.9 0a2.45 2.45 0 1 0 -4.9 0M104.6 888.0a2.45 2.45 0 1 0 4.9 0a2.45 2.45 0 1 0 -4.9 0M106.0 888.3a2.45 2.45 0 1 0 4.9 0a2.45 2.45 0 1 0 -4.9 0M105.2 887.8a2.45 2.45 0 1 0 4.9 0a2.45 2.45 0 1 0 -4.9 0M106.6 890.1a2.45 2.45 0 1 0 4.9 0a2.45 2.45 0 1 0 -4.9 0M106.3 887.5a2.45 2.45 0 1 0 4.9 0a2.45 2.45 0 1 0 -4.9 0M107.7 889.7a2.45 2.45 0 1 0 4.9 0a2.45 2.45 0 1 0 -4.9 0M107.8 890.6a2.45 2.45 0 1 0 4.9 0a2.45 2.45 0 1 0 -4.9 0M108.4 891.7a2.45 2.45 0 1 0 4.9 0a2.45 2.45 0 1 0 -4.9 0M109.0 890.3a2.45 2.45 0 1 0 4.9 0a2.45 2.45 0 1 0 -4.9 0M109.6 889.0a2.45 2.45 0 1 0 4.9 0a2.45 2.45 0 1 0 -4.9 0M109.8 885.7a2.45 2.45 0 1 0 4.9 0a2.45 2.45 0 1 0 -4.9 0M110.7 890.5a2.45 2.45 0 1 0 4.9 0a2.45 2.45 0 1 0 -4.9 0M110.7 888.6a2.45 2.45 0 1 0 4.9 0a2.45 2.45 0 1 0 -4.9 0M111.7 891.1a2.45 2.45 0 1 0 4.9 0a2.45 2.45 0 1 0 -4.9 0M111.4 887.4a2.45 2.45 0 1 0 4.9 0a2.45 2.45 0 1 0 -4.9 0M112.9 891.5a2.45 2.45 0 1 0 4.9 0a2.45 2.45 0 1 0 -4.9 0M112.9 891.3a2.45 2.45 0 1 0 4.9 0a2.45 2.45 0 1 0 -4.9 0M113.3 887.0a2.45 2.45 0 1 0 4.9 0a2.45 2.45 0 1 0 -4.9 0M113.4 886.6a2.45 2.45 0 1 0 4.9 0a2.45 2.45 0 1 0 -4.9 0M114.3 885.7a2.45 2.45 0 1 0 4.9 0a2.45 2.45 0 1 0 -4.9 0M114.2 890.7a2.45 2.45 0 1 0 4.9 0a2.45 2.45 0 1 0 -4.9 0M115.3 889.3a2.45 2.45 0 1 0 4.9 0a2.45 2.45 0 1 0 -4.9 0M115.3 888.7a2.45 2.45 0 1 0 4.9 0a2.45 2.45 0 1 0 -4.9 0M116.7 887.3a2.45 2.45 0 1 0 4.9 0a2.45 2.45 0 1 0 -4.9 0M116.4 887.8a2.45 2.45 0 1 0 4.9 0a2.45 2.45 0 1 0 -4.9 0M117.3 887.8a2.45 2.45 0 1 0 4.9 0a2.45 2.45 0 1 0 -4.9 0M117.2 891.1a2.45 2.45 0 1 0 4.9 0a2.45 2.45 0 1 0 -4.9 0M118.5 889.1a2.45 2.45 0 1 0 4.9 0a2.45 2.45 0 1 0 -4.9 0M118.8 888.6a2.45 2.45 0 1 0 4.9 0a2.45 2.45 0 1 0 -4.9 0M119.7 890.6a2.45 2.45 0 1 0 4.9 0a2.45 2.45 0 1 0 -4.9 0M119.4 890.2a2.45 2.45 0 1 0 4.9 0a2.45 2.45 0 1 0 -4.9 0M120.3 891.7a2.45 2.45 0 1 0 4.9 0a2.45 2.45 0 1 0 -4.9 0M120.2 888.7a2.45 2.45 0 1 0 4.9 0a2.45 2.45 0 1 0 -4.9 0M122.0 888.8a2.45 2.45 0 1 0 4.9 0a2.45 2.45 0 1 0 -4.9 0M121.6 889.1a2.45 2.45 0 1 0 4.9 0a2.45 2.45 0 1 0 -4.9 0M123.0 889.6a2.45 2.45 0 1 0 4.9 0a2.45 2.45 0 1 0 -4.9 0M122.4 889.6a2.45 2.45 0 1 0 4.9 0a2.45 2.45 0 1 0 -4.9 0M123.5 890.2a2.45 2.45 0 1 0 4.9 0a2.45 2.45 0 1 0 -4.9 0M123.8 886.6a2.45 2.45 0 1 0 4.9 0a2.45 2.45 0 1 0 -4.9 0M124.9 890.9a2.45 2.45 0 1 0 4.9 0a2.45 2.45 0 1 0 -4.9 0M125.0 891.4a2.45 2.45 0 1 0 4.9 0a2.45 2.45 0 1 0 -4.9 0M125.4 888.6a2.45 2.45 0 1 0 4.9 0a2.45 2.45 0 1 0 -4.9 0M125.4 888.7a2.45 2.45 0 1 0 4.9 0a2.45 2.45 0 1 0 -4.9 0M126.7 890.2a2.45 2.45 0 1 0 4.9 0a2.45 2.45 0 1 0 -4.9 0M126.4 891.9a2.45 2.45 0 1 0 4.9 0a2.45 2.45 0 1 0 -4.9 0M127.3 888.9a2.45 2.45 0 1 0 4.9 0a2.45 2.45 0 1 0 -4.9 0M127.3 888.6a2.45 2.45 0 1 0 4.9 0a2.45 2.45 0 1 0 -4.9 0M128.9 887.6a2.45 2.45 0 1 0 4.9 0a2.45 2.45 0 1 0 -4.9 0M128.7 889.3a2.45 2.45 0 1 0 4.9 0a2.45 2.45 0 1 0 -4.9 0M129.3 890.8a2.45 2.45 0 1 0 4.9 0a2.45 2.45 0 1 0 -4.9 0M129.9 891.9a2.45 2.45 0 1 0 4.9 0a2.45 2.45 0 1 0 -4.9 0M130.5 888.3a2.45 2.45 0 1 0 4.9 0a2.45 2.45 0 1 0 -4.9 0M130.2 886.0a2.45 2.45 0 1 0 4.9 0a2.45 2.45 0 1 0 -4.9 0M131.1 890.9a2.45 2.45 0 1 0 4.9 0a2.45 2.45 0 1 0 -4.9 0M132.0 889.3a2.45 2.45 0 1 0 4.9 0a2.45 2.45 0 1 0 -4.9 0M132.3 888.7a2.45 2.45 0 1 0 4.9 0a2.45 2.45 0 1 0 -4.9 0M132.8 887.9a2.45 2.45 0 1 0 4.9 0a2.45 2.45 0 1 0 -4.9 0M133.1 885.9a2.45 2.45 0 1 0 4.9 0a2.45 2.45 0 1 0 -4.9 0M133.8 889.5a2.45 2.45 0 1 0 4.9 0a2.45 2.45 0 1 0 -4.9 0M135.0 891.2a2.45 2.45 0 1 0 4.9 0a2.45 2.45 0 1 0 -4.9 0M134.2 884.7a2.45 2.45 0 1 0 4.9 0a2.45 2.45 0 1 0 -4.9 0M135.8 889.2a2.45 2.45 0 1 0 4.9 0a2.45 2.45 0 1 0 -4.9 0M136.0 888.0a2.45 2.45 0 1 0 4.9 0a2.45 2.45 0 1 0 -4.9 0M136.9 892.8a2.45 2.45 0 1 0 4.9 0a2.45 2.45 0 1 0 -4.9 0M136.5 892.0a2.45 2.45 0 1 0 4.9 0a2.45 2.45 0 1 0 -4.9 0M137.8 890.8a2.45 2.45 0 1 0 4.9 0a2.45 2.45 0 1 0 -4.9 0M137.9 890.1a2.45 2.45 0 1 0 4.9 0a2.45 2.45 0 1 0 -4.9 0M138.5 890.5a2.45 2.45 0 1 0 4.9 0a2.45 2.45 0 1 0 -4.9 0M138.5 892.9a2.45 2.45 0 1 0 4.9 0a2.45 2.45 0 1 0 -4.9 0M139.7 891.3a2.45 2.45 0 1 0 4.9 0a2.45 2.45 0 1 0 -4.9 0M139.6 891.6a2.45 2.45 0 1 0 4.9 0a2.45 2.45 0 1 0 -4.9 0M140.2 887.2a2.45 2.45 0 1 0 4.9 0a2.45 2.45 0 1 0 -4.9 0M140.1 889.5a2.45 2.45 0 1 0 4.9 0a2.45 2.45 0 1 0 -4.9 0M141.5 887.0a2.45 2.45 0 1 0 4.9 0a2.45 2.45 0 1 0 -4.9 0M141.4 890.5a2.45 2.45 0 1 0 4.9 0a2.45 2.45 0 1 0 -4.9 0M142.1 890.6a2.45 2.45 0 1 0 4.9 0a2.45 2.45 0 1 0 -4.9 0M142.5 887.1a2.45 2.45 0 1 0 4.9 0a2.45 2.45 0 1 0 -4.9 0M143.4 891.6a2.45 2.45 0 1 0 4.9 0a2.45 2.45 0 1 0 -4.9 0M143.4 888.6a2.45 2.45 0 1 0 4.9 0a2.45 2.45 0 1 0 -4.9 0M144.1 891.0a2.45 2.45 0 1 0 4.9 0a2.45 2.45 0 1 0 -4.9 0M144.9 889.0a2.45 2.45 0 1 0 4.9 0a2.45 2.45 0 1 0 -4.9 0M145.4 889.0a2.45 2.45 0 1 0 4.9 0a2.45 2.45 0 1 0 -4.9 0M145.4 892.2a2.45 2.45 0 1 0 4.9 0a2.45 2.45 0 1 0 -4.9 0M147.0 890.6a2.45 2.45 0 1 0 4.9 0a2.45 2.45 0 1 0 -4.9 0M146.9 889.9a2.45 2.45 0 1 0 4.9 0a2.45 2.45 0 1 0 -4.9 0M147.7 888.8a2.45 2.45 0 1 0 4.9 0a2.45 2.45 0 1 0 -4.9 0M147.1 889.8a2.45 2.45 0 1 0 4.9 0a2.45 2.45 0 1 0 -4.9 0M149.0 891.4a2.45 2.45 0 1 0 4.9 0a2.45 2.45 0 1 0 -4.9 0M148.2 889.8a2.45 2.45 0 1 0 4.9 0a2.45 2.45 0 1 0 -4.9 0M150.0 889.9a2.45 2.45 0 1 0 4.9 0a2.45 2.45 0 1 0 -4.9 0M149.8 888.8a2.45 2.45 0 1 0 4.9 0a2.45 2.45 0 1 0 -4.9 0M150.8 889.5a2.45 2.45 0 1 0 4.9 0a2.45 2.45 0 1 0 -4.9 0M150.7 889.4a2.45 2.45 0 1 0 4.9 0a2.45 2.45 0 1 0 -4.9 0M151.1 892.9a2.45 2.45 0 1 0 4.9 0a2.45 2.45 0 1 0 -4.9 0M151.4 887.8a2.45 2.45 0 1 0 4.9 0a2.45 2.45 0 1 0 -4.9 0M152.4 888.6a2.45 2.45 0 1 0 4.9 0a2.45 2.45 0 1 0 -4.9 0M152.7 889.5a2.45 2.45 0 1 0 4.9 0a2.45 2.45 0 1 0 -4.9 0M154.0 886.7a2.45 2.45 0 1 0 4.9 0a2.45 2.45 0 1 0 -4.9 0M153.2 891.7a2.45 2.45 0 1 0 4.9 0a2.45 2.45 0 1 0 -4.9 0M154.3 887.8a2.45 2.45 0 1 0 4.9 0a2.45 2.45 0 1 0 -4.9 0M154.3 888.2a2.45 2.45 0 1 0 4.9 0a2.45 2.45 0 1 0 -4.9 0M155.3 888.3a2.45 2.45 0 1 0 4.9 0a2.45 2.45 0 1 0 -4.9 0M155.3 888.6a2.45 2.45 0 1 0 4.9 0a2.45 2.45 0 1 0 -4.9 0M156.2 888.5a2.45 2.45 0 1 0 4.9 0a2.45 2.45 0 1 0 -4.9 0M156.8 888.5a2.45 2.45 0 1 0 4.9 0a2.45 2.45 0 1 0 -4.9 0M157.3 888.4a2.45 2.45 0 1 0 4.9 0a2.45 2.45 0 1 0 -4.9 0M157.9 888.3a2.45 2.45 0 1 0 4.9 0a2.45 2.45 0 1 0 -4.9 0M158.8 887.1a2.45 2.45 0 1 0 4.9 0a2.45 2.45 0 1 0 -4.9 0M158.4 888.5a2.45 2.45 0 1 0 4.9 0a2.45 2.45 0 1 0 -4.9 0M159.8 889.7a2.45 2.45 0 1 0 4.9 0a2.45 2.45 0 1 0 -4.9 0M159.1 889.4a2.45 2.45 0 1 0 4.9 0a2.45 2.45 0 1 0 -4.9 0M160.5 891.6a2.45 2.45 0 1 0 4.9 0a2.45 2.45 0 1 0 -4.9 0M161.0 887.2a2.45 2.45 0 1 0 4.9 0a2.45 2.45 0 1 0 -4.9 0M161.9 888.9a2.45 2.45 0 1 0 4.9 0a2.45 2.45 0 1 0 -4.9 0M161.9 889.5a2.45 2.45 0 1 0 4.9 0a2.45 2.45 0 1 0 -4.9 0M162.5 889.0a2.45 2.45 0 1 0 4.9 0a2.45 2.45 0 1 0 -4.9 0M162.5 886.4a2.45 2.45 0 1 0 4.9 0a2.45 2.45 0 1 0 -4.9 0M164.0 891.4a2.45 2.45 0 1 0 4.9 0a2.45 2.45 0 1 0 -4.9 0M163.3 892.7a2.45 2.45 0 1 0 4.9 0a2.45 2.45 0 1 0 -4.9 0M164.9 888.2a2.45 2.45 0 1 0 4.9 0a2.45 2.45 0 1 0 -4.9 0M164.1 889.7a2.45 2.45 0 1 0 4.9 0a2.45 2.45 0 1 0 -4.9 0M165.9 889.5a2.45 2.45 0 1 0 4.9 0a2.45 2.45 0 1 0 -4.9 0M165.7 886.6a2.45 2.45 0 1 0 4.9 0a2.45 2.45 0 1 0 -4.9 0M166.9 892.7a2.45 2.45 0 1 0 4.9 0a2.45 2.45 0 1 0 -4.9 0M166.2 887.5a2.45 2.45 0 1 0 4.9 0a2.45 2.45 0 1 0 -4.9 0M167.9 890.8a2.45 2.45 0 1 0 4.9 0a2.45 2.45 0 1 0 -4.9 0M167.1 887.1a2.45 2.45 0 1 0 4.9 0a2.45 2.45 0 1 0 -4.9 0M169.0 888.1a2.45 2.45 0 1 0 4.9 0a2.45 2.45 0 1 0 -4.9 0M169.0 888.4a2.45 2.45 0 1 0 4.9 0a2.45 2.45 0 1 0 -4.9 0M169.8 888.7a2.45 2.45 0 1 0 4.9 0a2.45 2.45 0 1 0 -4.9 0M169.4 890.4a2.45 2.45 0 1 0 4.9 0a2.45 2.45 0 1 0 -4.9 0M170.3 889.4a2.45 2.45 0 1 0 4.9 0a2.45 2.45 0 1 0 -4.9 0M170.3 891.8a2.45 2.45 0 1 0 4.9 0a2.45 2.45 0 1 0 -4.9 0M171.4 888.5a2.45 2.45 0 1 0 4.9 0a2.45 2.45 0 1 0 -4.9 0M171.1 886.1a2.45 2.45 0 1 0 4.9 0a2.45 2.45 0 1 0 -4.9 0M173.0 888.7a2.45 2.45 0 1 0 4.9 0a2.45 2.45 0 1 0 -4.9 0M172.9 887.3a2.45 2.45 0 1 0 4.9 0a2.45 2.45 0 1 0 -4.9 0M173.1 890.6a2.45 2.45 0 1 0 4.9 0a2.45 2.45 0 1 0 -4.9 0M173.4 887.8a2.45 2.45 0 1 0 4.9 0a2.45 2.45 0 1 0 -4.9 0M174.9 889.0a2.45 2.45 0 1 0 4.9 0a2.45 2.45 0 1 0 -4.9 0M174.5 892.4a2.45 2.45 0 1 0 4.9 0a2.45 2.45 0 1 0 -4.9 0M175.2 889.3a2.45 2.45 0 1 0 4.9 0a2.45 2.45 0 1 0 -4.9 0M176.0 891.5a2.45 2.45 0 1 0 4.9 0a2.45 2.45 0 1 0 -4.9 0M176.5 891.4a2.45 2.45 0 1 0 4.9 0a2.45 2.45 0 1 0 -4.9 0M176.6 885.4a2.45 2.45 0 1 0 4.9 0a2.45 2.45 0 1 0 -4.9 0M177.2 888.2a2.45 2.45 0 1 0 4.9 0a2.45 2.45 0 1 0 -4.9 0M177.2 887.9a2.45 2.45 0 1 0 4.9 0a2.45 2.45 0 1 0 -4.9 0M178.3 893.1a2.45 2.45 0 1 0 4.9 0a2.45 2.45 0 1 0 -4.9 0M178.6 890.6a2.45 2.45 0 1 0 4.9 0a2.45 2.45 0 1 0 -4.9 0M179.5 888.1a2.45 2.45 0 1 0 4.9 0a2.45 2.45 0 1 0 -4.9 0M179.7 887.4a2.45 2.45 0 1 0 4.9 0a2.45 2.45 0 1 0 -4.9 0M180.1 888.1a2.45 2.45 0 1 0 4.9 0a2.45 2.45 0 1 0 -4.9 0M180.9 890.0a2.45 2.45 0 1 0 4.9 0a2.45 2.45 0 1 0 -4.9 0M181.9 889.8a2.45 2.45 0 1 0 4.9 0a2.45 2.45 0 1 0 -4.9 0M181.6 890.4a2.45 2.45 0 1 0 4.9 0a2.45 2.45 0 1 0 -4.9 0M183.0 889.8a2.45 2.45 0 1 0 4.9 0a2.45 2.45 0 1 0 -4.9 0M182.1 886.9a2.45 2.45 0 1 0 4.9 0a2.45 2.45 0 1 0 -4.9 0M184.0 888.6a2.45 2.45 0 1 0 4.9 0a2.45 2.45 0 1 0 -4.9 0M183.7 890.2a2.45 2.45 0 1 0 4.9 0a2.45 2.45 0 1 0 -4.9 0M184.2 887.3a2.45 2.45 0 1 0 4.9 0a2.45 2.45 0 1 0 -4.9 0M184.7 889.2a2.45 2.45 0 1 0 4.9 0a2.45 2.45 0 1 0 -4.9 0M185.4 887.8a2.45 2.45 0 1 0 4.9 0a2.45 2.45 0 1 0 -4.9 0M185.5 890.6a2.45 2.45 0 1 0 4.9 0a2.45 2.45 0 1 0 -4.9 0M186.8 888.4a2.45 2.45 0 1 0 4.9 0a2.45 2.45 0 1 0 -4.9 0M186.7 890.0a2.45 2.45 0 1 0 4.9 0a2.45 2.45 0 1 0 -4.9 0M187.9 888.5a2.45 2.45 0 1 0 4.9 0a2.45 2.45 0 1 0 -4.9 0M187.9 888.1a2.45 2.45 0 1 0 4.9 0a2.45 2.45 0 1 0 -4.9 0M188.5 892.2a2.45 2.45 0 1 0 4.9 0a2.45 2.45 0 1 0 -4.9 0M188.2 890.9a2.45 2.45 0 1 0 4.9 0a2.45 2.45 0 1 0 -4.9 0M189.4 888.5a2.45 2.45 0 1 0 4.9 0a2.45 2.45 0 1 0 -4.9 0M189.8 890.3a2.45 2.45 0 1 0 4.9 0a2.45 2.45 0 1 0 -4.9 0M190.6 890.8a2.45 2.45 0 1 0 4.9 0a2.45 2.45 0 1 0 -4.9 0M190.5 891.0a2.45 2.45 0 1 0 4.9 0a2.45 2.45 0 1 0 -4.9 0M191.4 888.7a2.45 2.45 0 1 0 4.9 0a2.45 2.45 0 1 0 -4.9 0M191.5 890.6a2.45 2.45 0 1 0 4.9 0a2.45 2.45 0 1 0 -4.9 0M193.0 891.2a2.45 2.45 0 1 0 4.9 0a2.45 2.45 0 1 0 -4.9 0M192.8 891.0a2.45 2.45 0 1 0 4.9 0a2.45 2.45 0 1 0 -4.9 0M193.1 892.0a2.45 2.45 0 1 0 4.9 0a2.45 2.45 0 1 0 -4.9 0M193.6 889.0a2.45 2.45 0 1 0 4.9 0a2.45 2.45 0 1 0 -4.9 0M194.6 888.0a2.45 2.45 0 1 0 4.9 0a2.45 2.45 0 1 0 -4.9 0M194.6 888.2a2.45 2.45 0 1 0 4.9 0a2.45 2.45 0 1 0 -4.9 0M195.7 889.3a2.45 2.45 0 1 0 4.9 0a2.45 2.45 0 1 0 -4.9 0M195.2 890.5a2.45 2.45 0 1 0 4.9 0a2.45 2.45 0 1 0 -4.9 0M196.6 889.8a2.45 2.45 0 1 0 4.9 0a2.45 2.45 0 1 0 -4.9 0M196.6 888.4a2.45 2.45 0 1 0 4.9 0a2.45 2.45 0 1 0 -4.9 0M197.8 889.7a2.45 2.45 0 1 0 4.9 0a2.45 2.45 0 1 0 -4.9 0M197.4 889.9a2.45 2.45 0 1 0 4.9 0a2.45 2.45 0 1 0 -4.9 0M198.5 890.3a2.45 2.45 0 1 0 4.9 0a2.45 2.45 0 1 0 -4.9 0M198.6 888.2a2.45 2.45 0 1 0 4.9 0a2.45 2.45 0 1 0 -4.9 0M200.0 889.3a2.45 2.45 0 1 0 4.9 0a2.45 2.45 0 1 0 -4.9 0M199.6 888.1a2.45 2.45 0 1 0 4.9 0a2.45 2.45 0 1 0 -4.9 0M201.0 889.0a2.45 2.45 0 1 0 4.9 0a2.45 2.45 0 1 0 -4.9 0M200.3 889.4a2.45 2.45 0 1 0 4.9 0a2.45 2.45 0 1 0 -4.9 0M201.4 887.9a2.45 2.45 0 1 0 4.9 0a2.45 2.45 0 1 0 -4.9 0M201.2 890.2a2.45 2.45 0 1 0 4.9 0a2.45 2.45 0 1 0 -4.9 0M202.2 888.1a2.45 2.45 0 1 0 4.9 0a2.45 2.45 0 1 0 -4.9 0M202.1 890.0a2.45 2.45 0 1 0 4.9 0a2.45 2.45 0 1 0 -4.9 0M204.0 889.6a2.45 2.45 0 1 0 4.9 0a2.45 2.45 0 1 0 -4.9 0M203.3 888.3a2.45 2.45 0 1 0 4.9 0a2.45 2.45 0 1 0 -4.9 0M204.6 889.4a2.45 2.45 0 1 0 4.9 0a2.45 2.45 0 1 0 -4.9 0M205.0 889.6a2.45 2.45 0 1 0 4.9 0a2.45 2.45 0 1 0 -4.9 0M205.4 889.7a2.45 2.45 0 1 0 4.9 0a2.45 2.45 0 1 0 -4.9 0M205.5 888.6a2.45 2.45 0 1 0 4.9 0a2.45 2.45 0 1 0 -4.9 0M206.6 888.2a2.45 2.45 0 1 0 4.9 0a2.45 2.45 0 1 0 -4.9 0M206.7 891.5a2.45 2.45 0 1 0 4.9 0a2.45 2.45 0 1 0 -4.9 0M207.4 888.8a2.45 2.45 0 1 0 4.9 0a2.45 2.45 0 1 0 -4.9 0M208.0 889.8a2.45 2.45 0 1 0 4.9 0a2.45 2.45 0 1 0 -4.9 0M208.7 887.9a2.45 2.45 0 1 0 4.9 0a2.45 2.45 0 1 0 -4.9 0M208.8 888.8a2.45 2.45 0 1 0 4.9 0a2.45 2.45 0 1 0 -4.9 0M209.8 889.2a2.45 2.45 0 1 0 4.9 0a2.45 2.45 0 1 0 -4.9 0M209.8 887.4a2.45 2.45 0 1 0 4.9 0a2.45 2.45 0 1 0 -4.9 0M210.3 889.3a2.45 2.45 0 1 0 4.9 0a2.45 2.45 0 1 0 -4.9 0M210.7 889.8a2.45 2.45 0 1 0 4.9 0a2.45 2.45 0 1 0 -4.9 0M211.2 886.4a2.45 2.45 0 1 0 4.9 0a2.45 2.45 0 1 0 -4.9 0M211.3 890.5a2.45 2.45 0 1 0 4.9 0a2.45 2.45 0 1 0 -4.9 0M212.9 889.6a2.45 2.45 0 1 0 4.9 0a2.45 2.45 0 1 0 -4.9 0M212.7 890.5a2.45 2.45 0 1 0 4.9 0a2.45 2.45 0 1 0 -4.9 0M213.1 889.5a2.45 2.45 0 1 0 4.9 0a2.45 2.45 0 1 0 -4.9 0M214.0 889.1a2.45 2.45 0 1 0 4.9 0a2.45 2.45 0 1 0 -4.9 0M214.3 887.9a2.45 2.45 0 1 0 4.9 0a2.45 2.45 0 1 0 -4.9 0M214.5 889.9a2.45 2.45 0 1 0 4.9 0a2.45 2.45 0 1 0 -4.9 0M215.7 891.7a2.45 2.45 0 1 0 4.9 0a2.45 2.45 0 1 0 -4.9 0M216.0 888.8a2.45 2.45 0 1 0 4.9 0a2.45 2.45 0 1 0 -4.9 0M216.1 890.7a2.45 2.45 0 1 0 4.9 0a2.45 2.45 0 1 0 -4.9 0M216.8 889.9a2.45 2.45 0 1 0 4.9 0a2.45 2.45 0 1 0 -4.9 0M217.5 890.0a2.45 2.45 0 1 0 4.9 0a2.45 2.45 0 1 0 -4.9 0M217.7 886.5a2.45 2.45 0 1 0 4.9 0a2.45 2.45 0 1 0 -4.9 0M218.4 890.9a2.45 2.45 0 1 0 4.9 0a2.45 2.45 0 1 0 -4.9 0M218.6 888.8a2.45 2.45 0 1 0 4.9 0a2.45 2.45 0 1 0 -4.9 0M219.2 889.4a2.45 2.45 0 1 0 4.9 0a2.45 2.45 0 1 0 -4.9 0M219.1 889.0a2.45 2.45 0 1 0 4.9 0a2.45 2.45 0 1 0 -4.9 0M220.8 890.6a2.45 2.45 0 1 0 4.9 0a2.45 2.45 0 1 0 -4.9 0M220.1 886.7a2.45 2.45 0 1 0 4.9 0a2.45 2.45 0 1 0 -4.9 0M221.1 891.1a2.45 2.45 0 1 0 4.9 0a2.45 2.45 0 1 0 -4.9 0M221.2 891.9a2.45 2.45 0 1 0 4.9 0a2.45 2.45 0 1 0 -4.9 0M222.7 887.1a2.45 2.45 0 1 0 4.9 0a2.45 2.45 0 1 0 -4.9 0M222.6 890.0a2.45 2.45 0 1 0 4.9 0a2.45 2.45 0 1 0 -4.9 0M223.1 887.4a2.45 2.45 0 1 0 4.9 0a2.45 2.45 0 1 0 -4.9 0M223.7 888.1a2.45 2.45 0 1 0 4.9 0a2.45 2.45 0 1 0 -4.9 0M224.5 889.0a2.45 2.45 0 1 0 4.9 0a2.45 2.45 0 1 0 -4.9 0M224.2 889.7a2.45 2.45 0 1 0 4.9 0a2.45 2.45 0 1 0 -4.9 0M225.5 889.7a2.45 2.45 0 1 0 4.9 0a2.45 2.45 0 1 0 -4.9 0M225.9 887.9a2.45 2.45 0 1 0 4.9 0a2.45 2.45 0 1 0 -4.9 0M226.3 886.7a2.45 2.45 0 1 0 4.9 0a2.45 2.45 0 1 0 -4.9 0M226.5 888.0a2.45 2.45 0 1 0 4.9 0a2.45 2.45 0 1 0 -4.9 0M227.4 891.7a2.45 2.45 0 1 0 4.9 0a2.45 2.45 0 1 0 -4.9 0M227.3 888.6a2.45 2.45 0 1 0 4.9 0a2.45 2.45 0 1 0 -4.9 0M229.0 890.0a2.45 2.45 0 1 0 4.9 0a2.45 2.45 0 1 0 -4.9 0M228.7 887.1a2.45 2.45 0 1 0 4.9 0a2.45 2.45 0 1 0 -4.9 0M229.2 887.0a2.45 2.45 0 1 0 4.9 0a2.45 2.45 0 1 0 -4.9 0M229.8 891.1a2.45 2.45 0 1 0 4.9 0a2.45 2.45 0 1 0 -4.9 0M230.7 887.1a2.45 2.45 0 1 0 4.9 0a2.45 2.45 0 1 0 -4.9 0M231.0 888.9a2.45 2.45 0 1 0 4.9 0a2.45 2.45 0 1 0 -4.9 0M231.1 890.3a2.45 2.45 0 1 0 4.9 0a2.45 2.45 0 1 0 -4.9 0M231.7 887.8a2.45 2.45 0 1 0 4.9 0a2.45 2.45 0 1 0 -4.9 0M232.8 888.9a2.45 2.45 0 1 0 4.9 0a2.45 2.45 0 1 0 -4.9 0M232.9 891.3a2.45 2.45 0 1 0 4.9 0a2.45 2.45 0 1 0 -4.9 0M233.6 890.6a2.45 2.45 0 1 0 4.9 0a2.45 2.45 0 1 0 -4.9 0M233.1 888.8a2.45 2.45 0 1 0 4.9 0a2.45 2.45 0 1 0 -4.9 0M234.4 888.5a2.45 2.45 0 1 0 4.9 0a2.45 2.45 0 1 0 -4.9 0M234.7 888.2a2.45 2.45 0 1 0 4.9 0a2.45 2.45 0 1 0 -4.9 0M235.9 888.3a2.45 2.45 0 1 0 4.9 0a2.45 2.45 0 1 0 -4.9 0M235.2 886.1a2.45 2.45 0 1 0 4.9 0a2.45 2.45 0 1 0 -4.9 0M236.5 889.9a2.45 2.45 0 1 0 4.9 0a2.45 2.45 0 1 0 -4.9 0M237.0 889.2a2.45 2.45 0 1 0 4.9 0a2.45 2.45 0 1 0 -4.9 0M237.7 889.2a2.45 2.45 0 1 0 4.9 0a2.45 2.45 0 1 0 -4.9 0M237.2 890.7a2.45 2.45 0 1 0 4.9 0a2.45 2.45 0 1 0 -4.9 0M238.4 887.7a2.45 2.45 0 1 0 4.9 0a2.45 2.45 0 1 0 -4.9 0M238.3 890.4a2.45 2.45 0 1 0 4.9 0a2.45 2.45 0 1 0 -4.9 0M239.3 886.4a2.45 2.45 0 1 0 4.9 0a2.45 2.45 0 1 0 -4.9 0M239.9 889.4a2.45 2.45 0 1 0 4.9 0a2.45 2.45 0 1 0 -4.9 0M240.7 888.6a2.45 2.45 0 1 0 4.9 0a2.45 2.45 0 1 0 -4.9 0M240.4 889.1a2.45 2.45 0 1 0 4.9 0a2.45 2.45 0 1 0 -4.9 0M241.7 890.5a2.45 2.45 0 1 0 4.9 0a2.45 2.45 0 1 0 -4.9 0M241.8 891.3a2.45 2.45 0 1 0 4.9 0a2.45 2.45 0 1 0 -4.9 0M242.7 890.8a2.45 2.45 0 1 0 4.9 0a2.45 2.45 0 1 0 -4.9 0M242.7 891.8a2.45 2.45 0 1 0 4.9 0a2.45 2.45 0 1 0 -4.9 0M243.1 889.2a2.45 2.45 0 1 0 4.9 0a2.45 2.45 0 1 0 -4.9 0M243.2 887.5a2.45 2.45 0 1 0 4.9 0a2.45 2.45 0 1 0 -4.9 0M244.1 890.8a2.45 2.45 0 1 0 4.9 0a2.45 2.45 0 1 0 -4.9 0M244.6 886.1a2.45 2.45 0 1 0 4.9 0a2.45 2.45 0 1 0 -4.9 0M245.2 888.6a2.45 2.45 0 1 0 4.9 0a2.45 2.45 0 1 0 -4.9 0M245.1 888.8a2.45 2.45 0 1 0 4.9 0a2.45 2.45 0 1 0 -4.9 0M246.3 888.6a2.45 2.45 0 1 0 4.9 0a2.45 2.45 0 1 0 -4.9 0M246.2 887.8a2.45 2.45 0 1 0 4.9 0a2.45 2.45 0 1 0 -4.9 0M247.5 887.8a2.45 2.45 0 1 0 4.9 0a2.45 2.45 0 1 0 -4.9 0M247.3 890.4a2.45 2.45 0 1 0 4.9 0a2.45 2.45 0 1 0 -4.9 0M248.4 889.9a2.45 2.45 0 1 0 4.9 0a2.45 2.45 0 1 0 -4.9 0M248.8 891.1a2.45 2.45 0 1 0 4.9 0a2.45 2.45 0 1 0 -4.9 0M249.6 886.1a2.45 2.45 0 1 0 4.9 0a2.45 2.45 0 1 0 -4.9 0M249.8 890.1a2.45 2.45 0 1 0 4.9 0a2.45 2.45 0 1 0 -4.9 0M250.5 889.2a2.45 2.45 0 1 0 4.9 0a2.45 2.45 0 1 0 -4.9 0M250.4 890.3a2.45 2.45 0 1 0 4.9 0a2.45 2.45 0 1 0 -4.9 0M251.7 890.7a2.45 2.45 0 1 0 4.9 0a2.45 2.45 0 1 0 -4.9 0M251.8 891.4a2.45 2.45 0 1 0 4.9 0a2.45 2.45 0 1 0 -4.9 0M252.4 888.2a2.45 2.45 0 1 0 4.9 0a2.45 2.45 0 1 0 -4.9 0M252.3 888.5a2.45 2.45 0 1 0 4.9 0a2.45 2.45 0 1 0 -4.9 0M253.2 889.6a2.45 2.45 0 1 0 4.9 0a2.45 2.45 0 1 0 -4.9 0M253.5 889.2a2.45 2.45 0 1 0 4.9 0a2.45 2.45 0 1 0 -4.9 0M255.0 889.1a2.45 2.45 0 1 0 4.9 0a2.45 2.45 0 1 0 -4.9 0M254.4 890.4a2.45 2.45 0 1 0 4.9 0a2.45 2.45 0 1 0 -4.9 0M255.5 889.8a2.45 2.45 0 1 0 4.9 0a2.45 2.45 0 1 0 -4.9 0M255.2 890.2a2.45 2.45 0 1 0 4.9 0a2.45 2.45 0 1 0 -4.9 0M256.7 889.1a2.45 2.45 0 1 0 4.9 0a2.45 2.45 0 1 0 -4.9 0M256.9 887.1a2.45 2.45 0 1 0 4.9 0a2.45 2.45 0 1 0 -4.9 0M257.6 890.0a2.45 2.45 0 1 0 4.9 0a2.45 2.45 0 1 0 -4.9 0M257.2 887.9a2.45 2.45 0 1 0 4.9 0a2.45 2.45 0 1 0 -4.9 0M258.2 887.8a2.45 2.45 0 1 0 4.9 0a2.45 2.45 0 1 0 -4.9 0M258.4 888.0a2.45 2.45 0 1 0 4.9 0a2.45 2.45 0 1 0 -4.9 0M259.6 889.9a2.45 2.45 0 1 0 4.9 0a2.45 2.45 0 1 0 -4.9 0M260.0 887.4a2.45 2.45 0 1 0 4.9 0a2.45 2.45 0 1 0 -4.9 0M260.9 889.2a2.45 2.45 0 1 0 4.9 0a2.45 2.45 0 1 0 -4.9 0M260.7 888.3a2.45 2.45 0 1 0 4.9 0a2.45 2.45 0 1 0 -4.9 0M261.7 890.8a2.45 2.45 0 1 0 4.9 0a2.45 2.45 0 1 0 -4.9 0M261.3 889.0a2.45 2.45 0 1 0 4.9 0a2.45 2.45 0 1 0 -4.9 0M262.3 890.8a2.45 2.45 0 1 0 4.9 0a2.45 2.45 0 1 0 -4.9 0M262.8 890.5a2.45 2.45 0 1 0 4.9 0a2.45 2.45 0 1 0 -4.9 0M263.2 891.3a2.45 2.45 0 1 0 4.9 0a2.45 2.45 0 1 0 -4.9 0M263.9 891.1a2.45 2.45 0 1 0 4.9 0a2.45 2.45 0 1 0 -4.9 0M264.7 892.2a2.45 2.45 0 1 0 4.9 0a2.45 2.45 0 1 0 -4.9 0M264.3 891.4a2.45 2.45 0 1 0 4.9 0a2.45 2.45 0 1 0 -4.9 0M265.6 890.0a2.45 2.45 0 1 0 4.9 0a2.45 2.45 0 1 0 -4.9 0M265.1 889.2a2.45 2.45 0 1 0 4.9 0a2.45 2.45 0 1 0 -4.9 0M267.0 889.9a2.45 2.45 0 1 0 4.9 0a2.45 2.45 0 1 0 -4.9 0M266.3 890.0a2.45 2.45 0 1 0 4.9 0a2.45 2.45 0 1 0 -4.9 0M267.4 889.8a2.45 2.45 0 1 0 4.9 0a2.45 2.45 0 1 0 -4.9 0M267.4 889.4a2.45 2.45 0 1 0 4.9 0a2.45 2.45 0 1 0 -4.9 0M268.4 891.9a2.45 2.45 0 1 0 4.9 0a2.45 2.45 0 1 0 -4.9 0M269.0 888.3a2.45 2.45 0 1 0 4.9 0a2.45 2.45 0 1 0 -4.9 0M269.6 887.8a2.45 2.45 0 1 0 4.9 0a2.45 2.45 0 1 0 -4.9 0M270.0 890.2a2.45 2.45 0 1 0 4.9 0a2.45 2.45 0 1 0 -4.9 0M271.0 891.3a2.45 2.45 0 1 0 4.9 0a2.45 2.45 0 1 0 -4.9 0M270.9 888.1a2.45 2.45 0 1 0 4.9 0a2.45 2.45 0 1 0 -4.9 0M271.6 890.0a2.45 2.45 0 1 0 4.9 0a2.45 2.45 0 1 0 -4.9 0M271.8 889.0a2.45 2.45 0 1 0 4.9 0a2.45 2.45 0 1 0 -4.9 0M272.7 889.2a2.45 2.45 0 1 0 4.9 0a2.45 2.45 0 1 0 -4.9 0M272.9 888.4a2.45 2.45 0 1 0 4.9 0a2.45 2.45 0 1 0 -4.9 0M273.2 891.8a2.45 2.45 0 1 0 4.9 0a2.45 2.45 0 1 0 -4.9 0M273.5 893.6a2.45 2.45 0 1 0 4.9 0a2.45 2.45 0 1 0 -4.9 0M274.3 888.9a2.45 2.45 0 1 0 4.9 0a2.45 2.45 0 1 0 -4.9 0M274.8 889.5a2.45 2.45 0 1 0 4.9 0a2.45 2.45 0 1 0 -4.9 0M275.9 891.7a2.45 2.45 0 1 0 4.9 0a2.45 2.45 0 1 0 -4.9 0M275.4 887.2a2.45 2.45 0 1 0 4.9 0a2.45 2.45 0 1 0 -4.9 0M276.3 889.1a2.45 2.45 0 1 0 4.9 0a2.45 2.45 0 1 0 -4.9 0M277.0 890.7a2.45 2.45 0 1 0 4.9 0a2.45 2.45 0 1 0 -4.9 0M277.7 889.2a2.45 2.45 0 1 0 4.9 0a2.45 2.45 0 1 0 -4.9 0M277.6 885.0a2.45 2.45 0 1 0 4.9 0a2.45 2.45 0 1 0 -4.9 0M278.4 884.8a2.45 2.45 0 1 0 4.9 0a2.45 2.45 0 1 0 -4.9 0M278.5 879.8a2.45 2.45 0 1 0 4.9 0a2.45 2.45 0 1 0 -4.9 0M279.1 880.8a2.45 2.45 0 1 0 4.9 0a2.45 2.45 0 1 0 -4.9 0M280.0 884.7a2.45 2.45 0 1 0 4.9 0a2.45 2.45 0 1 0 -4.9 0M280.3 886.6a2.45 2.45 0 1 0 4.9 0a2.45 2.45 0 1 0 -4.9 0M280.3 887.6a2.45 2.45 0 1 0 4.9 0a2.45 2.45 0 1 0 -4.9 0M281.3 883.9a2.45 2.45 0 1 0 4.9 0a2.45 2.45 0 1 0 -4.9 0M281.2 886.7a2.45 2.45 0 1 0 4.9 0a2.45 2.45 0 1 0 -4.9 0M282.2 888.5a2.45 2.45 0 1 0 4.9 0a2.45 2.45 0 1 0 -4.9 0M282.2 882.9a2.45 2.45 0 1 0 4.9 0a2.45 2.45 0 1 0 -4.9 0M283.2 888.7a2.45 2.45 0 1 0 4.9 0a2.45 2.45 0 1 0 -4.9 0M283.6 890.9a2.45 2.45 0 1 0 4.9 0a2.45 2.45 0 1 0 -4.9 0M284.6 887.5a2.45 2.45 0 1 0 4.9 0a2.45 2.45 0 1 0 -4.9 0M284.1 887.0a2.45 2.45 0 1 0 4.9 0a2.45 2.45 0 1 0 -4.9 0M286.0 888.7a2.45 2.45 0 1 0 4.9 0a2.45 2.45 0 1 0 -4.9 0M285.7 887.5a2.45 2.45 0 1 0 4.9 0a2.45 2.45 0 1 0 -4.9 0M286.5 883.0a2.45 2.45 0 1 0 4.9 0a2.45 2.45 0 1 0 -4.9 0M286.8 887.0a2.45 2.45 0 1 0 4.9 0a2.45 2.45 0 1 0 -4.9 0M287.1 887.0a2.45 2.45 0 1 0 4.9 0a2.45 2.45 0 1 0 -4.9 0M287.2 884.6a2.45 2.45 0 1 0 4.9 0a2.45 2.45 0 1 0 -4.9 0M288.9 890.9a2.45 2.45 0 1 0 4.9 0a2.45 2.45 0 1 0 -4.9 0M288.7 885.6a2.45 2.45 0 1 0 4.9 0a2.45 2.45 0 1 0 -4.9 0M289.1 883.5a2.45 2.45 0 1 0 4.9 0a2.45 2.45 0 1 0 -4.9 0M289.9 887.6a2.45 2.45 0 1 0 4.9 0a2.45 2.45 0 1 0 -4.9 0M290.8 884.6a2.45 2.45 0 1 0 4.9 0a2.45 2.45 0 1 0 -4.9 0M290.7 884.4a2.45 2.45 0 1 0 4.9 0a2.45 2.45 0 1 0 -4.9 0M291.1 887.2a2.45 2.45 0 1 0 4.9 0a2.45 2.45 0 1 0 -4.9 0M291.5 889.0a2.45 2.45 0 1 0 4.9 0a2.45 2.45 0 1 0 -4.9 0M292.4 884.0a2.45 2.45 0 1 0 4.9 0a2.45 2.45 0 1 0 -4.9 0M292.9 886.5a2.45 2.45 0 1 0 4.9 0a2.45 2.45 0 1 0 -4.9 0M293.3 886.9a2.45 2.45 0 1 0 4.9 0a2.45 2.45 0 1 0 -4.9 0M293.4 887.4a2.45 2.45 0 1 0 4.9 0a2.45 2.45 0 1 0 -4.9 0M294.7 888.9a2.45 2.45 0 1 0 4.9 0a2.45 2.45 0 1 0 -4.9 0M294.6 890.5a2.45 2.45 0 1 0 4.9 0a2.45 2.45 0 1 0 -4.9 0M296.0 885.8a2.45 2.45 0 1 0 4.9 0a2.45 2.45 0 1 0 -4.9 0M295.9 882.8a2.45 2.45 0 1 0 4.9 0a2.45 2.45 0 1 0 -4.9 0M296.7 889.0a2.45 2.45 0 1 0 4.9 0a2.45 2.45 0 1 0 -4.9 0M296.6 887.0a2.45 2.45 0 1 0 4.9 0a2.45 2.45 0 1 0 -4.9 0M297.4 885.0a2.45 2.45 0 1 0 4.9 0a2.45 2.45 0 1 0 -4.9 0M297.5 889.5a2.45 2.45 0 1 0 4.9 0a2.45 2.45 0 1 0 -4.9 0M298.4 887.6a2.45 2.45 0 1 0 4.9 0a2.45 2.45 0 1 0 -4.9 0M298.4 885.5a2.45 2.45 0 1 0 4.9 0a2.45 2.45 0 1 0 -4.9 0M299.7 884.0a2.45 2.45 0 1 0 4.9 0a2.45 2.45 0 1 0 -4.9 0M299.3 889.7a2.45 2.45 0 1 0 4.9 0a2.45 2.45 0 1 0 -4.9 0M300.5 887.3a2.45 2.45 0 1 0 4.9 0a2.45 2.45 0 1 0 -4.9 0M301.0 887.7a2.45 2.45 0 1 0 4.9 0a2.45 2.45 0 1 0 -4.9 0M301.7 885.1a2.45 2.45 0 1 0 4.9 0a2.45 2.45 0 1 0 -4.9 0M301.3 886.7a2.45 2.45 0 1 0 4.9 0a2.45 2.45 0 1 0 -4.9 0M302.9 890.3a2.45 2.45 0 1 0 4.9 0a2.45 2.45 0 1 0 -4.9 0M303.0 887.9a2.45 2.45 0 1 0 4.9 0a2.45 2.45 0 1 0 -4.9 0M303.6 886.4a2.45 2.45 0 1 0 4.9 0a2.45 2.45 0 1 0 -4.9 0M303.6 890.4a2.45 2.45 0 1 0 4.9 0a2.45 2.45 0 1 0 -4.9 0M304.3 885.5a2.45 2.45 0 1 0 4.9 0a2.45 2.45 0 1 0 -4.9 0M304.7 889.5a2.45 2.45 0 1 0 4.9 0a2.45 2.45 0 1 0 -4.9 0M305.5 891.6a2.45 2.45 0 1 0 4.9 0a2.45 2.45 0 1 0 -4.9 0M305.6 887.4a2.45 2.45 0 1 0 4.9 0a2.45 2.45 0 1 0 -4.9 0M306.9 888.0a2.45 2.45 0 1 0 4.9 0a2.45 2.45 0 1 0 -4.9 0M306.9 888.9a2.45 2.45 0 1 0 4.9 0a2.45 2.45 0 1 0 -4.9 0M307.3 887.6a2.45 2.45 0 1 0 4.9 0a2.45 2.45 0 1 0 -4.9 0M307.5 889.6a2.45 2.45 0 1 0 4.9 0a2.45 2.45 0 1 0 -4.9 0M308.2 886.4a2.45 2.45 0 1 0 4.9 0a2.45 2.45 0 1 0 -4.9 0M308.2 883.0a2.45 2.45 0 1 0 4.9 0a2.45 2.45 0 1 0 -4.9 0M309.3 885.7a2.45 2.45 0 1 0 4.9 0a2.45 2.45 0 1 0 -4.9 0M309.5 881.8a2.45 2.45 0 1 0 4.9 0a2.45 2.45 0 1 0 -4.9 0M310.3 885.2a2.45 2.45 0 1 0 4.9 0a2.45 2.45 0 1 0 -4.9 0M310.3 883.1a2.45 2.45 0 1 0 4.9 0a2.45 2.45 0 1 0 -4.9 0M311.8 890.1a2.45 2.45 0 1 0 4.9 0a2.45 2.45 0 1 0 -4.9 0M311.4 883.7a2.45 2.45 0 1 0 4.9 0a2.45 2.45 0 1 0 -4.9 0M312.2 887.2a2.45 2.45 0 1 0 4.9 0a2.45 2.45 0 1 0 -4.9 0M312.8 887.4a2.45 2.45 0 1 0 4.9 0a2.45 2.45 0 1 0 -4.9 0M313.4 882.2a2.45 2.45 0 1 0 4.9 0a2.45 2.45 0 1 0 -4.9 0M313.1 886.2a2.45 2.45 0 1 0 4.9 0a2.45 2.45 0 1 0 -4.9 0M314.9 891.1a2.45 2.45 0 1 0 4.9 0a2.45 2.45 0 1 0 -4.9 0M314.5 890.0a2.45 2.45 0 1 0 4.9 0a2.45 2.45 0 1 0 -4.9 0M315.7 890.5a2.45 2.45 0 1 0 4.9 0a2.45 2.45 0 1 0 -4.9 0M315.7 885.8a2.45 2.45 0 1 0 4.9 0a2.45 2.45 0 1 0 -4.9 0M316.5 886.4a2.45 2.45 0 1 0 4.9 0a2.45 2.45 0 1 0 -4.9 0M316.8 887.2a2.45 2.45 0 1 0 4.9 0a2.45 2.45 0 1 0 -4.9 0M317.7 888.4a2.45 2.45 0 1 0 4.9 0a2.45 2.45 0 1 0 -4.9 0M317.5 884.2a2.45 2.45 0 1 0 4.9 0a2.45 2.45 0 1 0 -4.9 0M318.3 886.1a2.45 2.45 0 1 0 4.9 0a2.45 2.45 0 1 0 -4.9 0M318.9 883.6a2.45 2.45 0 1 0 4.9 0a2.45 2.45 0 1 0 -4.9 0M319.1 887.3a2.45 2.45 0 1 0 4.9 0a2.45 2.45 0 1 0 -4.9 0M319.6 885.6a2.45 2.45 0 1 0 4.9 0a2.45 2.45 0 1 0 -4.9 0M320.6 887.8a2.45 2.45 0 1 0 4.9 0a2.45 2.45 0 1 0 -4.9 0M320.6 888.4a2.45 2.45 0 1 0 4.9 0a2.45 2.45 0 1 0 -4.9 0M321.6 886.3a2.45 2.45 0 1 0 4.9 0a2.45 2.45 0 1 0 -4.9 0M321.5 889.5a2.45 2.45 0 1 0 4.9 0a2.45 2.45 0 1 0 -4.9 0M322.7 890.0a2.45 2.45 0 1 0 4.9 0a2.45 2.45 0 1 0 -4.9 0M322.3 885.4a2.45 2.45 0 1 0 4.9 0a2.45 2.45 0 1 0 -4.9 0M323.3 885.3a2.45 2.45 0 1 0 4.9 0a2.45 2.45 0 1 0 -4.9 0M323.1 888.6a2.45 2.45 0 1 0 4.9 0a2.45 2.45 0 1 0 -4.9 0M324.7 886.8a2.45 2.45 0 1 0 4.9 0a2.45 2.45 0 1 0 -4.9 0M324.2 885.6a2.45 2.45 0 1 0 4.9 0a2.45 2.45 0 1 0 -4.9 0M325.4 887.9a2.45 2.45 0 1 0 4.9 0a2.45 2.45 0 1 0 -4.9 0M325.2 885.2a2.45 2.45 0 1 0 4.9 0a2.45 2.45 0 1 0 -4.9 0M326.6 885.1a2.45 2.45 0 1 0 4.9 0a2.45 2.45 0 1 0 -4.9 0M326.8 890.1a2.45 2.45 0 1 0 4.9 0a2.45 2.45 0 1 0 -4.9 0M327.6 885.7a2.45 2.45 0 1 0 4.9 0a2.45 2.45 0 1 0 -4.9 0M327.7 890.6a2.45 2.45 0 1 0 4.9 0a2.45 2.45 0 1 0 -4.9 0M328.4 890.1a2.45 2.45 0 1 0 4.9 0a2.45 2.45 0 1 0 -4.9 0M328.3 891.3a2.45 2.45 0 1 0 4.9 0a2.45 2.45 0 1 0 -4.9 0M329.9 889.2a2.45 2.45 0 1 0 4.9 0a2.45 2.45 0 1 0 -4.9 0M330.0 886.5a2.45 2.45 0 1 0 4.9 0a2.45 2.45 0 1 0 -4.9 0M330.4 888.9a2.45 2.45 0 1 0 4.9 0a2.45 2.45 0 1 0 -4.9 0M330.4 886.4a2.45 2.45 0 1 0 4.9 0a2.45 2.45 0 1 0 -4.9 0M331.1 882.9a2.45 2.45 0 1 0 4.9 0a2.45 2.45 0 1 0 -4.9 0M331.8 887.7a2.45 2.45 0 1 0 4.9 0a2.45 2.45 0 1 0 -4.9 0M332.7 884.9a2.45 2.45 0 1 0 4.9 0a2.45 2.45 0 1 0 -4.9 0M332.6 889.1a2.45 2.45 0 1 0 4.9 0a2.45 2.45 0 1 0 -4.9 0M333.2 886.2a2.45 2.45 0 1 0 4.9 0a2.45 2.45 0 1 0 -4.9 0M333.1 888.5a2.45 2.45 0 1 0 4.9 0a2.45 2.45 0 1 0 -4.9 0M334.7 892.9a2.45 2.45 0 1 0 4.9 0a2.45 2.45 0 1 0 -4.9 0M334.9 891.1a2.45 2.45 0 1 0 4.9 0a2.45 2.45 0 1 0 -4.9 0M335.4 885.7a2.45 2.45 0 1 0 4.9 0a2.45 2.45 0 1 0 -4.9 0M335.9 888.9a2.45 2.45 0 1 0 4.9 0a2.45 2.45 0 1 0 -4.9 0M336.1 886.4a2.45 2.45 0 1 0 4.9 0a2.45 2.45 0 1 0 -4.9 0M336.7 888.5a2.45 2.45 0 1 0 4.9 0a2.45 2.45 0 1 0 -4.9 0M337.7 890.0a2.45 2.45 0 1 0 4.9 0a2.45 2.45 0 1 0 -4.9 0M337.9 886.1a2.45 2.45 0 1 0 4.9 0a2.45 2.45 0 1 0 -4.9 0M338.1 892.9a2.45 2.45 0 1 0 4.9 0a2.45 2.45 0 1 0 -4.9 0M338.8 885.3a2.45 2.45 0 1 0 4.9 0a2.45 2.45 0 1 0 -4.9 0M339.8 888.9a2.45 2.45 0 1 0 4.9 0a2.45 2.45 0 1 0 -4.9 0M339.9 885.3a2.45 2.45 0 1 0 4.9 0a2.45 2.45 0 1 0 -4.9 0M340.7 882.5a2.45 2.45 0 1 0 4.9 0a2.45 2.45 0 1 0 -4.9 0M340.4 886.5a2.45 2.45 0 1 0 4.9 0a2.45 2.45 0 1 0 -4.9 0M341.9 886.9a2.45 2.45 0 1 0 4.9 0a2.45 2.45 0 1 0 -4.9 0M342.0 888.0a2.45 2.45 0 1 0 4.9 0a2.45 2.45 0 1 0 -4.9 0M342.9 886.7a2.45 2.45 0 1 0 4.9 0a2.45 2.45 0 1 0 -4.9 0M342.3 885.2a2.45 2.45 0 1 0 4.9 0a2.45 2.45 0 1 0 -4.9 0M343.7 890.1a2.45 2.45 0 1 0 4.9 0a2.45 2.45 0 1 0 -4.9 0M343.3 887.1a2.45 2.45 0 1 0 4.9 0a2.45 2.45 0 1 0 -4.9 0M344.7 889.6a2.45 2.45 0 1 0 4.9 0a2.45 2.45 0 1 0 -4.9 0M344.4 888.4a2.45 2.45 0 1 0 4.9 0a2.45 2.45 0 1 0 -4.9 0M345.9 886.6a2.45 2.45 0 1 0 4.9 0a2.45 2.45 0 1 0 -4.9 0M345.5 887.0a2.45 2.45 0 1 0 4.9 0a2.45 2.45 0 1 0 -4.9 0M346.1 884.5a2.45 2.45 0 1 0 4.9 0a2.45 2.45 0 1 0 -4.9 0M346.1 889.7a2.45 2.45 0 1 0 4.9 0a2.45 2.45 0 1 0 -4.9 0M347.3 885.6a2.45 2.45 0 1 0 4.9 0a2.45 2.45 0 1 0 -4.9 0M347.7 882.6a2.45 2.45 0 1 0 4.9 0a2.45 2.45 0 1 0 -4.9 0M348.4 891.0a2.45 2.45 0 1 0 4.9 0a2.45 2.45 0 1 0 -4.9 0M348.7 889.8a2.45 2.45 0 1 0 4.9 0a2.45 2.45 0 1 0 -4.9 0M349.9 887.9a2.45 2.45 0 1 0 4.9 0a2.45 2.45 0 1 0 -4.9 0M349.4 884.8a2.45 2.45 0 1 0 4.9 0a2.45 2.45 0 1 0 -4.9 0M350.4 888.4a2.45 2.45 0 1 0 4.9 0a2.45 2.45 0 1 0 -4.9 0M351.0 889.2a2.45 2.45 0 1 0 4.9 0a2.45 2.45 0 1 0 -4.9 0M351.9 889.2a2.45 2.45 0 1 0 4.9 0a2.45 2.45 0 1 0 -4.9 0M351.4 886.1a2.45 2.45 0 1 0 4.9 0a2.45 2.45 0 1 0 -4.9 0M352.2 887.5a2.45 2.45 0 1 0 4.9 0a2.45 2.45 0 1 0 -4.9 0M352.5 887.9a2.45 2.45 0 1 0 4.9 0a2.45 2.45 0 1 0 -4.9 0M354.0 882.7a2.45 2.45 0 1 0 4.9 0a2.45 2.45 0 1 0 -4.9 0M354.0 887.9a2.45 2.45 0 1 0 4.9 0a2.45 2.45 0 1 0 -4.9 0M354.5 890.6a2.45 2.45 0 1 0 4.9 0a2.45 2.45 0 1 0 -4.9 0M354.3 885.6a2.45 2.45 0 1 0 4.9 0a2.45 2.45 0 1 0 -4.9 0M355.7 886.3a2.45 2.45 0 1 0 4.9 0a2.45 2.45 0 1 0 -4.9 0M355.4 888.5a2.45 2.45 0 1 0 4.9 0a2.45 2.45 0 1 0 -4.9 0M356.1 887.9a2.45 2.45 0 1 0 4.9 0a2.45 2.45 0 1 0 -4.9 0M356.7 888.0a2.45 2.45 0 1 0 4.9 0a2.45 2.45 0 1 0 -4.9 0M357.7 884.2a2.45 2.45 0 1 0 4.9 0a2.45 2.45 0 1 0 -4.9 0M357.9 887.2a2.45 2.45 0 1 0 4.9 0a2.45 2.45 0 1 0 -4.9 0M358.6 885.3a2.45 2.45 0 1 0 4.9 0a2.45 2.45 0 1 0 -4.9 0M358.9 886.1a2.45 2.45 0 1 0 4.9 0a2.45 2.45 0 1 0 -4.9 0M359.2 885.8a2.45 2.45 0 1 0 4.9 0a2.45 2.45 0 1 0 -4.9 0M359.1 888.2a2.45 2.45 0 1 0 4.9 0a2.45 2.45 0 1 0 -4.9 0M360.3 888.5a2.45 2.45 0 1 0 4.9 0a2.45 2.45 0 1 0 -4.9 0M361.0 888.2a2.45 2.45 0 1 0 4.9 0a2.45 2.45 0 1 0 -4.9 0M361.5 885.2a2.45 2.45 0 1 0 4.9 0a2.45 2.45 0 1 0 -4.9 0M361.3 888.7a2.45 2.45 0 1 0 4.9 0a2.45 2.45 0 1 0 -4.9 0M362.3 885.0a2.45 2.45 0 1 0 4.9 0a2.45 2.45 0 1 0 -4.9 0M362.2 885.4a2.45 2.45 0 1 0 4.9 0a2.45 2.45 0 1 0 -4.9 0M363.5 887.2a2.45 2.45 0 1 0 4.9 0a2.45 2.45 0 1 0 -4.9 0M364.0 890.0a2.45 2.45 0 1 0 4.9 0a2.45 2.45 0 1 0 -4.9 0M364.6 887.5a2.45 2.45 0 1 0 4.9 0a2.45 2.45 0 1 0 -4.9 0M365.0 885.9a2.45 2.45 0 1 0 4.9 0a2.45 2.45 0 1 0 -4.9 0M365.6 883.8a2.45 2.45 0 1 0 4.9 0a2.45 2.45 0 1 0 -4.9 0M365.9 888.3a2.45 2.45 0 1 0 4.9 0a2.45 2.45 0 1 0 -4.9 0M366.4 887.4a2.45 2.45 0 1 0 4.9 0a2.45 2.45 0 1 0 -4.9 0M366.7 892.0a2.45 2.45 0 1 0 4.9 0a2.45 2.45 0 1 0 -4.9 0M367.3 883.1a2.45 2.45 0 1 0 4.9 0a2.45 2.45 0 1 0 -4.9 0M367.6 886.7a2.45 2.45 0 1 0 4.9 0a2.45 2.45 0 1 0 -4.9 0M369.0 883.6a2.45 2.45 0 1 0 4.9 0a2.45 2.45 0 1 0 -4.9 0M368.4 885.8a2.45 2.45 0 1 0 4.9 0a2.45 2.45 0 1 0 -4.9 0M369.9 890.8a2.45 2.45 0 1 0 4.9 0a2.45 2.45 0 1 0 -4.9 0M369.2 884.5a2.45 2.45 0 1 0 4.9 0a2.45 2.45 0 1 0 -4.9 0M370.3 882.2a2.45 2.45 0 1 0 4.9 0a2.45 2.45 0 1 0 -4.9 0M370.2 886.0a2.45 2.45 0 1 0 4.9 0a2.45 2.45 0 1 0 -4.9 0M371.1 886.7a2.45 2.45 0 1 0 4.9 0a2.45 2.45 0 1 0 -4.9 0M371.8 891.6a2.45 2.45 0 1 0 4.9 0a2.45 2.45 0 1 0 -4.9 0M372.5 885.5a2.45 2.45 0 1 0 4.9 0a2.45 2.45 0 1 0 -4.9 0M372.4 886.9a2.45 2.45 0 1 0 4.9 0a2.45 2.45 0 1 0 -4.9 0M373.4 882.9a2.45 2.45 0 1 0 4.9 0a2.45 2.45 0 1 0 -4.9 0M373.1 890.5a2.45 2.45 0 1 0 4.9 0a2.45 2.45 0 1 0 -4.9 0M374.7 884.2a2.45 2.45 0 1 0 4.9 0a2.45 2.45 0 1 0 -4.9 0M374.7 887.7a2.45 2.45 0 1 0 4.9 0a2.45 2.45 0 1 0 -4.9 0M375.7 885.4a2.45 2.45 0 1 0 4.9 0a2.45 2.45 0 1 0 -4.9 0M375.7 886.0a2.45 2.45 0 1 0 4.9 0a2.45 2.45 0 1 0 -4.9 0M377.0 885.5a2.45 2.45 0 1 0 4.9 0a2.45 2.45 0 1 0 -4.9 0M377.0 890.4a2.45 2.45 0 1 0 4.9 0a2.45 2.45 0 1 0 -4.9 0M377.1 885.8a2.45 2.45 0 1 0 4.9 0a2.45 2.45 0 1 0 -4.9 0M377.9 889.4a2.45 2.45 0 1 0 4.9 0a2.45 2.45 0 1 0 -4.9 0M378.8 890.1a2.45 2.45 0 1 0 4.9 0a2.45 2.45 0 1 0 -4.9 0M378.1 888.4a2.45 2.45 0 1 0 4.9 0a2.45 2.45 0 1 0 -4.9 0M379.8 884.4a2.45 2.45 0 1 0 4.9 0a2.45 2.45 0 1 0 -4.9 0M379.2 880.8a2.45 2.45 0 1 0 4.9 0a2.45 2.45 0 1 0 -4.9 0M380.9 891.9a2.45 2.45 0 1 0 4.9 0a2.45 2.45 0 1 0 -4.9 0M381.0 889.4a2.45 2.45 0 1 0 4.9 0a2.45 2.45 0 1 0 -4.9 0M381.6 886.7a2.45 2.45 0 1 0 4.9 0a2.45 2.45 0 1 0 -4.9 0M381.9 884.0a2.45 2.45 0 1 0 4.9 0a2.45 2.45 0 1 0 -4.9 0M382.8 888.2a2.45 2.45 0 1 0 4.9 0a2.45 2.45 0 1 0 -4.9 0M382.1 881.4a2.45 2.45 0 1 0 4.9 0a2.45 2.45 0 1 0 -4.9 0M383.8 887.8a2.45 2.45 0 1 0 4.9 0a2.45 2.45 0 1 0 -4.9 0M383.1 889.1a2.45 2.45 0 1 0 4.9 0a2.45 2.45 0 1 0 -4.9 0M384.6 887.2a2.45 2.45 0 1 0 4.9 0a2.45 2.45 0 1 0 -4.9 0M384.8 886.2a2.45 2.45 0 1 0 4.9 0a2.45 2.45 0 1 0 -4.9 0M385.7 885.3a2.45 2.45 0 1 0 4.9 0a2.45 2.45 0 1 0 -4.9 0M385.9 879.4a2.45 2.45 0 1 0 4.9 0a2.45 2.45 0 1 0 -4.9 0M386.9 882.9a2.45 2.45 0 1 0 4.9 0a2.45 2.45 0 1 0 -4.9 0M386.2 884.6a2.45 2.45 0 1 0 4.9 0a2.45 2.45 0 1 0 -4.9 0M387.9 887.4a2.45 2.45 0 1 0 4.9 0a2.45 2.45 0 1 0 -4.9 0M387.8 884.3a2.45 2.45 0 1 0 4.9 0a2.45 2.45 0 1 0 -4.9 0M388.9 886.0a2.45 2.45 0 1 0 4.9 0a2.45 2.45 0 1 0 -4.9 0M388.1 883.3a2.45 2.45 0 1 0 4.9 0a2.45 2.45 0 1 0 -4.9 0M389.4 886.5a2.45 2.45 0 1 0 4.9 0a2.45 2.45 0 1 0 -4.9 0M389.8 888.8a2.45 2.45 0 1 0 4.9 0a2.45 2.45 0 1 0 -4.9 0M390.6 885.6a2.45 2.45 0 1 0 4.9 0a2.45 2.45 0 1 0 -4.9 0M390.2 886.8a2.45 2.45 0 1 0 4.9 0a2.45 2.45 0 1 0 -4.9 0M391.4 887.9a2.45 2.45 0 1 0 4.9 0a2.45 2.45 0 1 0 -4.9 0M391.5 888.8a2.45 2.45 0 1 0 4.9 0a2.45 2.45 0 1 0 -4.9 0M392.6 886.5a2.45 2.45 0 1 0 4.9 0a2.45 2.45 0 1 0 -4.9 0M393.0 888.0a2.45 2.45 0 1 0 4.9 0a2.45 2.45 0 1 0 -4.9 0M393.9 884.6a2.45 2.45 0 1 0 4.9 0a2.45 2.45 0 1 0 -4.9 0M393.7 883.1a2.45 2.45 0 1 0 4.9 0a2.45 2.45 0 1 0 -4.9 0M395.0 891.0a2.45 2.45 0 1 0 4.9 0a2.45 2.45 0 1 0 -4.9 0M394.3 886.5a2.45 2.45 0 1 0 4.9 0a2.45 2.45 0 1 0 -4.9 0M396.0 885.5a2.45 2.45 0 1 0 4.9 0a2.45 2.45 0 1 0 -4.9 0M395.9 885.5a2.45 2.45 0 1 0 4.9 0a2.45 2.45 0 1 0 -4.9 0M396.2 882.8a2.45 2.45 0 1 0 4.9 0a2.45 2.45 0 1 0 -4.9 0M396.3 886.3a2.45 2.45 0 1 0 4.9 0a2.45 2.45 0 1 0 -4.9 0M397.7 885.8a2.45 2.45 0 1 0 4.9 0a2.45 2.45 0 1 0 -4.9 0M397.4 888.6a2.45 2.45 0 1 0 4.9 0a2.45 2.45 0 1 0 -4.9 0M398.8 891.4a2.45 2.45 0 1 0 4.9 0a2.45 2.45 0 1 0 -4.9 0M398.2 884.1a2.45 2.45 0 1 0 4.9 0a2.45 2.45 0 1 0 -4.9 0M399.7 886.5a2.45 2.45 0 1 0 4.9 0a2.45 2.45 0 1 0 -4.9 0M399.8 886.1a2.45 2.45 0 1 0 4.9 0a2.45 2.45 0 1 0 -4.9 0M401.0 886.5a2.45 2.45 0 1 0 4.9 0a2.45 2.45 0 1 0 -4.9 0M400.1 887.5a2.45 2.45 0 1 0 4.9 0a2.45 2.45 0 1 0 -4.9 0M401.1 889.2a2.45 2.45 0 1 0 4.9 0a2.45 2.45 0 1 0 -4.9 0M401.6 885.9a2.45 2.45 0 1 0 4.9 0a2.45 2.45 0 1 0 -4.9 0M402.4 886.8a2.45 2.45 0 1 0 4.9 0a2.45 2.45 0 1 0 -4.9 0M402.8 882.3a2.45 2.45 0 1 0 4.9 0a2.45 2.45 0 1 0 -4.9 0M404.0 885.7a2.45 2.45 0 1 0 4.9 0a2.45 2.45 0 1 0 -4.9 0M403.7 892.4a2.45 2.45 0 1 0 4.9 0a2.45 2.45 0 1 0 -4.9 0M404.4 886.6a2.45 2.45 0 1 0 4.9 0a2.45 2.45 0 1 0 -4.9 0M404.5 886.5a2.45 2.45 0 1 0 4.9 0a2.45 2.45 0 1 0 -4.9 0M406.0 885.1a2.45 2.45 0 1 0 4.9 0a2.45 2.45 0 1 0 -4.9 0M405.8 887.9a2.45 2.45 0 1 0 4.9 0a2.45 2.45 0 1 0 -4.9 0M406.1 891.5a2.45 2.45 0 1 0 4.9 0a2.45 2.45 0 1 0 -4.9 0M406.9 884.6a2.45 2.45 0 1 0 4.9 0a2.45 2.45 0 1 0 -4.9 0M407.6 887.1a2.45 2.45 0 1 0 4.9 0a2.45 2.45 0 1 0 -4.9 0M407.1 888.8a2.45 2.45 0 1 0 4.9 0a2.45 2.45 0 1 0 -4.9 0M409.0 885.5a2.45 2.45 0 1 0 4.9 0a2.45 2.45 0 1 0 -4.9 0M408.7 883.4a2.45 2.45 0 1 0 4.9 0a2.45 2.45 0 1 0 -4.9 0M410.0 887.6a2.45 2.45 0 1 0 4.9 0a2.45 2.45 0 1 0 -4.9 0M409.6 892.0a2.45 2.45 0 1 0 4.9 0a2.45 2.45 0 1 0 -4.9 0M411.0 886.5a2.45 2.45 0 1 0 4.9 0a2.45 2.45 0 1 0 -4.9 0M410.1 885.9a2.45 2.45 0 1 0 4.9 0a2.45 2.45 0 1 0 -4.9 0M411.2 889.4a2.45 2.45 0 1 0 4.9 0a2.45 2.45 0 1 0 -4.9 0M411.5 884.1a2.45 2.45 0 1 0 4.9 0a2.45 2.45 0 1 0 -4.9 0M412.1 888.9a2.45 2.45 0 1 0 4.9 0a2.45 2.45 0 1 0 -4.9 0M412.3 885.2a2.45 2.45 0 1 0 4.9 0a2.45 2.45 0 1 0 -4.9 0M413.4 887.9a2.45 2.45 0 1 0 4.9 0a2.45 2.45 0 1 0 -4.9 0M413.6 886.0a2.45 2.45 0 1 0 4.9 0a2.45 2.45 0 1 0 -4.9 0M414.3 887.6a2.45 2.45 0 1 0 4.9 0a2.45 2.45 0 1 0 -4.9 0M414.3 888.2a2.45 2.45 0 1 0 4.9 0a2.45 2.45 0 1 0 -4.9 0M415.1 888.6a2.45 2.45 0 1 0 4.9 0a2.45 2.45 0 1 0 -4.9 0M415.1 885.5a2.45 2.45 0 1 0 4.9 0a2.45 2.45 0 1 0 -4.9 0M416.7 888.2a2.45 2.45 0 1 0 4.9 0a2.45 2.45 0 1 0 -4.9 0M416.2 887.7a2.45 2.45 0 1 0 4.9 0a2.45 2.45 0 1 0 -4.9 0M417.6 891.3a2.45 2.45 0 1 0 4.9 0a2.45 2.45 0 1 0 -4.9 0M417.1 885.1a2.45 2.45 0 1 0 4.9 0a2.45 2.45 0 1 0 -4.9 0M418.1 886.3a2.45 2.45 0 1 0 4.9 0a2.45 2.45 0 1 0 -4.9 0M418.4 889.2a2.45 2.45 0 1 0 4.9 0a2.45 2.45 0 1 0 -4.9 0M419.5 885.7a2.45 2.45 0 1 0 4.9 0a2.45 2.45 0 1 0 -4.9 0M419.7 892.2a2.45 2.45 0 1 0 4.9 0a2.45 2.45 0 1 0 -4.9 0M420.5 887.3a2.45 2.45 0 1 0 4.9 0a2.45 2.45 0 1 0 -4.9 0M420.1 886.9a2.45 2.45 0 1 0 4.9 0a2.45 2.45 0 1 0 -4.9 0M421.8 884.9a2.45 2.45 0 1 0 4.9 0a2.45 2.45 0 1 0 -4.9 0M421.5 885.3a2.45 2.45 0 1 0 4.9 0a2.45 2.45 0 1 0 -4.9 0M422.6 885.9a2.45 2.45 0 1 0 4.9 0a2.45 2.45 0 1 0 -4.9 0M423.0 884.7a2.45 2.45 0 1 0 4.9 0a2.45 2.45 0 1 0 -4.9 0M423.8 885.6a2.45 2.45 0 1 0 4.9 0a2.45 2.45 0 1 0 -4.9 0M423.7 886.6a2.45 2.45 0 1 0 4.9 0a2.45 2.45 0 1 0 -4.9 0M424.3 888.0a2.45 2.45 0 1 0 4.9 0a2.45 2.45 0 1 0 -4.9 0M424.9 888.9a2.45 2.45 0 1 0 4.9 0a2.45 2.45 0 1 0 -4.9 0M425.2 886.0a2.45 2.45 0 1 0 4.9 0a2.45 2.45 0 1 0 -4.9 0M425.9 888.0a2.45 2.45 0 1 0 4.9 0a2.45 2.45 0 1 0 -4.9 0M427.0 892.5a2.45 2.45 0 1 0 4.9 0a2.45 2.45 0 1 0 -4.9 0M426.8 886.4a2.45 2.45 0 1 0 4.9 0a2.45 2.45 0 1 0 -4.9 0M427.6 888.0a2.45 2.45 0 1 0 4.9 0a2.45 2.45 0 1 0 -4.9 0M427.2 882.8a2.45 2.45 0 1 0 4.9 0a2.45 2.45 0 1 0 -4.9 0M428.1 888.2a2.45 2.45 0 1 0 4.9 0a2.45 2.45 0 1 0 -4.9 0M428.3 882.4a2.45 2.45 0 1 0 4.9 0a2.45 2.45 0 1 0 -4.9 0M429.2 886.4a2.45 2.45 0 1 0 4.9 0a2.45 2.45 0 1 0 -4.9 0M430.0 888.2a2.45 2.45 0 1 0 4.9 0a2.45 2.45 0 1 0 -4.9 0M430.5 886.1a2.45 2.45 0 1 0 4.9 0a2.45 2.45 0 1 0 -4.9 0M430.2 887.0a2.45 2.45 0 1 0 4.9 0a2.45 2.45 0 1 0 -4.9 0M431.6 886.2a2.45 2.45 0 1 0 4.9 0a2.45 2.45 0 1 0 -4.9 0M432.0 884.7a2.45 2.45 0 1 0 4.9 0a2.45 2.45 0 1 0 -4.9 0M433.0 888.7a2.45 2.45 0 1 0 4.9 0a2.45 2.45 0 1 0 -4.9 0M432.4 888.9a2.45 2.45 0 1 0 4.9 0a2.45 2.45 0 1 0 -4.9 0M433.2 882.8a2.45 2.45 0 1 0 4.9 0a2.45 2.45 0 1 0 -4.9 0M434.0 889.7a2.45 2.45 0 1 0 4.9 0a2.45 2.45 0 1 0 -4.9 0M435.0 887.4a2.45 2.45 0 1 0 4.9 0a2.45 2.45 0 1 0 -4.9 0M434.7 886.1a2.45 2.45 0 1 0 4.9 0a2.45 2.45 0 1 0 -4.9 0M435.8 889.0a2.45 2.45 0 1 0 4.9 0a2.45 2.45 0 1 0 -4.9 0M435.8 888.2a2.45 2.45 0 1 0 4.9 0a2.45 2.45 0 1 0 -4.9 0M436.5 888.0a2.45 2.45 0 1 0 4.9 0a2.45 2.45 0 1 0 -4.9 0M437.0 886.8a2.45 2.45 0 1 0 4.9 0a2.45 2.45 0 1 0 -4.9 0M437.9 884.3a2.45 2.45 0 1 0 4.9 0a2.45 2.45 0 1 0 -4.9 0M437.6 888.0a2.45 2.45 0 1 0 4.9 0a2.45 2.45 0 1 0 -4.9 0M439.0 888.5a2.45 2.45 0 1 0 4.9 0a2.45 2.45 0 1 0 -4.9 0M438.6 886.1a2.45 2.45 0 1 0 4.9 0a2.45 2.45 0 1 0 -4.9 0M439.1 885.4a2.45 2.45 0 1 0 4.9 0a2.45 2.45 0 1 0 -4.9 0M439.2 888.0a2.45 2.45 0 1 0 4.9 0a2.45 2.45 0 1 0 -4.9 0M440.8 884.7a2.45 2.45 0 1 0 4.9 0a2.45 2.45 0 1 0 -4.9 0M440.7 889.1a2.45 2.45 0 1 0 4.9 0a2.45 2.45 0 1 0 -4.9 0M441.8 888.0a2.45 2.45 0 1 0 4.9 0a2.45 2.45 0 1 0 -4.9 0M441.3 890.7a2.45 2.45 0 1 0 4.9 0a2.45 2.45 0 1 0 -4.9 0M442.6 885.7a2.45 2.45 0 1 0 4.9 0a2.45 2.45 0 1 0 -4.9 0M442.3 891.2a2.45 2.45 0 1 0 4.9 0a2.45 2.45 0 1 0 -4.9 0M444.0 887.2a2.45 2.45 0 1 0 4.9 0a2.45 2.45 0 1 0 -4.9 0M443.6 887.9a2.45 2.45 0 1 0 4.9 0a2.45 2.45 0 1 0 -4.9 0M444.8 890.3a2.45 2.45 0 1 0 4.9 0a2.45 2.45 0 1 0 -4.9 0M444.2 888.1a2.45 2.45 0 1 0 4.9 0a2.45 2.45 0 1 0 -4.9 0M446.0 886.5a2.45 2.45 0 1 0 4.9 0a2.45 2.45 0 1 0 -4.9 0M445.8 887.5a2.45 2.45 0 1 0 4.9 0a2.45 2.45 0 1 0 -4.9 0M446.8 892.4a2.45 2.45 0 1 0 4.9 0a2.45 2.45 0 1 0 -4.9 0M446.5 887.8a2.45 2.45 0 1 0 4.9 0a2.45 2.45 0 1 0 -4.9 0M447.6 886.7a2.45 2.45 0 1 0 4.9 0a2.45 2.45 0 1 0 -4.9 0M447.4 887.2a2.45 2.45 0 1 0 4.9 0a2.45 2.45 0 1 0 -4.9 0M448.3 886.9a2.45 2.45 0 1 0 4.9 0a2.45 2.45 0 1 0 -4.9 0M448.9 887.3a2.45 2.45 0 1 0 4.9 0a2.45 2.45 0 1 0 -4.9 0M449.4 885.9a2.45 2.45 0 1 0 4.9 0a2.45 2.45 0 1 0 -4.9 0M449.6 884.8a2.45 2.45 0 1 0 4.9 0a2.45 2.45 0 1 0 -4.9 0M450.4 890.1a2.45 2.45 0 1 0 4.9 0a2.45 2.45 0 1 0 -4.9 0M450.9 885.5a2.45 2.45 0 1 0 4.9 0a2.45 2.45 0 1 0 -4.9 0M451.6 889.0a2.45 2.45 0 1 0 4.9 0a2.45 2.45 0 1 0 -4.9 0M451.2 886.0a2.45 2.45 0 1 0 4.9 0a2.45 2.45 0 1 0 -4.9 0M452.4 885.8a2.45 2.45 0 1 0 4.9 0a2.45 2.45 0 1 0 -4.9 0M452.9 885.0a2.45 2.45 0 1 0 4.9 0a2.45 2.45 0 1 0 -4.9 0M453.1 883.9a2.45 2.45 0 1 0 4.9 0a2.45 2.45 0 1 0 -4.9 0M453.6 889.4a2.45 2.45 0 1 0 4.9 0a2.45 2.45 0 1 0 -4.9 0M454.4 887.4a2.45 2.45 0 1 0 4.9 0a2.45 2.45 0 1 0 -4.9 0M454.4 888.2a2.45 2.45 0 1 0 4.9 0a2.45 2.45 0 1 0 -4.9 0M455.6 889.4a2.45 2.45 0 1 0 4.9 0a2.45 2.45 0 1 0 -4.9 0M456.0 885.9a2.45 2.45 0 1 0 4.9 0a2.45 2.45 0 1 0 -4.9 0M456.8 888.1a2.45 2.45 0 1 0 4.9 0a2.45 2.45 0 1 0 -4.9 0M457.0 887.7a2.45 2.45 0 1 0 4.9 0a2.45 2.45 0 1 0 -4.9 0M457.4 888.1a2.45 2.45 0 1 0 4.9 0a2.45 2.45 0 1 0 -4.9 0M458.0 881.8a2.45 2.45 0 1 0 4.9 0a2.45 2.45 0 1 0 -4.9 0M458.6 885.8a2.45 2.45 0 1 0 4.9 0a2.45 2.45 0 1 0 -4.9 0M458.9 888.7a2.45 2.45 0 1 0 4.9 0a2.45 2.45 0 1 0 -4.9 0M459.3 887.9a2.45 2.45 0 1 0 4.9 0a2.45 2.45 0 1 0 -4.9 0M459.1 886.9a2.45 2.45 0 1 0 4.9 0a2.45 2.45 0 1 0 -4.9 0M460.9 888.9a2.45 2.45 0 1 0 4.9 0a2.45 2.45 0 1 0 -4.9 0M461.0 885.8a2.45 2.45 0 1 0 4.9 0a2.45 2.45 0 1 0 -4.9 0M461.1 888.2a2.45 2.45 0 1 0 4.9 0a2.45 2.45 0 1 0 -4.9 0M461.1 884.4a2.45 2.45 0 1 0 4.9 0a2.45 2.45 0 1 0 -4.9 0M462.5 891.0a2.45 2.45 0 1 0 4.9 0a2.45 2.45 0 1 0 -4.9 0M462.1 886.0a2.45 2.45 0 1 0 4.9 0a2.45 2.45 0 1 0 -4.9 0M463.1 888.9a2.45 2.45 0 1 0 4.9 0a2.45 2.45 0 1 0 -4.9 0M463.3 885.9a2.45 2.45 0 1 0 4.9 0a2.45 2.45 0 1 0 -4.9 0M464.4 886.7a2.45 2.45 0 1 0 4.9 0a2.45 2.45 0 1 0 -4.9 0M464.2 892.6a2.45 2.45 0 1 0 4.9 0a2.45 2.45 0 1 0 -4.9 0M465.2 886.6a2.45 2.45 0 1 0 4.9 0a2.45 2.45 0 1 0 -4.9 0M465.6 887.9a2.45 2.45 0 1 0 4.9 0a2.45 2.45 0 1 0 -4.9 0M467.0 889.5a2.45 2.45 0 1 0 4.9 0a2.45 2.45 0 1 0 -4.9 0M466.2 891.0a2.45 2.45 0 1 0 4.9 0a2.45 2.45 0 1 0 -4.9 0M467.9 888.3a2.45 2.45 0 1 0 4.9 0a2.45 2.45 0 1 0 -4.9 0M467.6 887.7a2.45 2.45 0 1 0 4.9 0a2.45 2.45 0 1 0 -4.9 0M468.7 888.8a2.45 2.45 0 1 0 4.9 0a2.45 2.45 0 1 0 -4.9 0M468.8 886.1a2.45 2.45 0 1 0 4.9 0a2.45 2.45 0 1 0 -4.9 0M469.1 883.7a2.45 2.45 0 1 0 4.9 0a2.45 2.45 0 1 0 -4.9 0M469.4 891.3a2.45 2.45 0 1 0 4.9 0a2.45 2.45 0 1 0 -4.9 0M470.6 883.3a2.45 2.45 0 1 0 4.9 0a2.45 2.45 0 1 0 -4.9 0M470.7 889.2a2.45 2.45 0 1 0 4.9 0a2.45 2.45 0 1 0 -4.9 0M471.9 890.7a2.45 2.45 0 1 0 4.9 0a2.45 2.45 0 1 0 -4.9 0M471.9 889.3a2.45 2.45 0 1 0 4.9 0a2.45 2.45 0 1 0 -4.9 0M472.9 894.7a2.45 2.45 0 1 0 4.9 0a2.45 2.45 0 1 0 -4.9 0M472.1 885.3a2.45 2.45 0 1 0 4.9 0a2.45 2.45 0 1 0 -4.9 0M473.9 888.0a2.45 2.45 0 1 0 4.9 0a2.45 2.45 0 1 0 -4.9 0M473.9 888.6a2.45 2.45 0 1 0 4.9 0a2.45 2.45 0 1 0 -4.9 0M474.2 886.4a2.45 2.45 0 1 0 4.9 0a2.45 2.45 0 1 0 -4.9 0M474.6 887.3a2.45 2.45 0 1 0 4.9 0a2.45 2.45 0 1 0 -4.9 0M475.3 886.9a2.45 2.45 0 1 0 4.9 0a2.45 2.45 0 1 0 -4.9 0M476.0 882.0a2.45 2.45 0 1 0 4.9 0a2.45 2.45 0 1 0 -4.9 0M476.7 886.3a2.45 2.45 0 1 0 4.9 0a2.45 2.45 0 1 0 -4.9 0M476.2 886.7a2.45 2.45 0 1 0 4.9 0a2.45 2.45 0 1 0 -4.9 0M477.7 884.1a2.45 2.45 0 1 0 4.9 0a2.45 2.45 0 1 0 -4.9 0M478.0 886.3a2.45 2.45 0 1 0 4.9 0a2.45 2.45 0 1 0 -4.9 0M478.6 888.9a2.45 2.45 0 1 0 4.9 0a2.45 2.45 0 1 0 -4.9 0M478.8 887.5a2.45 2.45 0 1 0 4.9 0a2.45 2.45 0 1 0 -4.9 0M479.4 887.5a2.45 2.45 0 1 0 4.9 0a2.45 2.45 0 1 0 -4.9 0M479.1 889.7a2.45 2.45 0 1 0 4.9 0a2.45 2.45 0 1 0 -4.9 0M480.7 887.5a2.45 2.45 0 1 0 4.9 0a2.45 2.45 0 1 0 -4.9 0M480.4 888.2a2.45 2.45 0 1 0 4.9 0a2.45 2.45 0 1 0 -4.9 0M481.4 888.3a2.45 2.45 0 1 0 4.9 0a2.45 2.45 0 1 0 -4.9 0M481.5 885.5a2.45 2.45 0 1 0 4.9 0a2.45 2.45 0 1 0 -4.9 0M482.3 888.0a2.45 2.45 0 1 0 4.9 0a2.45 2.45 0 1 0 -4.9 0M482.4 883.8a2.45 2.45 0 1 0 4.9 0a2.45 2.45 0 1 0 -4.9 0M483.5 887.3a2.45 2.45 0 1 0 4.9 0a2.45 2.45 0 1 0 -4.9 0M483.5 889.4a2.45 2.45 0 1 0 4.9 0a2.45 2.45 0 1 0 -4.9 0M484.2 884.8a2.45 2.45 0 1 0 4.9 0a2.45 2.45 0 1 0 -4.9 0M484.3 885.8a2.45 2.45 0 1 0 4.9 0a2.45 2.45 0 1 0 -4.9 0M485.5 882.7a2.45 2.45 0 1 0 4.9 0a2.45 2.45 0 1 0 -4.9 0M485.5 886.2a2.45 2.45 0 1 0 4.9 0a2.45 2.45 0 1 0 -4.9 0M486.1 891.1a2.45 2.45 0 1 0 4.9 0a2.45 2.45 0 1 0 -4.9 0M486.2 888.6a2.45 2.45 0 1 0 4.9 0a2.45 2.45 0 1 0 -4.9 0M487.7 890.4a2.45 2.45 0 1 0 4.9 0a2.45 2.45 0 1 0 -4.9 0M487.2 887.8a2.45 2.45 0 1 0 4.9 0a2.45 2.45 0 1 0 -4.9 0M488.2 889.6a2.45 2.45 0 1 0 4.9 0a2.45 2.45 0 1 0 -4.9 0M488.8 885.0a2.45 2.45 0 1 0 4.9 0a2.45 2.45 0 1 0 -4.9 0M489.8 887.2a2.45 2.45 0 1 0 4.9 0a2.45 2.45 0 1 0 -4.9 0M489.4 884.4a2.45 2.45 0 1 0 4.9 0a2.45 2.45 0 1 0 -4.9 0M490.8 889.7a2.45 2.45 0 1 0 4.9 0a2.45 2.45 0 1 0 -4.9 0M490.8 893.4a2.45 2.45 0 1 0 4.9 0a2.45 2.45 0 1 0 -4.9 0M491.9 885.5a2.45 2.45 0 1 0 4.9 0a2.45 2.45 0 1 0 -4.9 0M491.5 888.5a2.45 2.45 0 1 0 4.9 0a2.45 2.45 0 1 0 -4.9 0M492.9 889.4a2.45 2.45 0 1 0 4.9 0a2.45 2.45 0 1 0 -4.9 0M492.1 886.8a2.45 2.45 0 1 0 4.9 0a2.45 2.45 0 1 0 -4.9 0M493.6 883.7a2.45 2.45 0 1 0 4.9 0a2.45 2.45 0 1 0 -4.9 0M493.6 886.3a2.45 2.45 0 1 0 4.9 0a2.45 2.45 0 1 0 -4.9 0M494.8 885.4a2.45 2.45 0 1 0 4.9 0a2.45 2.45 0 1 0 -4.9 0M494.5 889.8a2.45 2.45 0 1 0 4.9 0a2.45 2.45 0 1 0 -4.9 0M495.7 891.6a2.45 2.45 0 1 0 4.9 0a2.45 2.45 0 1 0 -4.9 0M495.9 885.8a2.45 2.45 0 1 0 4.9 0a2.45 2.45 0 1 0 -4.9 0M496.9 888.5a2.45 2.45 0 1 0 4.9 0a2.45 2.45 0 1 0 -4.9 0M496.2 891.2a2.45 2.45 0 1 0 4.9 0a2.45 2.45 0 1 0 -4.9 0M497.3 883.0a2.45 2.45 0 1 0 4.9 0a2.45 2.45 0 1 0 -4.9 0M498.0 887.3a2.45 2.45 0 1 0 4.9 0a2.45 2.45 0 1 0 -4.9 0M498.4 884.2a2.45 2.45 0 1 0 4.9 0a2.45 2.45 0 1 0 -4.9 0M499.0 887.9a2.45 2.45 0 1 0 4.9 0a2.45 2.45 0 1 0 -4.9 0M499.8 887.6a2.45 2.45 0 1 0 4.9 0a2.45 2.45 0 1 0 -4.9 0M499.4 887.7a2.45 2.45 0 1 0 4.9 0a2.45 2.45 0 1 0 -4.9 0M500.7 880.0a2.45 2.45 0 1 0 4.9 0a2.45 2.45 0 1 0 -4.9 0M500.5 888.9a2.45 2.45 0 1 0 4.9 0a2.45 2.45 0 1 0 -4.9 0M502.0 881.4a2.45 2.45 0 1 0 4.9 0a2.45 2.45 0 1 0 -4.9 0M501.8 887.4a2.45 2.45 0 1 0 4.9 0a2.45 2.45 0 1 0 -4.9 0M502.6 889.2a2.45 2.45 0 1 0 4.9 0a2.45 2.45 0 1 0 -4.9 0M502.8 888.9a2.45 2.45 0 1 0 4.9 0a2.45 2.45 0 1 0 -4.9 0M504.0 889.6a2.45 2.45 0 1 0 4.9 0a2.45 2.45 0 1 0 -4.9 0M503.3 885.1a2.45 2.45 0 1 0 4.9 0a2.45 2.45 0 1 0 -4.9 0M504.2 888.9a2.45 2.45 0 1 0 4.9 0a2.45 2.45 0 1 0 -4.9 0M504.1 883.5a2.45 2.45 0 1 0 4.9 0a2.45 2.45 0 1 0 -4.9 0M505.7 885.7a2.45 2.45 0 1 0 4.9 0a2.45 2.45 0 1 0 -4.9 0M505.8 888.7a2.45 2.45 0 1 0 4.9 0a2.45 2.45 0 1 0 -4.9 0M506.4 886.0a2.45 2.45 0 1 0 4.9 0a2.45 2.45 0 1 0 -4.9 0M506.7 887.8a2.45 2.45 0 1 0 4.9 0a2.45 2.45 0 1 0 -4.9 0M507.2 887.4a2.45 2.45 0 1 0 4.9 0a2.45 2.45 0 1 0 -4.9 0M507.9 887.6a2.45 2.45 0 1 0 4.9 0a2.45 2.45 0 1 0 -4.9 0M508.9 890.8a2.45 2.45 0 1 0 4.9 0a2.45 2.45 0 1 0 -4.9 0M508.3 886.1a2.45 2.45 0 1 0 4.9 0a2.45 2.45 0 1 0 -4.9 0M509.7 885.9a2.45 2.45 0 1 0 4.9 0a2.45 2.45 0 1 0 -4.9 0M509.6 890.7a2.45 2.45 0 1 0 4.9 0a2.45 2.45 0 1 0 -4.9 0M510.1 883.6a2.45 2.45 0 1 0 4.9 0a2.45 2.45 0 1 0 -4.9 0M511.0 891.5a2.45 2.45 0 1 0 4.9 0a2.45 2.45 0 1 0 -4.9 0M511.9 887.6a2.45 2.45 0 1 0 4.9 0a2.45 2.45 0 1 0 -4.9 0M511.6 889.2a2.45 2.45 0 1 0 4.9 0a2.45 2.45 0 1 0 -4.9 0M512.5 887.8a2.45 2.45 0 1 0 4.9 0a2.45 2.45 0 1 0 -4.9 0M512.8 886.1a2.45 2.45 0 1 0 4.9 0a2.45 2.45 0 1 0 -4.9 0M513.8 885.2a2.45 2.45 0 1 0 4.9 0a2.45 2.45 0 1 0 -4.9 0M513.3 891.2a2.45 2.45 0 1 0 4.9 0a2.45 2.45 0 1 0 -4.9 0M514.3 890.4a2.45 2.45 0 1 0 4.9 0a2.45 2.45 0 1 0 -4.9 0M514.7 889.5a2.45 2.45 0 1 0 4.9 0a2.45 2.45 0 1 0 -4.9 0M515.8 891.6a2.45 2.45 0 1 0 4.9 0a2.45 2.45 0 1 0 -4.9 0M515.4 884.5a2.45 2.45 0 1 0 4.9 0a2.45 2.45 0 1 0 -4.9 0M516.4 889.7a2.45 2.45 0 1 0 4.9 0a2.45 2.45 0 1 0 -4.9 0M516.1 888.8a2.45 2.45 0 1 0 4.9 0a2.45 2.45 0 1 0 -4.9 0M517.6 889.0a2.45 2.45 0 1 0 4.9 0a2.45 2.45 0 1 0 -4.9 0M517.7 884.4a2.45 2.45 0 1 0 4.9 0a2.45 2.45 0 1 0 -4.9 0M518.4 891.0a2.45 2.45 0 1 0 4.9 0a2.45 2.45 0 1 0 -4.9 0M518.1 887.6a2.45 2.45 0 1 0 4.9 0a2.45 2.45 0 1 0 -4.9 0M519.4 887.8a2.45 2.45 0 1 0 4.9 0a2.45 2.45 0 1 0 -4.9 0M519.3 885.4a2.45 2.45 0 1 0 4.9 0a2.45 2.45 0 1 0 -4.9 0M520.1 883.5a2.45 2.45 0 1 0 4.9 0a2.45 2.45 0 1 0 -4.9 0M521.0 885.2a2.45 2.45 0 1 0 4.9 0a2.45 2.45 0 1 0 -4.9 0M521.9 887.7a2.45 2.45 0 1 0 4.9 0a2.45 2.45 0 1 0 -4.9 0M521.5 885.6a2.45 2.45 0 1 0 4.9 0a2.45 2.45 0 1 0 -4.9 0M522.2 886.7a2.45 2.45 0 1 0 4.9 0a2.45 2.45 0 1 0 -4.9 0M522.6 884.5a2.45 2.45 0 1 0 4.9 0a2.45 2.45 0 1 0 -4.9 0M523.3 888.2a2.45 2.45 0 1 0 4.9 0a2.45 2.45 0 1 0 -4.9 0M523.9 890.6a2.45 2.45 0 1 0 4.9 0a2.45 2.45 0 1 0 -4.9 0M524.5 890.9a2.45 2.45 0 1 0 4.9 0a2.45 2.45 0 1 0 -4.9 0M524.3 885.3a2.45 2.45 0 1 0 4.9 0a2.45 2.45 0 1 0 -4.9 0M525.6 889.2a2.45 2.45 0 1 0 4.9 0a2.45 2.45 0 1 0 -4.9 0M525.8 887.2a2.45 2.45 0 1 0 4.9 0a2.45 2.45 0 1 0 -4.9 0M526.6 888.2a2.45 2.45 0 1 0 4.9 0a2.45 2.45 0 1 0 -4.9 0M526.7 887.6a2.45 2.45 0 1 0 4.9 0a2.45 2.45 0 1 0 -4.9 0M527.3 890.5a2.45 2.45 0 1 0 4.9 0a2.45 2.45 0 1 0 -4.9 0M528.0 888.5a2.45 2.45 0 1 0 4.9 0a2.45 2.45 0 1 0 -4.9 0M528.7 887.4a2.45 2.45 0 1 0 4.9 0a2.45 2.45 0 1 0 -4.9 0M528.7 888.0a2.45 2.45 0 1 0 4.9 0a2.45 2.45 0 1 0 -4.9 0M529.2 886.5a2.45 2.45 0 1 0 4.9 0a2.45 2.45 0 1 0 -4.9 0M529.1 879.5a2.45 2.45 0 1 0 4.9 0a2.45 2.45 0 1 0 -4.9 0M530.8 884.3a2.45 2.45 0 1 0 4.9 0a2.45 2.45 0 1 0 -4.9 0M530.8 889.2a2.45 2.45 0 1 0 4.9 0a2.45 2.45 0 1 0 -4.9 0M531.1 884.1a2.45 2.45 0 1 0 4.9 0a2.45 2.45 0 1 0 -4.9 0M532.0 887.0a2.45 2.45 0 1 0 4.9 0a2.45 2.45 0 1 0 -4.9 0M532.7 890.2a2.45 2.45 0 1 0 4.9 0a2.45 2.45 0 1 0 -4.9 0M532.6 892.6a2.45 2.45 0 1 0 4.9 0a2.45 2.45 0 1 0 -4.9 0M533.8 887.8a2.45 2.45 0 1 0 4.9 0a2.45 2.45 0 1 0 -4.9 0M533.1 885.9a2.45 2.45 0 1 0 4.9 0a2.45 2.45 0 1 0 -4.9 0M534.9 885.1a2.45 2.45 0 1 0 4.9 0a2.45 2.45 0 1 0 -4.9 0M534.1 882.4a2.45 2.45 0 1 0 4.9 0a2.45 2.45 0 1 0 -4.9 0M536.0 889.3a2.45 2.45 0 1 0 4.9 0a2.45 2.45 0 1 0 -4.9 0M535.6 886.6a2.45 2.45 0 1 0 4.9 0a2.45 2.45 0 1 0 -4.9 0M536.9 889.3a2.45 2.45 0 1 0 4.9 0a2.45 2.45 0 1 0 -4.9 0M536.6 890.5a2.45 2.45 0 1 0 4.9 0a2.45 2.45 0 1 0 -4.9 0M537.2 885.8a2.45 2.45 0 1 0 4.9 0a2.45 2.45 0 1 0 -4.9 0M537.1 887.3a2.45 2.45 0 1 0 4.9 0a2.45 2.45 0 1 0 -4.9 0M539.0 886.6a2.45 2.45 0 1 0 4.9 0a2.45 2.45 0 1 0 -4.9 0M538.4 885.7a2.45 2.45 0 1 0 4.9 0a2.45 2.45 0 1 0 -4.9 0M540.0 887.5a2.45 2.45 0 1 0 4.9 0a2.45 2.45 0 1 0 -4.9 0M539.4 891.3a2.45 2.45 0 1 0 4.9 0a2.45 2.45 0 1 0 -4.9 0M540.2 886.0a2.45 2.45 0 1 0 4.9 0a2.45 2.45 0 1 0 -4.9 0M540.1 888.5a2.45 2.45 0 1 0 4.9 0a2.45 2.45 0 1 0 -4.9 0M541.3 885.7a2.45 2.45 0 1 0 4.9 0a2.45 2.45 0 1 0 -4.9 0M541.8 886.7a2.45 2.45 0 1 0 4.9 0a2.45 2.45 0 1 0 -4.9 0M543.0 889.6a2.45 2.45 0 1 0 4.9 0a2.45 2.45 0 1 0 -4.9 0M542.3 886.8a2.45 2.45 0 1 0 4.9 0a2.45 2.45 0 1 0 -4.9 0M544.0 886.7a2.45 2.45 0 1 0 4.9 0a2.45 2.45 0 1 0 -4.9 0M544.0 889.5a2.45 2.45 0 1 0 4.9 0a2.45 2.45 0 1 0 -4.9 0M544.6 887.3a2.45 2.45 0 1 0 4.9 0a2.45 2.45 0 1 0 -4.9 0M544.8 888.7a2.45 2.45 0 1 0 4.9 0a2.45 2.45 0 1 0 -4.9 0M546.0 892.7a2.45 2.45 0 1 0 4.9 0a2.45 2.45 0 1 0 -4.9 0M545.3 888.3a2.45 2.45 0 1 0 4.9 0a2.45 2.45 0 1 0 -4.9 0M546.2 888.4a2.45 2.45 0 1 0 4.9 0a2.45 2.45 0 1 0 -4.9 0M546.3 886.9a2.45 2.45 0 1 0 4.9 0a2.45 2.45 0 1 0 -4.9 0M547.2 885.9a2.45 2.45 0 1 0 4.9 0a2.45 2.45 0 1 0 -4.9 0M547.1 891.9a2.45 2.45 0 1 0 4.9 0a2.45 2.45 0 1 0 -4.9 0M548.3 888.6a2.45 2.45 0 1 0 4.9 0a2.45 2.45 0 1 0 -4.9 0M548.5 884.7a2.45 2.45 0 1 0 4.9 0a2.45 2.45 0 1 0 -4.9 0M549.6 887.7a2.45 2.45 0 1 0 4.9 0a2.45 2.45 0 1 0 -4.9 0M549.2 887.2a2.45 2.45 0 1 0 4.9 0a2.45 2.45 0 1 0 -4.9 0M550.7 888.0a2.45 2.45 0 1 0 4.9 0a2.45 2.45 0 1 0 -4.9 0M550.9 885.9a2.45 2.45 0 1 0 4.9 0a2.45 2.45 0 1 0 -4.9 0M551.7 885.6a2.45 2.45 0 1 0 4.9 0a2.45 2.45 0 1 0 -4.9 0M551.3 889.0a2.45 2.45 0 1 0 4.9 0a2.45 2.45 0 1 0 -4.9 0M552.9 885.7a2.45 2.45 0 1 0 4.9 0a2.45 2.45 0 1 0 -4.9 0M552.1 892.5a2.45 2.45 0 1 0 4.9 0a2.45 2.45 0 1 0 -4.9 0M554.0 887.7a2.45 2.45 0 1 0 4.9 0a2.45 2.45 0 1 0 -4.9 0M553.5 890.7a2.45 2.45 0 1 0 4.9 0a2.45 2.45 0 1 0 -4.9 0M554.1 888.0a2.45 2.45 0 1 0 4.9 0a2.45 2.45 0 1 0 -4.9 0M555.0 883.3a2.45 2.45 0 1 0 4.9 0a2.45 2.45 0 1 0 -4.9 0M555.9 889.1a2.45 2.45 0 1 0 4.9 0a2.45 2.45 0 1 0 -4.9 0M555.1 889.2a2.45 2.45 0 1 0 4.9 0a2.45 2.45 0 1 0 -4.9 0M556.9 885.8a2.45 2.45 0 1 0 4.9 0a2.45 2.45 0 1 0 -4.9 0M556.3 885.0a2.45 2.45 0 1 0 4.9 0a2.45 2.45 0 1 0 -4.9 0M558.0 889.4a2.45 2.45 0 1 0 4.9 0a2.45 2.45 0 1 0 -4.9 0M557.3 885.7a2.45 2.45 0 1 0 4.9 0a2.45 2.45 0 1 0 -4.9 0M558.6 885.4a2.45 2.45 0 1 0 4.9 0a2.45 2.45 0 1 0 -4.9 0M558.6 888.6a2.45 2.45 0 1 0 4.9 0a2.45 2.45 0 1 0 -4.9 0M559.4 885.6a2.45 2.45 0 1 0 4.9 0a2.45 2.45 0 1 0 -4.9 0M559.6 887.4a2.45 2.45 0 1 0 4.9 0a2.45 2.45 0 1 0 -4.9 0M560.2 889.1a2.45 2.45 0 1 0 4.9 0a2.45 2.45 0 1 0 -4.9 0M560.3 889.4a2.45 2.45 0 1 0 4.9 0a2.45 2.45 0 1 0 -4.9 0M561.3 887.5a2.45 2.45 0 1 0 4.9 0a2.45 2.45 0 1 0 -4.9 0M561.7 887.8a2.45 2.45 0 1 0 4.9 0a2.45 2.45 0 1 0 -4.9 0M562.6 884.4a2.45 2.45 0 1 0 4.9 0a2.45 2.45 0 1 0 -4.9 0M562.2 888.8a2.45 2.45 0 1 0 4.9 0a2.45 2.45 0 1 0 -4.9 0M563.5 890.3a2.45 2.45 0 1 0 4.9 0a2.45 2.45 0 1 0 -4.9 0M563.5 886.5a2.45 2.45 0 1 0 4.9 0a2.45 2.45 0 1 0 -4.9 0M564.7 887.8a2.45 2.45 0 1 0 4.9 0a2.45 2.45 0 1 0 -4.9 0M564.9 888.8a2.45 2.45 0 1 0 4.9 0a2.45 2.45 0 1 0 -4.9 0M565.2 882.1a2.45 2.45 0 1 0 4.9 0a2.45 2.45 0 1 0 -4.9 0M565.7 884.4a2.45 2.45 0 1 0 4.9 0a2.45 2.45 0 1 0 -4.9 0M566.1 888.4a2.45 2.45 0 1 0 4.9 0a2.45 2.45 0 1 0 -4.9 0M566.6 889.7a2.45 2.45 0 1 0 4.9 0a2.45 2.45 0 1 0 -4.9 0M567.1 886.0a2.45 2.45 0 1 0 4.9 0a2.45 2.45 0 1 0 -4.9 0M567.8 886.6a2.45 2.45 0 1 0 4.9 0a2.45 2.45 0 1 0 -4.9 0M568.4 884.3a2.45 2.45 0 1 0 4.9 0a2.45 2.45 0 1 0 -4.9 0M568.5 882.0a2.45 2.45 0 1 0 4.9 0a2.45 2.45 0 1 0 -4.9 0M569.6 887.5a2.45 2.45 0 1 0 4.9 0a2.45 2.45 0 1 0 -4.9 0M569.9 887.0a2.45 2.45 0 1 0 4.9 0a2.45 2.45 0 1 0 -4.9 0M570.3 892.1a2.45 2.45 0 1 0 4.9 0a2.45 2.45 0 1 0 -4.9 0M570.9 888.6a2.45 2.45 0 1 0 4.9 0a2.45 2.45 0 1 0 -4.9 0M571.4 888.8a2.45 2.45 0 1 0 4.9 0a2.45 2.45 0 1 0 -4.9 0M571.6 888.2a2.45 2.45 0 1 0 4.9 0a2.45 2.45 0 1 0 -4.9 0M572.7 892.1a2.45 2.45 0 1 0 4.9 0a2.45 2.45 0 1 0 -4.9 0M573.0 888.9a2.45 2.45 0 1 0 4.9 0a2.45 2.45 0 1 0 -4.9 0M573.8 888.8a2.45 2.45 0 1 0 4.9 0a2.45 2.45 0 1 0 -4.9 0M573.4 885.0a2.45 2.45 0 1 0 4.9 0a2.45 2.45 0 1 0 -4.9 0M574.1 888.9a2.45 2.45 0 1 0 4.9 0a2.45 2.45 0 1 0 -4.9 0M574.8 884.6a2.45 2.45 0 1 0 4.9 0a2.45 2.45 0 1 0 -4.9 0M575.9 884.8a2.45 2.45 0 1 0 4.9 0a2.45 2.45 0 1 0 -4.9 0M575.3 885.1a2.45 2.45 0 1 0 4.9 0a2.45 2.45 0 1 0 -4.9 0M576.1 889.4a2.45 2.45 0 1 0 4.9 0a2.45 2.45 0 1 0 -4.9 0M576.9 886.6a2.45 2.45 0 1 0 4.9 0a2.45 2.45 0 1 0 -4.9 0M577.6 888.8a2.45 2.45 0 1 0 4.9 0a2.45 2.45 0 1 0 -4.9 0M577.5 885.4a2.45 2.45 0 1 0 4.9 0a2.45 2.45 0 1 0 -4.9 0M578.4 887.7a2.45 2.45 0 1 0 4.9 0a2.45 2.45 0 1 0 -4.9 0M579.0 884.8a2.45 2.45 0 1 0 4.9 0a2.45 2.45 0 1 0 -4.9 0M579.4 887.1a2.45 2.45 0 1 0 4.9 0a2.45 2.45 0 1 0 -4.9 0M579.2 887.6a2.45 2.45 0 1 0 4.9 0a2.45 2.45 0 1 0 -4.9 0M580.9 884.0a2.45 2.45 0 1 0 4.9 0a2.45 2.45 0 1 0 -4.9 0M580.2 886.5a2.45 2.45 0 1 0 4.9 0a2.45 2.45 0 1 0 -4.9 0M581.2 885.0a2.45 2.45 0 1 0 4.9 0a2.45 2.45 0 1 0 -4.9 0M581.8 888.7a2.45 2.45 0 1 0 4.9 0a2.45 2.45 0 1 0 -4.9 0M582.1 885.5a2.45 2.45 0 1 0 4.9 0a2.45 2.45 0 1 0 -4.9 0M582.9 886.6a2.45 2.45 0 1 0 4.9 0a2.45 2.45 0 1 0 -4.9 0M583.2 885.5a2.45 2.45 0 1 0 4.9 0a2.45 2.45 0 1 0 -4.9 0M583.7 888.0a2.45 2.45 0 1 0 4.9 0a2.45 2.45 0 1 0 -4.9 0M584.8 884.7a2.45 2.45 0 1 0 4.9 0a2.45 2.45 0 1 0 -4.9 0M584.6 884.8a2.45 2.45 0 1 0 4.9 0a2.45 2.45 0 1 0 -4.9 0M585.2 884.4a2.45 2.45 0 1 0 4.9 0a2.45 2.45 0 1 0 -4.9 0M585.2 891.3a2.45 2.45 0 1 0 4.9 0a2.45 2.45 0 1 0 -4.9 0M586.5 888.2a2.45 2.45 0 1 0 4.9 0a2.45 2.45 0 1 0 -4.9 0M586.3 888.0a2.45 2.45 0 1 0 4.9 0a2.45 2.45 0 1 0 -4.9 0M588.0 885.3a2.45 2.45 0 1 0 4.9 0a2.45 2.45 0 1 0 -4.9 0M587.1 883.8a2.45 2.45 0 1 0 4.9 0a2.45 2.45 0 1 0 -4.9 0M588.8 886.4a2.45 2.45 0 1 0 4.9 0a2.45 2.45 0 1 0 -4.9 0M588.3 888.0a2.45 2.45 0 1 0 4.9 0a2.45 2.45 0 1 0 -4.9 0M589.7 885.4a2.45 2.45 0 1 0 4.9 0a2.45 2.45 0 1 0 -4.9 0M589.8 888.9a2.45 2.45 0 1 0 4.9 0a2.45 2.45 0 1 0 -4.9 0M590.5 889.7a2.45 2.45 0 1 0 4.9 0a2.45 2.45 0 1 0 -4.9 0M590.9 887.0a2.45 2.45 0 1 0 4.9 0a2.45 2.45 0 1 0 -4.9 0M591.1 887.4a2.45 2.45 0 1 0 4.9 0a2.45 2.45 0 1 0 -4.9 0M591.1 889.6a2.45 2.45 0 1 0 4.9 0a2.45 2.45 0 1 0 -4.9 0M592.1 886.7a2.45 2.45 0 1 0 4.9 0a2.45 2.45 0 1 0 -4.9 0M593.0 889.9a2.45 2.45 0 1 0 4.9 0a2.45 2.45 0 1 0 -4.9 0M593.2 889.3a2.45 2.45 0 1 0 4.9 0a2.45 2.45 0 1 0 -4.9 0M593.6 887.3a2.45 2.45 0 1 0 4.9 0a2.45 2.45 0 1 0 -4.9 0M594.5 889.4a2.45 2.45 0 1 0 4.9 0a2.45 2.45 0 1 0 -4.9 0M594.7 888.2a2.45 2.45 0 1 0 4.9 0a2.45 2.45 0 1 0 -4.9 0M596.0 886.5a2.45 2.45 0 1 0 4.9 0a2.45 2.45 0 1 0 -4.9 0M595.4 887.7a2.45 2.45 0 1 0 4.9 0a2.45 2.45 0 1 0 -4.9 0M54.3 873.9a2.45 2.45 0 1 0 4.9 0a2.45 2.45 0 1 0 -4.9 0M54.2 880.0a2.45 2.45 0 1 0 4.9 0a2.45 2.45 0 1 0 -4.9 0M91.7 870.7a2.45 2.45 0 1 0 4.9 0a2.45 2.45 0 1 0 -4.9 0M91.0 874.3a2.45 2.45 0 1 0 4.9 0a2.45 2.45 0 1 0 -4.9 0M91.8 878.0a2.45 2.45 0 1 0 4.9 0a2.45 2.45 0 1 0 -4.9 0M119.0 868.7a2.45 2.45 0 1 0 4.9 0a2.45 2.45 0 1 0 -4.9 0M119.5 872.0a2.45 2.45 0 1 0 4.9 0a2.45 2.45 0 1 0 -4.9 0M151.9 864.7a2.45 2.45 0 1 0 4.9 0a2.45 2.45 0 1 0 -4.9 0M183.8 867.0a2.45 2.45 0 1 0 4.9 0a2.45 2.45 0 1 0 -4.9 0M183.9 870.5a2.45 2.45 0 1 0 4.9 0a2.45 2.45 0 1 0 -4.9 0M184.1 874.0a2.45 2.45 0 1 0 4.9 0a2.45 2.45 0 1 0 -4.9 0M183.9 877.5a2.45 2.45 0 1 0 4.9 0a2.45 2.45 0 1 0 -4.9 0M184.2 881.0a2.45 2.45 0 1 0 4.9 0a2.45 2.45 0 1 0 -4.9 0M195.7 867.0a2.45 2.45 0 1 0 4.9 0a2.45 2.45 0 1 0 -4.9 0M209.3 862.0a2.45 2.45 0 1 0 4.9 0a2.45 2.45 0 1 0 -4.9 0M209.7 865.8a2.45 2.45 0 1 0 4.9 0a2.45 2.45 0 1 0 -4.9 0M241.4 848.5a2.45 2.45 0 1 0 4.9 0a2.45 2.45 0 1 0 -4.9 0M241.8 874.0a2.45 2.45 0 1 0 4.9 0a2.45 2.45 0 1 0 -4.9 0M281.0 855.4a2.45 2.45 0 1 0 4.9 0a2.45 2.45 0 1 0 -4.9 0M280.6 859.1a2.45 2.45 0 1 0 4.9 0a2.45 2.45 0 1 0 -4.9 0M280.9 862.8a2.45 2.45 0 1 0 4.9 0a2.45 2.45 0 1 0 -4.9 0M281.4 866.6a2.45 2.45 0 1 0 4.9 0a2.45 2.45 0 1 0 -4.9 0M280.7 870.3a2.45 2.45 0 1 0 4.9 0a2.45 2.45 0 1 0 -4.9 0M281.0 874.0a2.45 2.45 0 1 0 4.9 0a2.45 2.45 0 1 0 -4.9 0M350.6 869.0a2.45 2.45 0 1 0 4.9 0a2.45 2.45 0 1 0 -4.9 0M350.5 876.0a2.45 2.45 0 1 0 4.9 0a2.45 2.45 0 1 0 -4.9 0M381.3 858.3a2.45 2.45 0 1 0 4.9 0a2.45 2.45 0 1 0 -4.9 0M410.6 830.0a2.45 2.45 0 1 0 4.9 0a2.45 2.45 0 1 0 -4.9 0M411.0 858.0a2.45 2.45 0 1 0 4.9 0a2.45 2.45 0 1 0 -4.9 0M411.0 861.7a2.45 2.45 0 1 0 4.9 0a2.45 2.45 0 1 0 -4.9 0M411.2 865.4a2.45 2.45 0 1 0 4.9 0a2.45 2.45 0 1 0 -4.9 0M440.0 864.0a2.45 2.45 0 1 0 4.9 0a2.45 2.45 0 1 0 -4.9 0M440.4 867.2a2.45 2.45 0 1 0 4.9 0a2.45 2.45 0 1 0 -4.9 0M440.0 870.5a2.45 2.45 0 1 0 4.9 0a2.45 2.45 0 1 0 -4.9 0M440.4 873.7a2.45 2.45 0 1 0 4.9 0a2.45 2.45 0 1 0 -4.9 0M440.2 877.0a2.45 2.45 0 1 0 4.9 0a2.45 2.45 0 1 0 -4.9 0M467.2 865.4a2.45 2.45 0 1 0 4.9 0a2.45 2.45 0 1 0 -4.9 0M467.7 879.6a2.45 2.45 0 1 0 4.9 0a2.45 2.45 0 1 0 -4.9 0M496.1 869.6a2.45 2.45 0 1 0 4.9 0a2.45 2.45 0 1 0 -4.9 0M495.7 873.0a2.45 2.45 0 1 0 4.9 0a2.45 2.45 0 1 0 -4.9 0M495.7 876.3a2.45 2.45 0 1 0 4.9 0a2.45 2.45 0 1 0 -4.9 0M496.2 879.6a2.45 2.45 0 1 0 4.9 0a2.45 2.45 0 1 0 -4.9 0M511.8 871.7a2.45 2.45 0 1 0 4.9 0a2.45 2.45 0 1 0 -4.9 0M512.3 875.6a2.45 2.45 0 1 0 4.9 0a2.45 2.45 0 1 0 -4.9 0M511.6 879.6a2.45 2.45 0 1 0 4.9 0a2.45 2.45 0 1 0 -4.9 0M534.0 864.0a2.45 2.45 0 1 0 4.9 0a2.45 2.45 0 1 0 -4.9 0M533.5 867.2a2.45 2.45 0 1 0 4.9 0a2.45 2.45 0 1 0 -4.9 0M533.3 870.5a2.45 2.45 0 1 0 4.9 0a2.45 2.45 0 1 0 -4.9 0M533.9 873.7a2.45 2.45 0 1 0 4.9 0a2.45 2.45 0 1 0 -4.9 0M533.8 877.0a2.45 2.45 0 1 0 4.9 0a2.45 2.45 0 1 0 -4.9 0M568.0 855.7a2.45 2.45 0 1 0 4.9 0a2.45 2.45 0 1 0 -4.9 0M567.9 859.1a2.45 2.45 0 1 0 4.9 0a2.45 2.45 0 1 0 -4.9 0M567.8 862.5a2.45 2.45 0 1 0 4.9 0a2.45 2.45 0 1 0 -4.9 0M568.1 866.0a2.45 2.45 0 1 0 4.9 0a2.45 2.45 0 1 0 -4.9 0M567.7 869.4a2.45 2.45 0 1 0 4.9 0a2.45 2.45 0 1 0 -4.9 0M567.6 876.2a2.45 2.45 0 1 0 4.9 0a2.45 2.45 0 1 0 -4.9 0M567.3 879.6a2.45 2.45 0 1 0 4.9 0a2.45 2.45 0 1 0 -4.9 0M595.8 851.2a2.45 2.45 0 1 0 4.9 0a2.45 2.45 0 1 0 -4.9 0M595.6 854.8a2.45 2.45 0 1 0 4.9 0a2.45 2.45 0 1 0 -4.9 0M596.3 858.3a2.45 2.45 0 1 0 4.9 0a2.45 2.45 0 1 0 -4.9 0" fill="none" stroke="#ff0000" stroke-width="1.05" shape-rendering="auto"/>
</g>
</svg></body></html>
